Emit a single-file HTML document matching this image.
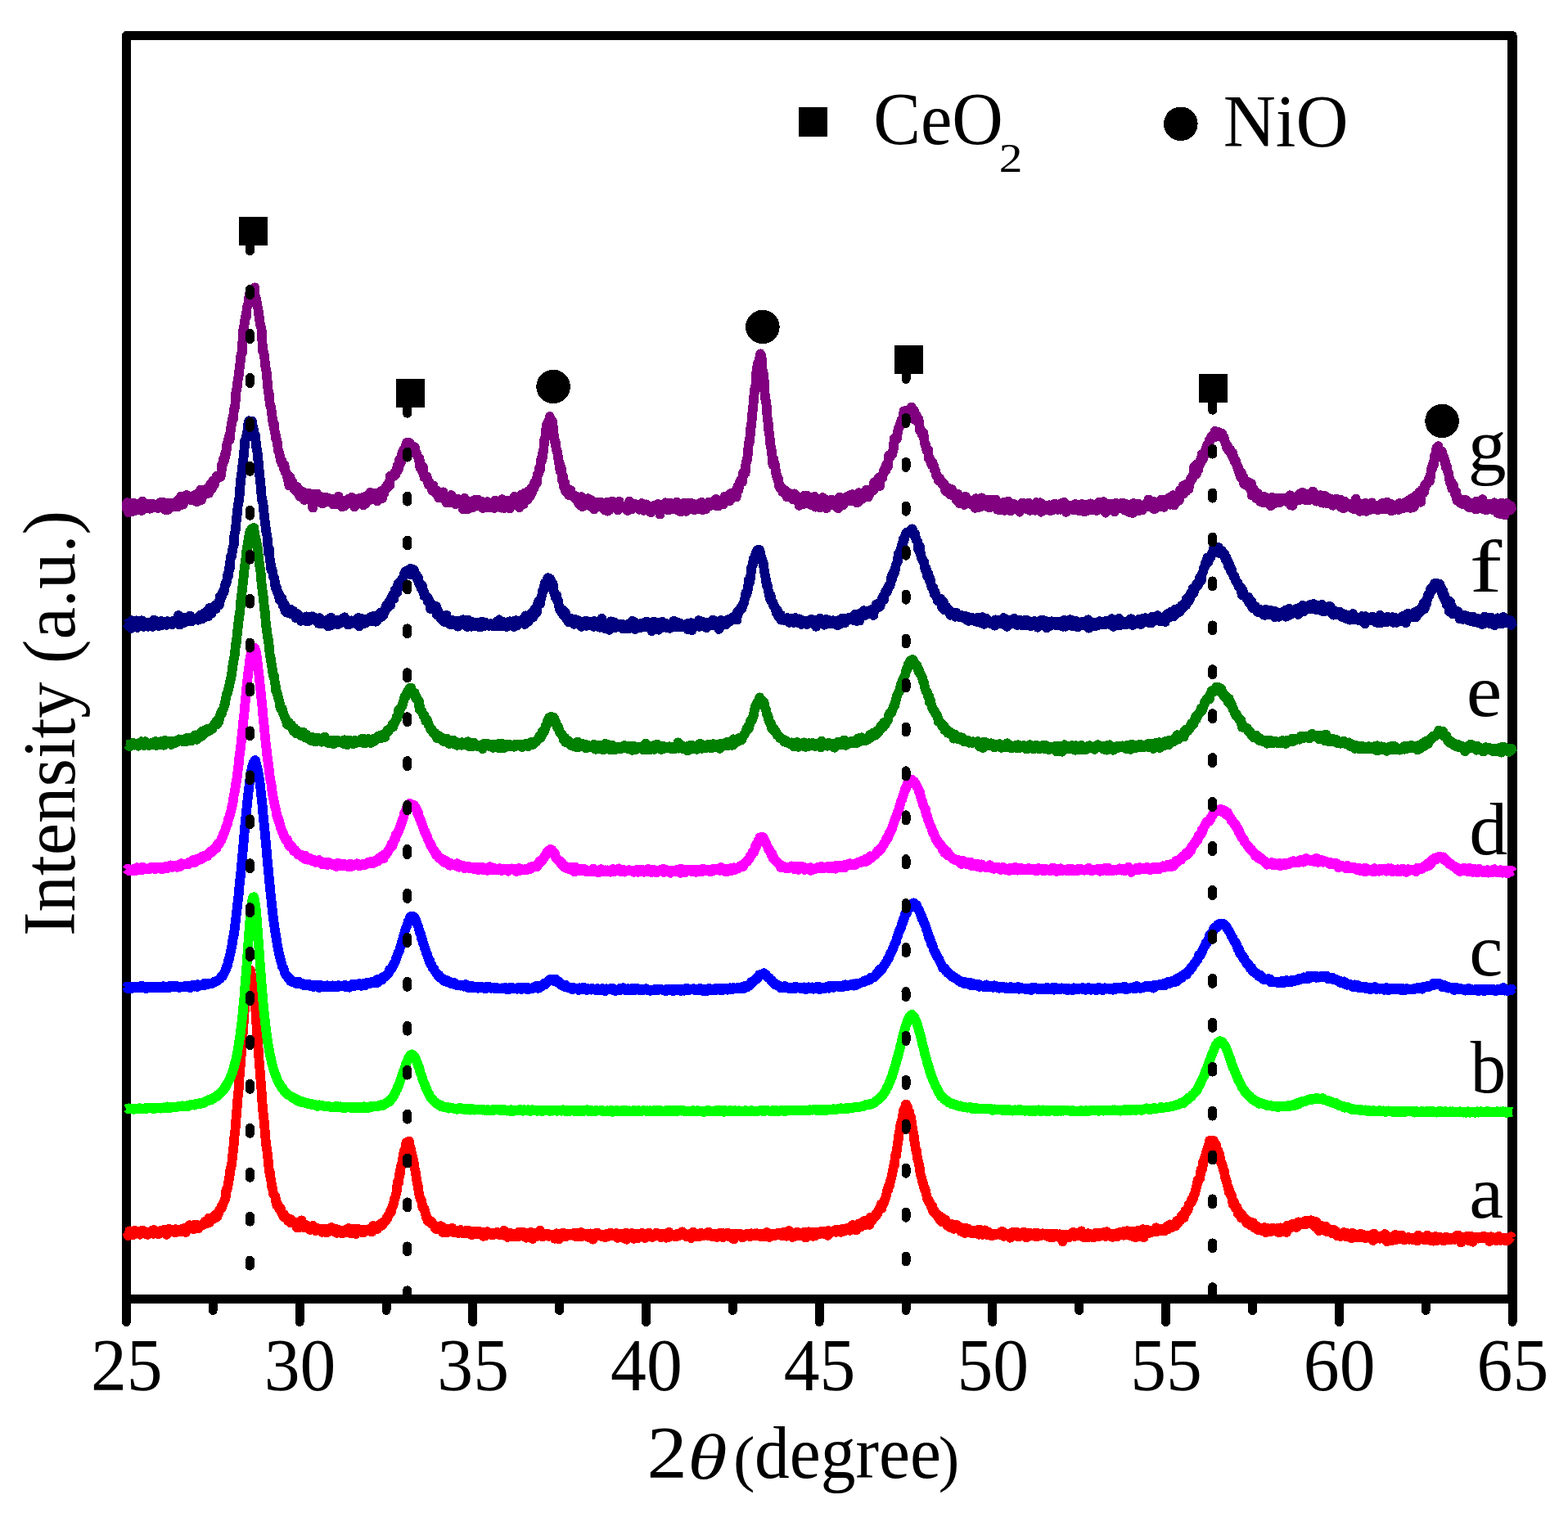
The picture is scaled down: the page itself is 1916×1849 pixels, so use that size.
<!DOCTYPE html><html><head><meta charset="utf-8"><title>XRD</title><style>html,body{margin:0;padding:0;background:#fff;overflow:hidden}svg{display:block}</style></head><body>
<svg width="1916" height="1849" viewBox="0 0 1916 1849" shape-rendering="crispEdges">
<rect width="1916" height="1849" fill="#fff"/>
<rect x="154.4" y="43.45" width="1693.6" height="1543.95" fill="none" stroke="#000" stroke-width="11" stroke-linejoin="round"/>
<line x1="1848.0" y1="43.45" x2="1848.0" y2="1587.4" stroke="#000" stroke-width="12"/>
<line x1="154.4" y1="1587.4" x2="154.4" y2="1615.5" stroke="#000" stroke-width="11" stroke-linecap="round"/>
<line x1="260.2" y1="1587.4" x2="260.2" y2="1601.4" stroke="#000" stroke-width="11" stroke-linecap="round"/>
<line x1="366.1" y1="1587.4" x2="366.1" y2="1615.5" stroke="#000" stroke-width="11" stroke-linecap="round"/>
<line x1="472.0" y1="1587.4" x2="472.0" y2="1601.4" stroke="#000" stroke-width="11" stroke-linecap="round"/>
<line x1="577.8" y1="1587.4" x2="577.8" y2="1615.5" stroke="#000" stroke-width="11" stroke-linecap="round"/>
<line x1="683.6" y1="1587.4" x2="683.6" y2="1601.4" stroke="#000" stroke-width="11" stroke-linecap="round"/>
<line x1="789.5" y1="1587.4" x2="789.5" y2="1615.5" stroke="#000" stroke-width="11" stroke-linecap="round"/>
<line x1="895.4" y1="1587.4" x2="895.4" y2="1601.4" stroke="#000" stroke-width="11" stroke-linecap="round"/>
<line x1="1001.2" y1="1587.4" x2="1001.2" y2="1615.5" stroke="#000" stroke-width="11" stroke-linecap="round"/>
<line x1="1107.0" y1="1587.4" x2="1107.0" y2="1601.4" stroke="#000" stroke-width="11" stroke-linecap="round"/>
<line x1="1212.9" y1="1587.4" x2="1212.9" y2="1615.5" stroke="#000" stroke-width="11" stroke-linecap="round"/>
<line x1="1318.8" y1="1587.4" x2="1318.8" y2="1601.4" stroke="#000" stroke-width="11" stroke-linecap="round"/>
<line x1="1424.6" y1="1587.4" x2="1424.6" y2="1615.5" stroke="#000" stroke-width="11" stroke-linecap="round"/>
<line x1="1530.5" y1="1587.4" x2="1530.5" y2="1601.4" stroke="#000" stroke-width="11" stroke-linecap="round"/>
<line x1="1636.3" y1="1587.4" x2="1636.3" y2="1615.5" stroke="#000" stroke-width="11" stroke-linecap="round"/>
<line x1="1742.2" y1="1587.4" x2="1742.2" y2="1601.4" stroke="#000" stroke-width="11" stroke-linecap="round"/>
<line x1="1848.0" y1="1587.4" x2="1848.0" y2="1615.5" stroke="#000" stroke-width="11" stroke-linecap="round"/>
<polyline fill="none" stroke="#FF0000" stroke-width="11.8" stroke-linejoin="round" stroke-linecap="butt" points="154.4,1506.2 155.2,1505.9 156.1,1509.7 156.9,1510.2 157.8,1507 158.6,1504.4 159.5,1507 160.3,1506.7 161.2,1505 162,1509.3 162.9,1508.3 163.7,1504 164.6,1508.1 165.4,1503.9 166.3,1505.7 167.1,1504.8 167.9,1505.1 168.8,1506.4 169.6,1505.5 170.5,1505.7 171.3,1508.7 172.2,1505.7 173,1507 173.9,1503.4 174.7,1506.5 175.6,1507.4 176.4,1506.3 177.3,1505 178.1,1507.9 179,1508.6 179.8,1506.2 180.7,1508.8 181.5,1508.3 182.3,1506.4 183.2,1506.5 184,1507.6 184.9,1506.9 185.7,1503.8 186.6,1505.3 187.4,1507.8 188.3,1503.1 189.1,1505.5 190,1504.2 190.8,1506.1 191.7,1506.8 192.5,1507.6 193.4,1508.3 194.2,1507.6 195,1504.3 195.9,1505.3 196.7,1506.2 197.6,1504.3 198.4,1504.2 199.3,1503.4 200.1,1506.2 201,1502.7 201.8,1506.3 202.7,1503.7 203.5,1508.8 204.4,1503.6 205.2,1504.9 206.1,1506.2 206.9,1501.8 207.7,1502.7 208.6,1504.4 209.4,1503.5 210.3,1503.2 211.1,1503 212,1503.9 212.8,1502.7 213.7,1506.3 214.5,1502.1 215.4,1505.8 216.2,1505.2 217.1,1503.8 217.9,1502.4 218.8,1503.1 219.6,1505 220.5,1504.6 221.3,1502.6 222.1,1504.1 223,1501.8 223.8,1505 224.7,1505.2 225.5,1500.8 226.4,1503.7 227.2,1506 228.1,1501.2 228.9,1500.7 229.8,1499.8 230.6,1501.3 231.5,1497.2 232.3,1499.9 233.2,1497.9 234,1499.6 234.8,1500.2 235.7,1499.4 236.5,1502.4 237.4,1497.1 238.2,1498 239.1,1496.6 239.9,1498.9 240.8,1497.1 241.6,1497.7 242.5,1501.3 243.3,1497.5 244.2,1497.8 245,1497.7 245.9,1497.5 246.7,1497.8 247.5,1497.5 248.4,1495.1 249.2,1495.8 250.1,1494.6 250.9,1492.3 251.8,1495.1 252.6,1495 253.5,1493.6 254.3,1494.6 255.2,1488.5 256,1494 256.9,1490.8 257.7,1488.8 258.6,1489.3 259.4,1488.2 260.2,1488.7 261.1,1489.4 261.9,1489 262.8,1484.9 263.6,1484.9 264.5,1488 265.3,1486.8 266.2,1484.1 267,1483.4 267.9,1478.7 268.7,1479 269.6,1477.6 270.4,1474.4 271.3,1475.6 272.1,1472.2 273,1469.7 273.8,1469 274.6,1465.9 275.5,1464.8 276.3,1454.8 277.2,1454.8 278,1452 278.9,1446.9 279.7,1441.9 280.6,1436.5 281.4,1429.9 282.3,1425.8 283.1,1423.4 284,1412.9 284.8,1407.4 285.7,1398.3 286.5,1387.7 287.3,1382.9 288.2,1371.1 289,1360.7 289.9,1350.5 290.7,1339.3 291.6,1332.2 292.4,1318.7 293.3,1308.2 294.1,1296.9 295,1285.6 295.8,1269.6 296.7,1263 297.5,1252.4 298.4,1238.7 299.2,1230.5 300,1216.6 300.9,1209.6 301.7,1200.1 302.6,1197.3 303.4,1191.4 304.3,1188.7 305.1,1187.6 306,1185.7 306.8,1190.4 307.7,1194.5 308.5,1196.6 309.4,1205.9 310.2,1212.1 311.1,1222 311.9,1228 312.8,1241 313.6,1254.7 314.4,1266.2 315.3,1275.4 316.1,1288.9 317,1301 317.8,1310.5 318.7,1322.3 319.5,1332.2 320.4,1346.8 321.2,1356.9 322.1,1364.8 322.9,1372.3 323.8,1383.8 324.6,1392.8 325.5,1401.1 326.3,1405.6 327.1,1413.4 328,1420.2 328.8,1431.1 329.7,1431.5 330.5,1439.1 331.4,1443.3 332.2,1450.3 333.1,1452.9 333.9,1458.2 334.8,1460 335.6,1461.3 336.5,1462.4 337.3,1468.9 338.2,1473 339,1470.6 339.8,1473.8 340.7,1476.2 341.5,1478.2 342.4,1475.8 343.2,1477.5 344.1,1482.1 344.9,1482.5 345.8,1485.5 346.6,1487 347.5,1484.3 348.3,1488.3 349.2,1487.8 350,1488.2 350.9,1488.3 351.7,1491.1 352.6,1492.5 353.4,1492.5 354.2,1493.9 355.1,1494.6 355.9,1490.3 356.8,1494.4 357.6,1494.6 358.5,1493.3 359.3,1494.5 360.2,1493.5 361,1495.2 361.9,1495 362.7,1500.1 363.6,1499.1 364.4,1499.7 365.3,1500.6 366.1,1496.7 366.9,1497.9 367.8,1498.4 368.6,1491.4 369.5,1497.9 370.3,1498.9 371.2,1500.2 372,1498.4 372.9,1497.9 373.7,1499.5 374.6,1497.2 375.4,1500.7 376.3,1500.4 377.1,1500.2 378,1500.7 378.8,1503 379.6,1499.3 380.5,1501 381.3,1502.6 382.2,1497.8 383,1502.6 383.9,1501.3 384.7,1502.2 385.6,1504.1 386.4,1503.4 387.3,1503.5 388.1,1500.8 389,1502.2 389.8,1501.5 390.7,1502.4 391.5,1503.1 392.4,1502.5 393.2,1505.8 394,1502.8 394.9,1501.6 395.7,1503.1 396.6,1503.9 397.4,1503.3 398.3,1501.6 399.1,1506.6 400,1503.6 400.8,1503.5 401.7,1505 402.5,1502.1 403.4,1504.6 404.2,1500.9 405.1,1499.9 405.9,1503.7 406.7,1502.5 407.6,1504.5 408.4,1503.1 409.3,1505.1 410.1,1506.3 411,1501.9 411.8,1506.9 412.7,1502.8 413.5,1505.7 414.4,1503 415.2,1506.1 416.1,1504.8 416.9,1506.8 417.8,1503.4 418.6,1507.2 419.4,1504.6 420.3,1504.7 421.1,1503.7 422,1503.5 422.8,1502.9 423.7,1505.7 424.5,1502 425.4,1505.5 426.2,1501.1 427.1,1504 427.9,1505.5 428.8,1507.2 429.6,1504.1 430.5,1504.9 431.3,1503.7 432.2,1504.7 433,1501.6 433.8,1502.6 434.7,1508 435.5,1503.2 436.4,1502.9 437.2,1505.2 438.1,1501.9 438.9,1504.8 439.8,1502.8 440.6,1503.9 441.5,1503.1 442.3,1505.7 443.2,1506.5 444,1506.5 444.9,1502.5 445.7,1503.9 446.5,1504.4 447.4,1503.2 448.2,1502.6 449.1,1504.4 449.9,1504.4 450.8,1502.8 451.6,1501.6 452.5,1502.2 453.3,1502.8 454.2,1505.5 455,1501.9 455.9,1498 456.7,1499.5 457.6,1500.1 458.4,1501.1 459.2,1499.9 460.1,1498.6 460.9,1501.9 461.8,1497.7 462.6,1498.7 463.5,1496.6 464.3,1497.1 465.2,1498.7 466,1495 466.9,1496.1 467.7,1496.7 468.6,1493.6 469.4,1493.7 470.3,1492.3 471.1,1492 471.9,1491.1 472.8,1487.8 473.6,1488.7 474.5,1485 475.3,1484.1 476.2,1483.3 477,1479.6 477.9,1481.6 478.7,1476.8 479.6,1474 480.4,1473.3 481.3,1469 482.1,1464.5 483,1462.9 483.8,1459.8 484.7,1456.5 485.5,1447.5 486.3,1443.1 487.2,1445.4 488,1435.2 488.9,1433.9 489.7,1425.6 490.6,1425.1 491.4,1420.3 492.3,1414.9 493.1,1410.6 494,1406 494.8,1405.7 495.7,1400.5 496.5,1396.2 497.4,1396 498.2,1396.9 499,1396 499.9,1394.7 500.7,1399.7 501.6,1402.7 502.4,1407.4 503.3,1409.9 504.1,1414.4 505,1416.6 505.8,1422 506.7,1428 507.5,1430.2 508.4,1436.5 509.2,1442.2 510.1,1446.6 510.9,1450.1 511.7,1457.6 512.6,1461.4 513.4,1464.6 514.3,1465.1 515.1,1467.7 516,1473.2 516.8,1476.5 517.7,1476.9 518.5,1477.6 519.4,1481.2 520.2,1484.8 521.1,1488.5 521.9,1487.8 522.8,1492.4 523.6,1490.8 524.5,1492.5 525.3,1493.9 526.1,1493.8 527,1494.8 527.8,1493 528.7,1496.6 529.5,1496.9 530.4,1497.2 531.2,1499.3 532.1,1501.8 532.9,1500.5 533.8,1500.2 534.6,1502 535.5,1500.6 536.3,1501.7 537.2,1501.4 538,1501 538.8,1498.2 539.7,1501.1 540.5,1499.3 541.4,1506.3 542.2,1504.3 543.1,1502.7 543.9,1503.2 544.8,1504.6 545.6,1503 546.5,1506.2 547.3,1502 548.2,1503.8 549,1503.7 549.9,1505.4 550.7,1503 551.5,1504.5 552.4,1500.7 553.2,1503.2 554.1,1505.7 554.9,1506.6 555.8,1504.6 556.6,1503.9 557.5,1506.4 558.3,1504.8 559.2,1506 560,1507.2 560.9,1504.7 561.7,1506.4 562.6,1503 563.4,1505.2 564.3,1506 565.1,1504.7 565.9,1507.5 566.8,1505 567.6,1506.1 568.5,1504.8 569.3,1505.1 570.2,1503.4 571,1504.3 571.9,1507.4 572.7,1506.6 573.6,1504.3 574.4,1506.5 575.3,1508.9 576.1,1508.6 577,1508 577.8,1508.8 578.6,1505.6 579.5,1504.9 580.3,1508.5 581.2,1506.5 582,1505.8 582.9,1504.5 583.7,1507.9 584.6,1504.7 585.4,1505 586.3,1507.5 587.1,1507.8 588,1507.7 588.8,1509.5 589.7,1507.1 590.5,1510.8 591.3,1506 592.2,1507 593,1507.4 593.9,1510 594.7,1505.7 595.6,1505.2 596.4,1507.3 597.3,1507.5 598.1,1506.8 599,1507.3 599.8,1508.9 600.7,1509.4 601.5,1507.3 602.4,1508.6 603.2,1509 604.1,1508.4 604.9,1507.7 605.7,1507 606.6,1506.2 607.4,1506.1 608.3,1508.2 609.1,1507.4 610,1509.1 610.8,1509.5 611.7,1506.9 612.5,1506.5 613.4,1509.2 614.2,1507.8 615.1,1504.2 615.9,1508.3 616.8,1504.2 617.6,1508 618.4,1507.9 619.3,1508.6 620.1,1511.9 621,1506.7 621.8,1510.9 622.7,1506.4 623.5,1510.2 624.4,1511.6 625.2,1508.6 626.1,1507.4 626.9,1507.4 627.8,1509.8 628.6,1508.9 629.5,1510.3 630.3,1511.6 631.1,1510.4 632,1511.3 632.8,1511.3 633.7,1505.9 634.5,1510.1 635.4,1507.4 636.2,1510.5 637.1,1507.6 637.9,1510.5 638.8,1505.4 639.6,1506.4 640.5,1508 641.3,1509.8 642.2,1510.2 643,1512.8 643.9,1506.9 644.7,1507.9 645.5,1511.5 646.4,1510.2 647.2,1508.2 648.1,1505.8 648.9,1511.9 649.8,1507.2 650.6,1514 651.5,1509 652.3,1508.8 653.2,1510 654,1507.9 654.9,1506.8 655.7,1511.1 656.6,1507.9 657.4,1509.4 658.2,1506 659.1,1509.2 659.9,1503.5 660.8,1509.1 661.6,1508.6 662.5,1510.8 663.3,1511.4 664.2,1511 665,1507.7 665.9,1510.5 666.7,1508.6 667.6,1508 668.4,1509.4 669.3,1509.6 670.1,1507.9 670.9,1510.8 671.8,1509.5 672.6,1510.6 673.5,1508.6 674.3,1509.8 675.2,1509.9 676,1508.7 676.9,1508.6 677.7,1513.7 678.6,1508.8 679.4,1509.1 680.3,1507.3 681.1,1510 682,1507.5 682.8,1514.3 683.6,1509.1 684.5,1511.6 685.3,1511.3 686.2,1510.3 687,1507.8 687.9,1506.7 688.7,1507.2 689.6,1510.8 690.4,1508.8 691.3,1511.4 692.1,1509.5 693,1510.3 693.8,1508.7 694.7,1507.6 695.5,1507.7 696.4,1508.9 697.2,1509.7 698,1509.6 698.9,1509 699.7,1509.7 700.6,1507.8 701.4,1506.9 702.3,1508.8 703.1,1510.9 704,1506.9 704.8,1510.2 705.7,1510.8 706.5,1509.5 707.4,1510.9 708.2,1508.2 709.1,1511.6 709.9,1506 710.7,1511.2 711.6,1509.1 712.4,1507.3 713.3,1507.9 714.1,1509.1 715,1507.7 715.8,1510.7 716.7,1507.9 717.5,1508.6 718.4,1508.4 719.2,1512 720.1,1510.6 720.9,1508.5 721.8,1507.4 722.6,1508.7 723.4,1509.3 724.3,1514.7 725.1,1508.9 726,1509.6 726.8,1509.3 727.7,1510.9 728.5,1506.9 729.4,1509 730.2,1506.5 731.1,1508.2 731.9,1509.2 732.8,1510.3 733.6,1510.1 734.5,1510.7 735.3,1510.2 736.2,1508.5 737,1509.1 737.8,1511.7 738.7,1511.1 739.5,1512.3 740.4,1510.9 741.2,1507.9 742.1,1511.3 742.9,1511 743.8,1510.4 744.6,1507.1 745.5,1508.6 746.3,1506.7 747.2,1508.3 748,1507.9 748.9,1508.5 749.7,1510.4 750.5,1509.7 751.4,1508.4 752.2,1510.2 753.1,1506.9 753.9,1510.7 754.8,1512.8 755.6,1512.3 756.5,1509.9 757.3,1509.3 758.2,1507.5 759,1512.2 759.9,1511.6 760.7,1512.7 761.6,1511.1 762.4,1509.8 763.2,1509.8 764.1,1510.8 764.9,1506.6 765.8,1514.8 766.6,1508.7 767.5,1511.3 768.3,1511 769.2,1511 770,1507.8 770.9,1507.5 771.7,1507.1 772.6,1507.5 773.4,1511 774.3,1513.9 775.1,1509.2 776,1509.7 776.8,1509.8 777.6,1512.2 778.5,1507.5 779.3,1513.1 780.2,1509.1 781,1509.7 781.9,1509.2 782.7,1507.6 783.6,1510.5 784.4,1506.7 785.3,1510 786.1,1508 787,1508.1 787.8,1513 788.7,1509 789.5,1509.9 790.3,1510.5 791.2,1511.5 792,1508.7 792.9,1506.7 793.7,1507.6 794.6,1510.3 795.4,1508.6 796.3,1511.3 797.1,1512 798,1509.3 798.8,1508.5 799.7,1508.7 800.5,1508.2 801.4,1509.2 802.2,1506.5 803,1506.9 803.9,1507.6 804.7,1510.1 805.6,1509.4 806.4,1508.9 807.3,1512.1 808.1,1508.3 809,1511.5 809.8,1508.7 810.7,1509.4 811.5,1507.8 812.4,1511 813.2,1508.7 814.1,1512.7 814.9,1509.8 815.8,1512.5 816.6,1509.1 817.4,1505.8 818.3,1511.5 819.1,1508.8 820,1509.9 820.8,1508.8 821.7,1508.8 822.5,1509.3 823.4,1510.9 824.2,1509.6 825.1,1509.6 825.9,1509.2 826.8,1511.2 827.6,1507.6 828.5,1509.2 829.3,1510.3 830.1,1507.5 831,1509.5 831.8,1508.8 832.7,1509.5 833.5,1505.4 834.4,1508.2 835.2,1508.6 836.1,1508.6 836.9,1510 837.8,1508 838.6,1511.1 839.5,1509.1 840.3,1510.7 841.2,1510.7 842,1509.9 842.8,1508.2 843.7,1510.6 844.5,1513.1 845.4,1510 846.2,1508 847.1,1505.6 847.9,1511.1 848.8,1509.2 849.6,1509.1 850.5,1511 851.3,1508.8 852.2,1509.2 853,1509.8 853.9,1508.6 854.7,1511.2 855.6,1510.3 856.4,1506.7 857.2,1508.4 858.1,1510.3 858.9,1510.5 859.8,1509.7 860.6,1509.3 861.5,1507.7 862.3,1508.1 863.2,1508.2 864,1509.3 864.9,1509.8 865.7,1505.5 866.6,1508.8 867.4,1510.2 868.3,1510.5 869.1,1510.7 869.9,1507.5 870.8,1510.3 871.6,1508.6 872.5,1511.4 873.3,1509.2 874.2,1511.4 875,1511.8 875.9,1507.5 876.7,1511.7 877.6,1511.5 878.4,1509.6 879.3,1507.2 880.1,1506.4 881,1509.8 881.8,1511.4 882.6,1511 883.5,1512.2 884.3,1507.3 885.2,1511 886,1510.9 886.9,1509.3 887.7,1508 888.6,1506.6 889.4,1508.7 890.3,1510.4 891.1,1509.1 892,1511.8 892.8,1511.8 893.7,1512.4 894.5,1513.1 895.3,1511.4 896.2,1507.6 897,1514.3 897.9,1511.1 898.7,1509.3 899.6,1510.9 900.4,1510.5 901.3,1507.7 902.1,1508.5 903,1509.2 903.8,1510.1 904.7,1509.6 905.5,1508.2 906.4,1508.7 907.2,1512.4 908.1,1509.4 908.9,1509.3 909.7,1509 910.6,1510.8 911.4,1509.2 912.3,1507.8 913.1,1508.3 914,1508.6 914.8,1509.7 915.7,1510.9 916.5,1511.2 917.4,1507.3 918.2,1507.3 919.1,1508.5 919.9,1508.9 920.8,1507.5 921.6,1507.6 922.4,1507.4 923.3,1510.5 924.1,1508 925,1507.3 925.8,1507.5 926.7,1509 927.5,1507.5 928.4,1509.5 929.2,1510.9 930.1,1509.4 930.9,1509.4 931.8,1509.5 932.6,1508 933.5,1511.1 934.3,1510.2 935.1,1511.2 936,1509.2 936.8,1506.1 937.7,1507.9 938.5,1507.7 939.4,1509.2 940.2,1512 941.1,1510.3 941.9,1508.3 942.8,1509.5 943.6,1508.7 944.5,1507.6 945.3,1509.7 946.2,1509.1 947,1509.9 947.9,1508.2 948.7,1509.6 949.5,1509.4 950.4,1507 951.2,1508.3 952.1,1509 952.9,1507.1 953.8,1509.7 954.6,1508 955.5,1507.9 956.3,1510.5 957.2,1506.1 958,1509.6 958.9,1510.5 959.7,1506.6 960.6,1510.7 961.4,1509.5 962.2,1510.5 963.1,1508.6 963.9,1504 964.8,1507.9 965.6,1509.2 966.5,1509.4 967.3,1509 968.2,1512 969,1506.8 969.9,1509.7 970.7,1511 971.6,1509.8 972.4,1508.6 973.3,1510.2 974.1,1505.7 974.9,1509.9 975.8,1506.7 976.6,1507.4 977.5,1506.6 978.3,1509.7 979.2,1506.8 980,1509.2 980.9,1507.1 981.7,1509.3 982.6,1505.6 983.4,1507.6 984.3,1512.6 985.1,1508 986,1507 986.8,1506.6 987.7,1505.3 988.5,1510.4 989.3,1506.8 990.2,1508.8 991,1507.4 991.9,1509.6 992.7,1506.1 993.6,1510.9 994.4,1506.1 995.3,1509.5 996.1,1510.3 997,1507.1 997.8,1507.9 998.7,1505.5 999.5,1508.1 1000.4,1507.8 1001.2,1506.7 1002,1508 1002.9,1505.3 1003.7,1506.9 1004.6,1504.7 1005.4,1504.9 1006.3,1505.4 1007.1,1508.2 1008,1506 1008.8,1508.6 1009.7,1507.1 1010.5,1507.5 1011.4,1509.9 1012.2,1504 1013.1,1506.4 1013.9,1506.9 1014.7,1506 1015.6,1504.7 1016.4,1505.6 1017.3,1504.4 1018.1,1504.6 1019,1504.7 1019.8,1503.6 1020.7,1503 1021.5,1505.7 1022.4,1505.6 1023.2,1503 1024.1,1503.7 1024.9,1502.8 1025.8,1503 1026.6,1505.3 1027.5,1505.8 1028.3,1504.9 1029.1,1501.8 1030,1503 1030.8,1504.6 1031.7,1504.6 1032.5,1504.2 1033.4,1501.9 1034.2,1502.2 1035.1,1502.2 1035.9,1500.7 1036.8,1503.3 1037.6,1501.3 1038.5,1503.9 1039.3,1501.8 1040.2,1500 1041,1500.9 1041.8,1496.9 1042.7,1499 1043.5,1500.8 1044.4,1500.9 1045.2,1499.2 1046.1,1503.5 1046.9,1498.1 1047.8,1499.2 1048.6,1499.7 1049.5,1495.4 1050.3,1496.5 1051.2,1499.7 1052,1498.3 1052.9,1495.3 1053.7,1496.9 1054.5,1493.5 1055.4,1492.1 1056.2,1496.6 1057.1,1496.1 1057.9,1497 1058.8,1493.2 1059.6,1491.6 1060.5,1491.1 1061.3,1491.7 1062.2,1496.8 1063,1490 1063.9,1487.4 1064.7,1489 1065.6,1491.5 1066.4,1489.9 1067.3,1487 1068.1,1488.4 1068.9,1487.4 1069.8,1484 1070.6,1485.6 1071.5,1482.4 1072.3,1483.1 1073.2,1480 1074,1478.2 1074.9,1478.6 1075.7,1476.6 1076.6,1471.5 1077.4,1476.9 1078.3,1471.4 1079.1,1471.9 1080,1469.6 1080.8,1467.2 1081.6,1464.7 1082.5,1462.8 1083.3,1459 1084.2,1453.9 1085,1454.5 1085.9,1449.4 1086.7,1449.7 1087.6,1444.4 1088.4,1442.6 1089.3,1438.7 1090.1,1435.4 1091,1430.6 1091.8,1425.7 1092.7,1424.8 1093.5,1417.1 1094.3,1410.5 1095.2,1412.4 1096,1404 1096.9,1397.5 1097.7,1393.2 1098.6,1384 1099.4,1383.3 1100.3,1375.3 1101.1,1372.3 1102,1370.6 1102.8,1364.5 1103.7,1359.5 1104.5,1355.7 1105.4,1356 1106.2,1355.2 1107,1349.4 1107.9,1354.4 1108.7,1352.3 1109.6,1358.2 1110.4,1359.3 1111.3,1358.8 1112.1,1364.4 1113,1365.5 1113.8,1371 1114.7,1376.7 1115.5,1382.5 1116.4,1384.7 1117.2,1393.8 1118.1,1398.5 1118.9,1404.9 1119.8,1405.2 1120.6,1411.9 1121.4,1417.2 1122.3,1420.2 1123.1,1423.8 1124,1429.1 1124.8,1435.5 1125.7,1437.9 1126.5,1440.5 1127.4,1445.9 1128.2,1446.8 1129.1,1450.7 1129.9,1454 1130.8,1454 1131.6,1458.6 1132.5,1461.9 1133.3,1465.6 1134.1,1465.6 1135,1469.5 1135.8,1468.1 1136.7,1470.7 1137.5,1473 1138.4,1476.1 1139.2,1473.9 1140.1,1480.2 1140.9,1481.3 1141.8,1480 1142.6,1483.1 1143.5,1484 1144.3,1482.9 1145.2,1485.9 1146,1486.7 1146.8,1485.1 1147.7,1489.6 1148.5,1488.2 1149.4,1489.9 1150.2,1492.9 1151.1,1490.4 1151.9,1488.3 1152.8,1491.5 1153.6,1492.6 1154.5,1493 1155.3,1490.6 1156.2,1493.6 1157,1497.6 1157.9,1494.6 1158.7,1496 1159.6,1498.5 1160.4,1499.7 1161.2,1496.2 1162.1,1498.2 1162.9,1495.7 1163.8,1497.4 1164.6,1497.1 1165.5,1501.8 1166.3,1500.6 1167.2,1497.1 1168,1501.6 1168.9,1497 1169.7,1500.4 1170.6,1500.3 1171.4,1501.7 1172.3,1502.9 1173.1,1499.5 1173.9,1504.7 1174.8,1501.6 1175.6,1503.5 1176.5,1501.3 1177.3,1502.1 1178.2,1501.9 1179,1507.1 1179.9,1504.9 1180.7,1500.9 1181.6,1506 1182.4,1501.3 1183.3,1503.4 1184.1,1503.7 1185,1505.9 1185.8,1503.6 1186.6,1503.7 1187.5,1507.4 1188.3,1506.7 1189.2,1504.6 1190,1503.7 1190.9,1507.3 1191.7,1504.2 1192.6,1507.3 1193.4,1504.1 1194.3,1504.3 1195.1,1502.8 1196,1508.7 1196.8,1508 1197.7,1508.4 1198.5,1503.2 1199.4,1508.5 1200.2,1508.8 1201,1506.5 1201.9,1508.5 1202.7,1505.3 1203.6,1503.4 1204.4,1504.2 1205.3,1508.2 1206.1,1509.2 1207,1507.6 1207.8,1505.4 1208.7,1507.4 1209.5,1507.6 1210.4,1507.8 1211.2,1507.6 1212.1,1510.4 1212.9,1509.3 1213.7,1508.7 1214.6,1509.4 1215.4,1508 1216.3,1507.9 1217.1,1508.3 1218,1508.8 1218.8,1507.5 1219.7,1507.3 1220.5,1507.5 1221.4,1507.4 1222.2,1509.2 1223.1,1505.4 1223.9,1505.9 1224.8,1504.7 1225.6,1507.6 1226.4,1510.9 1227.3,1506.9 1228.1,1508.4 1229,1507.6 1229.8,1508.9 1230.7,1508.3 1231.5,1509.7 1232.4,1511.1 1233.2,1507.4 1234.1,1512.7 1234.9,1508 1235.8,1507.8 1236.6,1508 1237.5,1505.5 1238.3,1509.1 1239.2,1508 1240,1508.5 1240.8,1510 1241.7,1510.8 1242.5,1506 1243.4,1506.8 1244.2,1507.4 1245.1,1511.3 1245.9,1506.6 1246.8,1507.1 1247.6,1510.5 1248.5,1509.9 1249.3,1509.3 1250.2,1510.6 1251,1505.4 1251.9,1508.2 1252.7,1511 1253.5,1508.6 1254.4,1512.6 1255.2,1510.1 1256.1,1506.8 1256.9,1507.3 1257.8,1508.3 1258.6,1506.8 1259.5,1508 1260.3,1509.5 1261.2,1510 1262,1510.4 1262.9,1508.3 1263.7,1508.1 1264.6,1506.9 1265.4,1511.4 1266.2,1508.8 1267.1,1506.6 1267.9,1507.8 1268.8,1510.8 1269.6,1508 1270.5,1509.8 1271.3,1510.2 1272.2,1508.9 1273,1507.9 1273.9,1507.2 1274.7,1508.8 1275.6,1508.9 1276.4,1509.3 1277.3,1507.7 1278.1,1507.8 1279,1510.5 1279.8,1507.6 1280.6,1511.3 1281.5,1509.5 1282.3,1507.7 1283.2,1511.9 1284,1512.2 1284.9,1510.4 1285.7,1507.9 1286.6,1511.9 1287.4,1509 1288.3,1511.7 1289.1,1511.5 1290,1509.5 1290.8,1507.8 1291.7,1509.8 1292.5,1510.6 1293.3,1509.6 1294.2,1511.1 1295,1508.3 1295.9,1511.7 1296.7,1509.2 1297.6,1508.6 1298.4,1517.2 1299.3,1511.4 1300.1,1511.4 1301,1508.6 1301.8,1509.1 1302.7,1511.1 1303.5,1508.5 1304.4,1511.2 1305.2,1508.9 1306,1512.6 1306.9,1509.7 1307.7,1509.3 1308.6,1508.4 1309.4,1509.8 1310.3,1509.7 1311.1,1505.8 1312,1506.7 1312.8,1511.1 1313.7,1509.2 1314.5,1509.5 1315.4,1509.8 1316.2,1507.2 1317.1,1509.1 1317.9,1510.4 1318.7,1509.2 1319.6,1509 1320.4,1509.6 1321.3,1504.4 1322.1,1509.8 1323,1511.6 1323.8,1511.6 1324.7,1511.4 1325.5,1512.6 1326.4,1511.1 1327.2,1511.2 1328.1,1511.5 1328.9,1512.6 1329.8,1507.1 1330.6,1509.2 1331.5,1510.2 1332.3,1508.1 1333.1,1510.5 1334,1509.2 1334.8,1508.8 1335.7,1509.3 1336.5,1512.5 1337.4,1510.4 1338.2,1511.3 1339.1,1506.7 1339.9,1511.2 1340.8,1509.7 1341.6,1506.6 1342.5,1511.2 1343.3,1508.6 1344.2,1510.1 1345,1509.1 1345.8,1509.7 1346.7,1508.7 1347.5,1508.7 1348.4,1507.8 1349.2,1505.8 1350.1,1509.5 1350.9,1511.1 1351.8,1507.3 1352.6,1505.1 1353.5,1508.7 1354.3,1510.2 1355.2,1510.5 1356,1508.2 1356.9,1507.6 1357.7,1511.1 1358.5,1511.2 1359.4,1511.9 1360.2,1507.9 1361.1,1508 1361.9,1507.4 1362.8,1508.9 1363.6,1507.8 1364.5,1511.6 1365.3,1506.9 1366.2,1509.3 1367,1509.4 1367.9,1506.1 1368.7,1508.3 1369.6,1509.4 1370.4,1509.3 1371.3,1507 1372.1,1509.2 1372.9,1509.7 1373.8,1504.5 1374.6,1507.6 1375.5,1509.4 1376.3,1506.5 1377.2,1508.8 1378,1504.2 1378.9,1508.6 1379.7,1509.7 1380.6,1507.3 1381.4,1504.7 1382.3,1507.8 1383.1,1510.7 1384,1508 1384.8,1504.8 1385.6,1505.8 1386.5,1510 1387.3,1512.2 1388.2,1508.5 1389,1507.4 1389.9,1506.5 1390.7,1503.8 1391.6,1510.9 1392.4,1507.4 1393.3,1507.2 1394.1,1510.7 1395,1507.3 1395.8,1503 1396.7,1502.2 1397.5,1512.3 1398.3,1504.9 1399.2,1506.1 1400,1504.6 1400.9,1505.1 1401.7,1502.7 1402.6,1507.5 1403.4,1506.1 1404.3,1504.6 1405.1,1505.4 1406,1506.4 1406.8,1505.6 1407.7,1505.4 1408.5,1504.7 1409.4,1505.6 1410.2,1505.5 1411.1,1502.1 1411.9,1505.4 1412.7,1500.3 1413.6,1503.6 1414.4,1504 1415.3,1504.8 1416.1,1503.2 1417,1502 1417.8,1503 1418.7,1501.5 1419.5,1504.3 1420.4,1501.7 1421.2,1503.1 1422.1,1501.8 1422.9,1502.7 1423.8,1503.9 1424.6,1501.2 1425.4,1501.2 1426.3,1498.2 1427.1,1502.2 1428,1497.9 1428.8,1498.8 1429.7,1496.4 1430.5,1499.4 1431.4,1496.9 1432.2,1497.1 1433.1,1499.7 1433.9,1496.6 1434.8,1495.7 1435.6,1495.5 1436.5,1498.3 1437.3,1493.7 1438.1,1492 1439,1492 1439.8,1494.6 1440.7,1491.5 1441.5,1490.6 1442.4,1491.5 1443.2,1487 1444.1,1485.3 1444.9,1486.1 1445.8,1487.4 1446.6,1488.4 1447.5,1483.3 1448.3,1479.7 1449.2,1481.9 1450,1481.5 1450.9,1477.7 1451.7,1478.4 1452.5,1472.4 1453.4,1472.2 1454.2,1471.2 1455.1,1470.4 1455.9,1466 1456.8,1466.7 1457.6,1466.3 1458.5,1462.4 1459.3,1459.5 1460.2,1458.9 1461,1453.8 1461.9,1450.7 1462.7,1448.1 1463.6,1442.3 1464.4,1442.9 1465.2,1441.3 1466.1,1440.2 1466.9,1434.2 1467.8,1428.7 1468.6,1429.7 1469.5,1426.7 1470.3,1419.3 1471.2,1418.4 1472,1415.4 1472.9,1412.9 1473.7,1411 1474.6,1405.7 1475.4,1405.9 1476.3,1400.7 1477.1,1401.2 1477.9,1394.2 1478.8,1397.7 1479.6,1395.3 1480.5,1399 1481.3,1396.6 1482.2,1393.7 1483,1394 1483.9,1395.9 1484.7,1399.8 1485.6,1397.8 1486.4,1401.9 1487.3,1405.5 1488.1,1405.6 1489,1407.9 1489.8,1409.9 1490.7,1413.7 1491.5,1419.2 1492.3,1421.8 1493.2,1422.4 1494,1424.9 1494.9,1429.9 1495.7,1430.2 1496.6,1436.1 1497.4,1440.8 1498.3,1442.2 1499.1,1444.6 1500,1449.2 1500.8,1450.3 1501.7,1457 1502.5,1455 1503.4,1459.8 1504.2,1461.4 1505,1460.5 1505.9,1466.8 1506.7,1471.9 1507.6,1469.6 1508.4,1469.4 1509.3,1474.3 1510.1,1476.8 1511,1474.4 1511.8,1476.4 1512.7,1483.2 1513.5,1480.6 1514.4,1481.1 1515.2,1482 1516.1,1487.9 1516.9,1488.5 1517.7,1484.3 1518.6,1487.1 1519.4,1489 1520.3,1488.8 1521.1,1489.3 1522,1490.3 1522.8,1493.7 1523.7,1495.1 1524.5,1491.6 1525.4,1492.4 1526.2,1494.3 1527.1,1493.3 1527.9,1497.6 1528.8,1497.2 1529.6,1495.9 1530.4,1496 1531.3,1494.3 1532.1,1498.1 1533,1500.8 1533.8,1499.4 1534.7,1500.9 1535.5,1500.4 1536.4,1498.7 1537.2,1503.3 1538.1,1502.1 1538.9,1502 1539.8,1503.2 1540.6,1503.6 1541.5,1501.1 1542.3,1503.8 1543.2,1502 1544,1503.5 1544.8,1500 1545.7,1502.6 1546.5,1506.1 1547.4,1504 1548.2,1501.6 1549.1,1501 1549.9,1503.7 1550.8,1505.2 1551.6,1504.1 1552.5,1501.7 1553.3,1505.1 1554.2,1503.1 1555,1500.6 1555.9,1504.2 1556.7,1504.4 1557.5,1502.3 1558.4,1502.3 1559.2,1504.4 1560.1,1502.2 1560.9,1500.8 1561.8,1506 1562.6,1504.4 1563.5,1506.4 1564.3,1500.4 1565.2,1501.3 1566,1502.1 1566.9,1501 1567.7,1502.5 1568.6,1503.6 1569.4,1501.4 1570.2,1500.8 1571.1,1503.5 1571.9,1506.1 1572.8,1497.6 1573.6,1499.7 1574.5,1498.6 1575.3,1499.8 1576.2,1501 1577,1497.2 1577.9,1499.8 1578.7,1496.7 1579.6,1495.6 1580.4,1497.4 1581.3,1497.9 1582.1,1497.1 1583,1497.6 1583.8,1500.1 1584.6,1496.3 1585.5,1498.4 1586.3,1493.4 1587.2,1496.2 1588,1493.9 1588.9,1495.4 1589.7,1494.1 1590.6,1494.5 1591.4,1496.4 1592.3,1494.2 1593.1,1494 1594,1493.2 1594.8,1492.1 1595.7,1496.5 1596.5,1494.2 1597.3,1495.4 1598.2,1495.1 1599,1491.9 1599.9,1493 1600.7,1493.6 1601.6,1492.9 1602.4,1491.3 1603.3,1494 1604.1,1493.8 1605,1497.1 1605.8,1495.4 1606.7,1499.1 1607.5,1497.3 1608.4,1492.9 1609.2,1495.2 1610,1498.8 1610.9,1498.4 1611.7,1504.2 1612.6,1497.5 1613.4,1501.5 1614.3,1501.5 1615.1,1498.1 1616,1500.5 1616.8,1501 1617.7,1499.7 1618.5,1498.9 1619.4,1500.2 1620.2,1498.6 1621.1,1505.1 1621.9,1503 1622.8,1502.4 1623.6,1502.9 1624.4,1504.3 1625.3,1503 1626.1,1503.5 1627,1504.5 1627.8,1507.5 1628.7,1506.8 1629.5,1502.8 1630.4,1507.2 1631.2,1507.5 1632.1,1504.4 1632.9,1509.3 1633.8,1510.1 1634.6,1506.8 1635.5,1508.9 1636.3,1508.8 1637.1,1510.5 1638,1510.9 1638.8,1510.2 1639.7,1508.5 1640.5,1506.9 1641.4,1507.7 1642.2,1506 1643.1,1507.4 1643.9,1506.4 1644.8,1511.2 1645.6,1510.7 1646.5,1508.5 1647.3,1507.3 1648.2,1510.1 1649,1512.1 1649.8,1511.2 1650.7,1511.4 1651.5,1513.4 1652.4,1506.8 1653.2,1512.1 1654.1,1509 1654.9,1512.6 1655.8,1510.7 1656.6,1512.1 1657.5,1508.9 1658.3,1511.5 1659.2,1509.4 1660,1509.2 1660.9,1509.5 1661.7,1512.4 1662.6,1507.8 1663.4,1511.6 1664.2,1510.4 1665.1,1508.4 1665.9,1511.8 1666.8,1512.8 1667.6,1512.9 1668.5,1512.3 1669.3,1513 1670.2,1512.5 1671,1512.5 1671.9,1510 1672.7,1512.1 1673.6,1511.6 1674.4,1511.5 1675.3,1513.3 1676.1,1510.3 1676.9,1514.3 1677.8,1516 1678.6,1507.6 1679.5,1511.9 1680.3,1513.6 1681.2,1509.7 1682,1512.3 1682.9,1510.5 1683.7,1512.7 1684.6,1511.5 1685.4,1511.9 1686.3,1513.7 1687.1,1510.6 1688,1511.5 1688.8,1511.2 1689.6,1513.5 1690.5,1511.7 1691.3,1511.5 1692.2,1508.1 1693,1513 1693.9,1511.9 1694.7,1517.1 1695.6,1514.1 1696.4,1511.8 1697.3,1514 1698.1,1512.7 1699,1512.3 1699.8,1512.8 1700.7,1515.9 1701.5,1515.8 1702.4,1515.3 1703.2,1513 1704,1513.7 1704.9,1509.1 1705.7,1514.2 1706.6,1514.9 1707.4,1514.4 1708.3,1511.5 1709.1,1510.2 1710,1511.4 1710.8,1512.7 1711.7,1513.9 1712.5,1510.8 1713.4,1509.8 1714.2,1514.2 1715.1,1512.4 1715.9,1515.3 1716.7,1514.8 1717.6,1514.4 1718.4,1513.2 1719.3,1514.2 1720.1,1514.3 1721,1512.1 1721.8,1514.7 1722.7,1513.6 1723.5,1513.7 1724.4,1513.6 1725.2,1513.5 1726.1,1512.5 1726.9,1515.2 1727.8,1514.7 1728.6,1514.8 1729.4,1514.5 1730.3,1515.2 1731.1,1512.2 1732,1516.4 1732.8,1509.7 1733.7,1513.8 1734.5,1512.4 1735.4,1511.1 1736.2,1513.1 1737.1,1511.7 1737.9,1512.6 1738.8,1514.4 1739.6,1513.5 1740.5,1515.3 1741.3,1515.3 1742.1,1512.8 1743,1515.5 1743.8,1509.6 1744.7,1510.3 1745.5,1515 1746.4,1514.5 1747.2,1514.3 1748.1,1515.9 1748.9,1515.1 1749.8,1511.6 1750.6,1512.4 1751.5,1516.7 1752.3,1514.5 1753.2,1512.9 1754,1511.1 1754.9,1512.5 1755.7,1513.6 1756.5,1516 1757.4,1512.6 1758.2,1512.9 1759.1,1511.6 1759.9,1511.9 1760.8,1514.4 1761.6,1514 1762.5,1513 1763.3,1513.9 1764.2,1516.4 1765,1513.7 1765.9,1512.4 1766.7,1511.6 1767.6,1512.2 1768.4,1512.4 1769.2,1515.2 1770.1,1513.7 1770.9,1512.7 1771.8,1515.5 1772.6,1513.3 1773.5,1514.7 1774.3,1514.4 1775.2,1512.7 1776,1513.2 1776.9,1512.8 1777.7,1514.8 1778.6,1513.5 1779.4,1510.1 1780.3,1514.6 1781.1,1514.1 1781.9,1509.8 1782.8,1512.5 1783.6,1512.1 1784.5,1511.2 1785.3,1518.4 1786.2,1514.4 1787,1512 1787.9,1514.4 1788.7,1514.5 1789.6,1511.6 1790.4,1512 1791.3,1514.4 1792.1,1512 1793,1510.4 1793.8,1514.9 1794.7,1516.4 1795.5,1515.2 1796.3,1511.8 1797.2,1510.5 1798,1513.3 1798.9,1513 1799.7,1517.7 1800.6,1512.9 1801.4,1512.7 1802.3,1513.4 1803.1,1511.9 1804,1513.6 1804.8,1513.5 1805.7,1512.2 1806.5,1513.7 1807.4,1512.4 1808.2,1513.5 1809,1513.1 1809.9,1511.8 1810.7,1513.3 1811.6,1511.3 1812.4,1513.2 1813.3,1511 1814.1,1511 1815,1512 1815.8,1511.6 1816.7,1513 1817.5,1511.5 1818.4,1514.8 1819.2,1511.8 1820.1,1517.2 1820.9,1515.8 1821.7,1511.3 1822.6,1512.9 1823.4,1512.6 1824.3,1512.1 1825.1,1514.6 1826,1514.6 1826.8,1514.7 1827.7,1513.7 1828.5,1516 1829.4,1513.2 1830.2,1514 1831.1,1510.8 1831.9,1515 1832.8,1512.7 1833.6,1515.8 1834.5,1514.3 1835.3,1514.7 1836.1,1513.6 1837,1514.1 1837.8,1512.9 1838.7,1512.5 1839.5,1516 1840.4,1515.6 1841.2,1514.7 1842.1,1515.9 1842.9,1514.1 1843.8,1513.7 1844.6,1513.7 1845.5,1512.3 1846.3,1511.2 1847.2,1513.1 1848,1513.3"/>
<polyline fill="none" stroke="#00FF00" stroke-width="11.8" stroke-linejoin="round" stroke-linecap="butt" points="154.4,1355.5 155.2,1355.1 156.1,1354.6 156.9,1355.6 157.8,1354.4 158.6,1354.9 159.5,1355.1 160.3,1354.7 161.2,1354.9 162,1355.3 162.9,1355 163.7,1355.9 164.6,1354.9 165.4,1354.9 166.3,1355.4 167.1,1355.3 167.9,1355.5 168.8,1354.7 169.6,1355.1 170.5,1354.3 171.3,1354.6 172.2,1354.5 173,1354.9 173.9,1355.2 174.7,1354.6 175.6,1354.6 176.4,1355.1 177.3,1354.3 178.1,1355.2 179,1353.7 179.8,1354.4 180.7,1354.5 181.5,1354.4 182.3,1354.3 183.2,1354 184,1353.5 184.9,1354 185.7,1354.5 186.6,1354.5 187.4,1355.1 188.3,1354.6 189.1,1354.9 190,1353.8 190.8,1353.7 191.7,1354 192.5,1354.3 193.4,1353.9 194.2,1353.9 195,1354.4 195.9,1353.7 196.7,1354.6 197.6,1354.2 198.4,1354 199.3,1353.4 200.1,1353.9 201,1353.8 201.8,1354.1 202.7,1353.4 203.5,1354 204.4,1352.4 205.2,1353.3 206.1,1354.1 206.9,1353.3 207.7,1353.1 208.6,1353.9 209.4,1353 210.3,1352.8 211.1,1353.2 212,1353.1 212.8,1353 213.7,1352.5 214.5,1352.5 215.4,1352.5 216.2,1353 217.1,1352.2 217.9,1352.4 218.8,1352.4 219.6,1352.3 220.5,1352.3 221.3,1352.2 222.1,1352.3 223,1351.4 223.8,1351.7 224.7,1352.2 225.5,1351.8 226.4,1351.8 227.2,1351.4 228.1,1351.3 228.9,1351.3 229.8,1351.8 230.6,1350.7 231.5,1351.4 232.3,1350.2 233.2,1350.4 234,1350.6 234.8,1350.4 235.7,1349.8 236.5,1350.1 237.4,1350.5 238.2,1349.3 239.1,1349.1 239.9,1349.1 240.8,1349.3 241.6,1349.3 242.5,1349.1 243.3,1349 244.2,1348.9 245,1347.9 245.9,1348.2 246.7,1348.6 247.5,1347.8 248.4,1348.4 249.2,1347.4 250.1,1346.5 250.9,1346.1 251.8,1346.2 252.6,1345.3 253.5,1344.8 254.3,1344.6 255.2,1345 256,1343.8 256.9,1344.1 257.7,1344.3 258.6,1342.8 259.4,1343.1 260.2,1343 261.1,1342.1 261.9,1340.8 262.8,1340.6 263.6,1340.5 264.5,1339.1 265.3,1338.2 266.2,1339.4 267,1337.5 267.9,1337.3 268.7,1335.7 269.6,1335.4 270.4,1335.1 271.3,1334 272.1,1332.7 273,1331.3 273.8,1331.5 274.6,1329.5 275.5,1327.4 276.3,1327.4 277.2,1324.9 278,1324 278.9,1322.5 279.7,1320.4 280.6,1319.1 281.4,1316.8 282.3,1315.2 283.1,1313.1 284,1310.5 284.8,1307.7 285.7,1304.6 286.5,1302.2 287.3,1298.2 288.2,1295.6 289,1291 289.9,1287.7 290.7,1282.1 291.6,1277.1 292.4,1272 293.3,1266.3 294.1,1260.3 295,1252.8 295.8,1245.5 296.7,1237.4 297.5,1228 298.4,1219.2 299.2,1208.3 300,1198 300.9,1187.1 301.7,1176.2 302.6,1163.7 303.4,1152.3 304.3,1140.1 305.1,1129.4 306,1118.4 306.8,1110.5 307.7,1103.3 308.5,1099.1 309.4,1096.4 310.2,1096.3 311.1,1099.3 311.9,1105.4 312.8,1112.2 313.6,1121.6 314.4,1131.1 315.3,1143.3 316.1,1154.9 317,1166.3 317.8,1179.1 318.7,1190.3 319.5,1200.6 320.4,1211.3 321.2,1221.5 322.1,1231.7 322.9,1239.3 323.8,1246.9 324.6,1254.8 325.5,1261.4 326.3,1267.8 327.1,1273 328,1278.8 328.8,1282.3 329.7,1288.1 330.5,1291.5 331.4,1295.2 332.2,1299 333.1,1302.4 333.9,1305.4 334.8,1308.5 335.6,1310.5 336.5,1313.4 337.3,1315.3 338.2,1317.7 339,1319.9 339.8,1321.8 340.7,1323.5 341.5,1323.9 342.4,1325.9 343.2,1327.7 344.1,1328.9 344.9,1329.2 345.8,1330.2 346.6,1332.3 347.5,1333.6 348.3,1333.5 349.2,1334.9 350,1335.7 350.9,1337.2 351.7,1337.2 352.6,1338.4 353.4,1338.9 354.2,1339.2 355.1,1339.4 355.9,1340.2 356.8,1341.5 357.6,1341.4 358.5,1342.2 359.3,1342 360.2,1342.1 361,1342.9 361.9,1344.4 362.7,1344.4 363.6,1344.2 364.4,1344.2 365.3,1346 366.1,1345.5 366.9,1345.9 367.8,1345.7 368.6,1347 369.5,1346.7 370.3,1346.8 371.2,1346.6 372,1347.7 372.9,1347.8 373.7,1347.6 374.6,1348.1 375.4,1347.8 376.3,1348.2 377.1,1349.4 378,1348.4 378.8,1349.2 379.6,1349.6 380.5,1349.9 381.3,1349.2 382.2,1349.9 383,1350.1 383.9,1349.7 384.7,1350.2 385.6,1350.9 386.4,1350.8 387.3,1350.9 388.1,1352.1 389,1350.8 389.8,1350.3 390.7,1351.5 391.5,1351.2 392.4,1351 393.2,1351.2 394,1351.1 394.9,1351.7 395.7,1351.4 396.6,1351.5 397.4,1352.5 398.3,1352.3 399.1,1352.6 400,1351.8 400.8,1351.8 401.7,1351.7 402.5,1352.6 403.4,1352.7 404.2,1352.6 405.1,1352.8 405.9,1353.2 406.7,1352.5 407.6,1352.9 408.4,1352.4 409.3,1352.2 410.1,1352.9 411,1351.7 411.8,1353.2 412.7,1353.3 413.5,1353.4 414.4,1353.1 415.2,1352.4 416.1,1352.3 416.9,1352.9 417.8,1353.7 418.6,1353.3 419.4,1353.3 420.3,1352.4 421.1,1354.1 422,1353.9 422.8,1353.2 423.7,1353.1 424.5,1353.6 425.4,1353.5 426.2,1353 427.1,1353 427.9,1353.1 428.8,1354 429.6,1353 430.5,1353.7 431.3,1354 432.2,1353.5 433,1353.1 433.8,1353.2 434.7,1353.8 435.5,1352.7 436.4,1354 437.2,1354.4 438.1,1352.7 438.9,1352.5 439.8,1353.4 440.6,1353.4 441.5,1354.2 442.3,1353 443.2,1353.4 444,1353.4 444.9,1352.3 445.7,1354.4 446.5,1353.4 447.4,1352.6 448.2,1352.5 449.1,1353.3 449.9,1353.7 450.8,1353.1 451.6,1353.5 452.5,1352.2 453.3,1352.6 454.2,1353 455,1352.7 455.9,1352.3 456.7,1351.7 457.6,1352 458.4,1352.2 459.2,1352.2 460.1,1351.7 460.9,1352.4 461.8,1351.5 462.6,1351.7 463.5,1350.9 464.3,1351 465.2,1351.1 466,1351.3 466.9,1349.9 467.7,1350.2 468.6,1350.7 469.4,1349.2 470.3,1349.1 471.1,1349.1 471.9,1348.1 472.8,1347.3 473.6,1347 474.5,1346.5 475.3,1346.4 476.2,1346.3 477,1344 477.9,1343.4 478.7,1342.1 479.6,1341.2 480.4,1340.2 481.3,1338.9 482.1,1336.6 483,1335.6 483.8,1333.7 484.7,1331.8 485.5,1330.7 486.3,1327.6 487.2,1326 488,1323.9 488.9,1321.3 489.7,1318.8 490.6,1316.2 491.4,1314.3 492.3,1311.1 493.1,1309.4 494,1306.8 494.8,1304.5 495.7,1301.4 496.5,1299.4 497.4,1297.3 498.2,1295.2 499,1293.2 499.9,1292.2 500.7,1290.6 501.6,1289.5 502.4,1288.9 503.3,1288.4 504.1,1289.2 505,1290 505.8,1290.6 506.7,1291.7 507.5,1293.8 508.4,1294.5 509.2,1297.7 510.1,1299.8 510.9,1302.3 511.7,1303.5 512.6,1307.1 513.4,1310.6 514.3,1312.8 515.1,1314.1 516,1317.3 516.8,1320.3 517.7,1322.3 518.5,1324.5 519.4,1326.2 520.2,1329.5 521.1,1330.3 521.9,1332.5 522.8,1334.9 523.6,1335.8 524.5,1337.5 525.3,1339.7 526.1,1340.8 527,1342.2 527.8,1342.6 528.7,1343.4 529.5,1345 530.4,1346 531.2,1346.7 532.1,1347.3 532.9,1347.6 533.8,1349 534.6,1348.8 535.5,1349.8 536.3,1350.9 537.2,1350.6 538,1350.2 538.8,1352.2 539.7,1351.1 540.5,1351.6 541.4,1352.3 542.2,1353 543.1,1352.8 543.9,1352.6 544.8,1352.6 545.6,1352.5 546.5,1353.4 547.3,1353.7 548.2,1354.5 549,1353.9 549.9,1354.5 550.7,1353.4 551.5,1354.4 552.4,1354.5 553.2,1354.2 554.1,1354.4 554.9,1354.8 555.8,1355.2 556.6,1354.7 557.5,1355 558.3,1355.9 559.2,1355.2 560,1354.5 560.9,1354 561.7,1354.8 562.6,1355.4 563.4,1354 564.3,1355.6 565.1,1355.5 565.9,1355.4 566.8,1355.2 567.6,1355.9 568.5,1355.7 569.3,1354.8 570.2,1355.2 571,1356.1 571.9,1355.7 572.7,1354.9 573.6,1354.9 574.4,1356.6 575.3,1355.3 576.1,1355.3 577,1355.1 577.8,1355.9 578.6,1356.6 579.5,1356.6 580.3,1356.6 581.2,1356 582,1356 582.9,1356.2 583.7,1355.8 584.6,1355.8 585.4,1356.1 586.3,1356.5 587.1,1355.6 588,1355.7 588.8,1355.6 589.7,1356.7 590.5,1355.9 591.3,1356.1 592.2,1356.7 593,1356.5 593.9,1356.7 594.7,1356.3 595.6,1356.1 596.4,1356.8 597.3,1356.6 598.1,1356.5 599,1357 599.8,1356.5 600.7,1357.2 601.5,1356.7 602.4,1355.9 603.2,1356.2 604.1,1356.7 604.9,1356 605.7,1355.5 606.6,1356 607.4,1356.1 608.3,1356.3 609.1,1355.6 610,1356.9 610.8,1356.9 611.7,1356.4 612.5,1357.1 613.4,1356.2 614.2,1355.8 615.1,1356.8 615.9,1356.1 616.8,1356.1 617.6,1356.9 618.4,1356.7 619.3,1357.7 620.1,1356.6 621,1357.1 621.8,1356.8 622.7,1357.5 623.5,1356.7 624.4,1356.2 625.2,1357.9 626.1,1356.5 626.9,1356.8 627.8,1357.8 628.6,1356.9 629.5,1356.8 630.3,1356.8 631.1,1357.6 632,1357.4 632.8,1356.9 633.7,1356.5 634.5,1356.8 635.4,1356.1 636.2,1357.1 637.1,1356.4 637.9,1356.8 638.8,1357.8 639.6,1356.9 640.5,1356.2 641.3,1357.4 642.2,1357.2 643,1357 643.9,1357.3 644.7,1357.1 645.5,1356.3 646.4,1357 647.2,1357.8 648.1,1358 648.9,1357.2 649.8,1357.6 650.6,1356.2 651.5,1357.4 652.3,1357.2 653.2,1356.6 654,1357.6 654.9,1356.7 655.7,1357.6 656.6,1357.8 657.4,1357.5 658.2,1357.2 659.1,1357.5 659.9,1357 660.8,1356.6 661.6,1357.5 662.5,1358 663.3,1357.4 664.2,1356.8 665,1357.4 665.9,1357.3 666.7,1357 667.6,1357.5 668.4,1357.1 669.3,1357.2 670.1,1357 670.9,1357.7 671.8,1357.7 672.6,1357.8 673.5,1357 674.3,1356.9 675.2,1357.5 676,1356.7 676.9,1357.3 677.7,1356.5 678.6,1357.6 679.4,1357 680.3,1357.7 681.1,1357.8 682,1356.8 682.8,1357.5 683.6,1356.7 684.5,1357 685.3,1356.9 686.2,1357.6 687,1357 687.9,1356.4 688.7,1357.3 689.6,1357 690.4,1357.3 691.3,1357.9 692.1,1357.3 693,1357 693.8,1357.2 694.7,1357.7 695.5,1358.2 696.4,1357.5 697.2,1357 698,1357.3 698.9,1357.4 699.7,1357.6 700.6,1357.3 701.4,1356.8 702.3,1358 703.1,1357.5 704,1357.8 704.8,1357.9 705.7,1356.9 706.5,1358 707.4,1357.4 708.2,1358.2 709.1,1357.5 709.9,1357 710.7,1357.4 711.6,1357.9 712.4,1358 713.3,1357.1 714.1,1356.7 715,1357.1 715.8,1357.2 716.7,1357.1 717.5,1356.3 718.4,1356.9 719.2,1358.2 720.1,1358.1 720.9,1357.7 721.8,1356.7 722.6,1357.1 723.4,1357.5 724.3,1357.3 725.1,1358.3 726,1357.5 726.8,1357.3 727.7,1357.9 728.5,1357.3 729.4,1357.3 730.2,1357.4 731.1,1357.5 731.9,1357.5 732.8,1357.5 733.6,1357.4 734.5,1357 735.3,1357.2 736.2,1358 737,1357.3 737.8,1357.9 738.7,1357.5 739.5,1358.4 740.4,1357.7 741.2,1357.9 742.1,1357.2 742.9,1358.1 743.8,1358.3 744.6,1357.3 745.5,1357.2 746.3,1357.4 747.2,1357 748,1358 748.9,1358.9 749.7,1357.5 750.5,1358.5 751.4,1358.2 752.2,1357.2 753.1,1357.6 753.9,1356.8 754.8,1357.3 755.6,1358 756.5,1357.8 757.3,1357.7 758.2,1358.1 759,1357.2 759.9,1357.5 760.7,1357.6 761.6,1356.9 762.4,1358.2 763.2,1357.2 764.1,1358.2 764.9,1357.5 765.8,1358.3 766.6,1357.4 767.5,1357.5 768.3,1358.4 769.2,1357.4 770,1357.8 770.9,1358.2 771.7,1357.8 772.6,1357.4 773.4,1358.1 774.3,1357.6 775.1,1357.1 776,1358.1 776.8,1358.3 777.6,1357.6 778.5,1358 779.3,1358.1 780.2,1357 781,1358.2 781.9,1358 782.7,1357.6 783.6,1357.6 784.4,1357.9 785.3,1357.1 786.1,1356.9 787,1357.6 787.8,1357.3 788.7,1357.7 789.5,1357.9 790.3,1357.3 791.2,1357.4 792,1357.9 792.9,1357.4 793.7,1357.4 794.6,1357.2 795.4,1357.4 796.3,1358 797.1,1358.2 798,1357.5 798.8,1357.7 799.7,1357 800.5,1357.6 801.4,1357.8 802.2,1358 803,1356.7 803.9,1357.7 804.7,1357.1 805.6,1358.2 806.4,1358.1 807.3,1357.1 808.1,1357.9 809,1357.4 809.8,1357.5 810.7,1358 811.5,1357.5 812.4,1357.4 813.2,1358.2 814.1,1358 814.9,1357 815.8,1358 816.6,1357.9 817.4,1358 818.3,1356.8 819.1,1357.2 820,1356.8 820.8,1357.8 821.7,1357.3 822.5,1358 823.4,1357 824.2,1356.7 825.1,1357.8 825.9,1357.3 826.8,1357.6 827.6,1358.3 828.5,1357.2 829.3,1357.6 830.1,1357.6 831,1357.2 831.8,1357.6 832.7,1357.7 833.5,1356.9 834.4,1356.6 835.2,1357.8 836.1,1357.8 836.9,1358.1 837.8,1358.2 838.6,1357.8 839.5,1357.5 840.3,1357.7 841.2,1358.6 842,1357.5 842.8,1358.1 843.7,1358.2 844.5,1358.2 845.4,1358.1 846.2,1357.8 847.1,1357.1 847.9,1357.3 848.8,1357.6 849.6,1357.9 850.5,1357.8 851.3,1358.3 852.2,1357.2 853,1357.2 853.9,1358.2 854.7,1357.7 855.6,1357.7 856.4,1357.7 857.2,1358.1 858.1,1358.1 858.9,1358 859.8,1358.8 860.6,1358.1 861.5,1357.5 862.3,1357.8 863.2,1358.6 864,1357.2 864.9,1358.1 865.7,1357.4 866.6,1357.1 867.4,1357.4 868.3,1357.6 869.1,1358.3 869.9,1357.4 870.8,1358.4 871.6,1357.7 872.5,1358.2 873.3,1357.7 874.2,1357.3 875,1358.4 875.9,1357.4 876.7,1357.7 877.6,1358.4 878.4,1356.8 879.3,1357.1 880.1,1358.1 881,1357.4 881.8,1357.6 882.6,1358 883.5,1356.6 884.3,1358.9 885.2,1357.8 886,1356.9 886.9,1358.3 887.7,1357.4 888.6,1358.5 889.4,1358.5 890.3,1357.5 891.1,1357.3 892,1357 892.8,1358.1 893.7,1357.2 894.5,1357.7 895.3,1357.6 896.2,1357.8 897,1357.3 897.9,1357.7 898.7,1357.3 899.6,1357.7 900.4,1357.6 901.3,1357.7 902.1,1358.1 903,1357.4 903.8,1357.8 904.7,1358.2 905.5,1357.6 906.4,1358 907.2,1358.5 908.1,1357.7 908.9,1357.9 909.7,1357.7 910.6,1358.4 911.4,1357 912.3,1357.5 913.1,1357.5 914,1357.5 914.8,1357.6 915.7,1357.8 916.5,1357.4 917.4,1357.2 918.2,1357.1 919.1,1358.2 919.9,1357.6 920.8,1357.8 921.6,1358 922.4,1357.8 923.3,1357.5 924.1,1357.7 925,1358.2 925.8,1357.8 926.7,1357.7 927.5,1357.3 928.4,1357.5 929.2,1357.1 930.1,1357.3 930.9,1356.9 931.8,1358.1 932.6,1357.5 933.5,1358.2 934.3,1357.2 935.1,1357.2 936,1357.6 936.8,1357.4 937.7,1357.1 938.5,1357.4 939.4,1357.4 940.2,1357.7 941.1,1357.7 941.9,1357.5 942.8,1357.3 943.6,1358.1 944.5,1357.2 945.3,1356.7 946.2,1357.8 947,1357.6 947.9,1357.5 948.7,1356.9 949.5,1357.7 950.4,1358 951.2,1357.9 952.1,1358.1 952.9,1357.3 953.8,1357.2 954.6,1357.1 955.5,1357.4 956.3,1356.8 957.2,1356.8 958,1358.1 958.9,1357 959.7,1358.3 960.6,1357.5 961.4,1357.5 962.2,1357 963.1,1357.1 963.9,1356.9 964.8,1357.2 965.6,1356.8 966.5,1357.2 967.3,1356.5 968.2,1356.6 969,1356.9 969.9,1357 970.7,1356.5 971.6,1356.9 972.4,1356.5 973.3,1357 974.1,1357 974.9,1356.7 975.8,1356.7 976.6,1356.5 977.5,1357.1 978.3,1356.7 979.2,1356.8 980,1357.3 980.9,1357.2 981.7,1357.2 982.6,1357.5 983.4,1356.6 984.3,1356.7 985.1,1356.8 986,1356.8 986.8,1356.6 987.7,1356.5 988.5,1357 989.3,1356.2 990.2,1356.7 991,1356.5 991.9,1356.6 992.7,1356.6 993.6,1356.3 994.4,1356.4 995.3,1356.1 996.1,1356.6 997,1356.3 997.8,1356.7 998.7,1357.2 999.5,1355.7 1000.4,1356.9 1001.2,1356.9 1002,1355.8 1002.9,1356.9 1003.7,1356.5 1004.6,1356.3 1005.4,1356.1 1006.3,1356.7 1007.1,1357.5 1008,1356.5 1008.8,1356.1 1009.7,1356 1010.5,1356.6 1011.4,1355.7 1012.2,1356.3 1013.1,1356.3 1013.9,1355.8 1014.7,1356.1 1015.6,1356.1 1016.4,1355.8 1017.3,1355.4 1018.1,1355.9 1019,1355.4 1019.8,1355.9 1020.7,1356.1 1021.5,1356 1022.4,1355.8 1023.2,1355.4 1024.1,1355.2 1024.9,1354.6 1025.8,1355.3 1026.6,1355.5 1027.5,1354.1 1028.3,1355.2 1029.1,1355.4 1030,1354.8 1030.8,1354.6 1031.7,1354.7 1032.5,1354.4 1033.4,1354.4 1034.2,1354.7 1035.1,1353.5 1035.9,1355 1036.8,1354.5 1037.6,1354.4 1038.5,1354.3 1039.3,1354.4 1040.2,1354.3 1041,1353.7 1041.8,1353.6 1042.7,1353.7 1043.5,1353.5 1044.4,1352.9 1045.2,1353.1 1046.1,1352.6 1046.9,1353.1 1047.8,1352.5 1048.6,1353.2 1049.5,1352.6 1050.3,1353 1051.2,1352.7 1052,1352.3 1052.9,1352.2 1053.7,1352.4 1054.5,1352.1 1055.4,1351.8 1056.2,1351.3 1057.1,1351.1 1057.9,1350.1 1058.8,1350 1059.6,1350.3 1060.5,1350 1061.3,1350.2 1062.2,1350.5 1063,1350.2 1063.9,1348.8 1064.7,1348.6 1065.6,1349.2 1066.4,1349 1067.3,1348.6 1068.1,1347.5 1068.9,1347.6 1069.8,1346.2 1070.6,1345.5 1071.5,1344.8 1072.3,1344.5 1073.2,1343.9 1074,1343 1074.9,1341.5 1075.7,1341.5 1076.6,1340.7 1077.4,1339.9 1078.3,1338.7 1079.1,1337.7 1080,1336.3 1080.8,1335.3 1081.6,1333.9 1082.5,1332.6 1083.3,1329.7 1084.2,1329.1 1085,1327.8 1085.9,1325.3 1086.7,1323.3 1087.6,1321.9 1088.4,1319.2 1089.3,1316.8 1090.1,1315.3 1091,1311.6 1091.8,1309 1092.7,1306.5 1093.5,1303.9 1094.3,1300.7 1095.2,1297.8 1096,1294.5 1096.9,1292.2 1097.7,1289 1098.6,1285.2 1099.4,1282.8 1100.3,1277.9 1101.1,1275.6 1102,1271.4 1102.8,1267.8 1103.7,1264.6 1104.5,1261.7 1105.4,1259.1 1106.2,1255.4 1107,1253 1107.9,1250.9 1108.7,1248.2 1109.6,1246.3 1110.4,1243.8 1111.3,1242.8 1112.1,1242 1113,1241 1113.8,1240.1 1114.7,1239.9 1115.5,1241.2 1116.4,1242.2 1117.2,1242.8 1118.1,1246 1118.9,1246.4 1119.8,1248.6 1120.6,1251.3 1121.4,1253.9 1122.3,1256.6 1123.1,1260.1 1124,1262.8 1124.8,1265.9 1125.7,1269.5 1126.5,1273.1 1127.4,1276.8 1128.2,1279.7 1129.1,1282.6 1129.9,1286.8 1130.8,1290.3 1131.6,1292.6 1132.5,1295.8 1133.3,1299.4 1134.1,1301.7 1135,1304.6 1135.8,1307.9 1136.7,1310.5 1137.5,1313.5 1138.4,1315.4 1139.2,1317.5 1140.1,1319.6 1140.9,1321.9 1141.8,1323.5 1142.6,1326 1143.5,1328.1 1144.3,1328.7 1145.2,1330.7 1146,1332.3 1146.8,1334.3 1147.7,1336.1 1148.5,1336.5 1149.4,1339.2 1150.2,1340 1151.1,1339.4 1151.9,1340.9 1152.8,1341.2 1153.6,1343.5 1154.5,1343.9 1155.3,1344.5 1156.2,1344.4 1157,1345.2 1157.9,1345.6 1158.7,1347.3 1159.6,1347.2 1160.4,1347.4 1161.2,1347.9 1162.1,1348.2 1162.9,1349.4 1163.8,1348.9 1164.6,1348.9 1165.5,1350 1166.3,1350.1 1167.2,1350.5 1168,1350.2 1168.9,1350.4 1169.7,1351 1170.6,1351.6 1171.4,1351.4 1172.3,1351.7 1173.1,1351.4 1173.9,1352.1 1174.8,1351.9 1175.6,1352.1 1176.5,1352.5 1177.3,1353.2 1178.2,1353.2 1179,1352.9 1179.9,1353.3 1180.7,1353.3 1181.6,1353.7 1182.4,1353.5 1183.3,1353.4 1184.1,1353.5 1185,1352.8 1185.8,1353.7 1186.6,1354.1 1187.5,1354.6 1188.3,1354.9 1189.2,1354 1190,1353.4 1190.9,1355.2 1191.7,1354.7 1192.6,1355.1 1193.4,1354.3 1194.3,1354.4 1195.1,1354.7 1196,1354.9 1196.8,1354.9 1197.7,1355.5 1198.5,1355.3 1199.4,1354.8 1200.2,1355.2 1201,1355.4 1201.9,1355.1 1202.7,1355.5 1203.6,1355.6 1204.4,1355.4 1205.3,1355.4 1206.1,1355 1207,1355.1 1207.8,1355.4 1208.7,1355.6 1209.5,1355 1210.4,1355.7 1211.2,1355.2 1212.1,1355.3 1212.9,1357 1213.7,1356 1214.6,1356.2 1215.4,1355.3 1216.3,1356.2 1217.1,1355.6 1218,1355.7 1218.8,1355.7 1219.7,1355.8 1220.5,1355.8 1221.4,1356.3 1222.2,1356.6 1223.1,1356.5 1223.9,1356.3 1224.8,1356.5 1225.6,1357.2 1226.4,1356.8 1227.3,1355.8 1228.1,1355.6 1229,1356.8 1229.8,1356.7 1230.7,1357 1231.5,1355.9 1232.4,1356.5 1233.2,1356.9 1234.1,1356.4 1234.9,1357.1 1235.8,1356.7 1236.6,1357.3 1237.5,1357.6 1238.3,1357.1 1239.2,1357 1240,1356.2 1240.8,1357.5 1241.7,1356.6 1242.5,1356.8 1243.4,1357.1 1244.2,1356.4 1245.1,1356.9 1245.9,1357.6 1246.8,1356.1 1247.6,1356.4 1248.5,1357.3 1249.3,1356.9 1250.2,1357.6 1251,1356.6 1251.9,1357.1 1252.7,1357.7 1253.5,1357 1254.4,1357.1 1255.2,1356.9 1256.1,1357.2 1256.9,1357.1 1257.8,1357 1258.6,1358 1259.5,1357.6 1260.3,1357 1261.2,1358 1262,1356.7 1262.9,1357.3 1263.7,1356.9 1264.6,1358.1 1265.4,1357.1 1266.2,1357.5 1267.1,1357.5 1267.9,1357.2 1268.8,1356.3 1269.6,1357.7 1270.5,1357 1271.3,1358.2 1272.2,1357.7 1273,1357.3 1273.9,1357.8 1274.7,1356.4 1275.6,1357.5 1276.4,1357.4 1277.3,1357.9 1278.1,1357.6 1279,1357.9 1279.8,1358 1280.6,1356.8 1281.5,1357.4 1282.3,1356.7 1283.2,1357.8 1284,1356.9 1284.9,1357.2 1285.7,1357.2 1286.6,1357.4 1287.4,1357.2 1288.3,1357.8 1289.1,1358.2 1290,1356.9 1290.8,1358 1291.7,1357 1292.5,1357.8 1293.3,1357.7 1294.2,1357.4 1295,1357.2 1295.9,1357.3 1296.7,1357.8 1297.6,1357.4 1298.4,1356.8 1299.3,1357.7 1300.1,1357.5 1301,1357.2 1301.8,1356.8 1302.7,1357.5 1303.5,1357.1 1304.4,1357.3 1305.2,1356.9 1306,1357.4 1306.9,1357.4 1307.7,1357.9 1308.6,1357.5 1309.4,1357.2 1310.3,1358.1 1311.1,1357.2 1312,1357.5 1312.8,1357.7 1313.7,1357.7 1314.5,1357.5 1315.4,1358 1316.2,1357.5 1317.1,1357.4 1317.9,1357.6 1318.7,1358.5 1319.6,1357.8 1320.4,1357.1 1321.3,1357 1322.1,1357.3 1323,1357.6 1323.8,1357.9 1324.7,1358.3 1325.5,1357.4 1326.4,1357.4 1327.2,1357.1 1328.1,1357.3 1328.9,1358.1 1329.8,1357.5 1330.6,1357.7 1331.5,1357.6 1332.3,1357.1 1333.1,1356.9 1334,1357 1334.8,1357.2 1335.7,1357.2 1336.5,1357.4 1337.4,1357.1 1338.2,1357.1 1339.1,1357.3 1339.9,1357.2 1340.8,1357.3 1341.6,1357.7 1342.5,1357.4 1343.3,1357.7 1344.2,1357.3 1345,1357 1345.8,1357.5 1346.7,1357.3 1347.5,1357.4 1348.4,1357.6 1349.2,1357 1350.1,1356.7 1350.9,1356.7 1351.8,1357.5 1352.6,1357.4 1353.5,1357.5 1354.3,1357 1355.2,1357.2 1356,1356.9 1356.9,1356.6 1357.7,1357 1358.5,1356.8 1359.4,1356.4 1360.2,1356.5 1361.1,1357.3 1361.9,1356.3 1362.8,1357.2 1363.6,1356.6 1364.5,1357 1365.3,1356.8 1366.2,1356.7 1367,1356.6 1367.9,1356.8 1368.7,1357.8 1369.6,1356.6 1370.4,1356.7 1371.3,1357.1 1372.1,1356.5 1372.9,1356.4 1373.8,1356.7 1374.6,1356 1375.5,1356.8 1376.3,1356.3 1377.2,1357.1 1378,1356.5 1378.9,1356.2 1379.7,1357 1380.6,1356.1 1381.4,1355.8 1382.3,1356.9 1383.1,1356.5 1384,1356.2 1384.8,1356.3 1385.6,1355.9 1386.5,1357 1387.3,1357.1 1388.2,1356.6 1389,1356.3 1389.9,1356.2 1390.7,1356.1 1391.6,1356.2 1392.4,1355.7 1393.3,1356.1 1394.1,1355.4 1395,1356.9 1395.8,1356.1 1396.7,1355.8 1397.5,1355.8 1398.3,1355.2 1399.2,1354.9 1400,1355 1400.9,1354.2 1401.7,1355.3 1402.6,1355.2 1403.4,1355.4 1404.3,1355.2 1405.1,1356.4 1406,1354.6 1406.8,1355.6 1407.7,1355.6 1408.5,1354.4 1409.4,1355.5 1410.2,1354.9 1411.1,1354.2 1411.9,1354.7 1412.7,1354.6 1413.6,1354.8 1414.4,1354.5 1415.3,1354.6 1416.1,1354.2 1417,1354.2 1417.8,1353.9 1418.7,1352.8 1419.5,1353.4 1420.4,1354.5 1421.2,1353.6 1422.1,1353.6 1422.9,1353.4 1423.8,1353.5 1424.6,1353 1425.4,1353 1426.3,1353.2 1427.1,1352.9 1428,1352.8 1428.8,1352.7 1429.7,1352.4 1430.5,1352.4 1431.4,1351.9 1432.2,1352.6 1433.1,1351.7 1433.9,1351.5 1434.8,1351.2 1435.6,1351.1 1436.5,1350.5 1437.3,1350.2 1438.1,1350.3 1439,1349.5 1439.8,1349.5 1440.7,1349.8 1441.5,1349.2 1442.4,1348.8 1443.2,1347.7 1444.1,1347.7 1444.9,1347.9 1445.8,1346.7 1446.6,1348 1447.5,1345.8 1448.3,1345 1449.2,1344.8 1450,1343.8 1450.9,1343.3 1451.7,1343.7 1452.5,1341.7 1453.4,1341.8 1454.2,1341.6 1455.1,1340.2 1455.9,1340 1456.8,1338.5 1457.6,1337.6 1458.5,1336.9 1459.3,1336.1 1460.2,1334.4 1461,1333.8 1461.9,1332.7 1462.7,1332.6 1463.6,1329.6 1464.4,1328.3 1465.2,1327.4 1466.1,1324.8 1466.9,1324.1 1467.8,1321.4 1468.6,1320.2 1469.5,1317.8 1470.3,1316.7 1471.2,1315 1472,1312.7 1472.9,1309.9 1473.7,1307.8 1474.6,1306 1475.4,1303.5 1476.3,1302.5 1477.1,1299 1477.9,1296.6 1478.8,1294.8 1479.6,1291.9 1480.5,1289.8 1481.3,1287.9 1482.2,1285.4 1483,1283.7 1483.9,1281.5 1484.7,1279.9 1485.6,1277.4 1486.4,1276 1487.3,1275.1 1488.1,1274.2 1489,1273.3 1489.8,1273.3 1490.7,1272.2 1491.5,1272.4 1492.3,1273.4 1493.2,1273 1494,1274.4 1494.9,1275.9 1495.7,1276.2 1496.6,1277.7 1497.4,1278.8 1498.3,1280.9 1499.1,1283.6 1500,1284.7 1500.8,1287.6 1501.7,1289.9 1502.5,1292.7 1503.4,1294.1 1504.2,1297.1 1505,1299.8 1505.9,1302 1506.7,1304.9 1507.6,1305.9 1508.4,1308.4 1509.3,1310.5 1510.1,1312.5 1511,1314.9 1511.8,1316.1 1512.7,1318.2 1513.5,1320.9 1514.4,1321.5 1515.2,1323.5 1516.1,1325.5 1516.9,1326.8 1517.7,1328.9 1518.6,1329.9 1519.4,1331 1520.3,1332 1521.1,1334.1 1522,1334.8 1522.8,1335.6 1523.7,1336.6 1524.5,1337.7 1525.4,1338.7 1526.2,1339.5 1527.1,1340.4 1527.9,1340.1 1528.8,1341.9 1529.6,1342.9 1530.4,1343.7 1531.3,1343.6 1532.1,1343.7 1533,1345.5 1533.8,1345.7 1534.7,1346.3 1535.5,1346.2 1536.4,1346 1537.2,1347.3 1538.1,1347.4 1538.9,1348.8 1539.8,1347.7 1540.6,1347.9 1541.5,1348.8 1542.3,1348.8 1543.2,1349.1 1544,1349.3 1544.8,1349.6 1545.7,1349.4 1546.5,1349.9 1547.4,1350.8 1548.2,1350.5 1549.1,1351.1 1549.9,1350.8 1550.8,1351.5 1551.6,1350.6 1552.5,1350.9 1553.3,1351.4 1554.2,1351.8 1555,1351.6 1555.9,1351.9 1556.7,1351.8 1557.5,1352.3 1558.4,1351.4 1559.2,1352.4 1560.1,1352.2 1560.9,1352.1 1561.8,1353.1 1562.6,1352.2 1563.5,1352.1 1564.3,1352.4 1565.2,1352 1566,1352.4 1566.9,1351.9 1567.7,1352.3 1568.6,1352.3 1569.4,1351.6 1570.2,1352.1 1571.1,1351.8 1571.9,1351.7 1572.8,1351.3 1573.6,1352.2 1574.5,1351.7 1575.3,1350.8 1576.2,1350.7 1577,1351.8 1577.9,1350.8 1578.7,1350.5 1579.6,1350.6 1580.4,1350 1581.3,1349.8 1582.1,1350.9 1583,1349.6 1583.8,1348.6 1584.6,1348.1 1585.5,1349 1586.3,1349.8 1587.2,1348 1588,1347.3 1588.9,1348 1589.7,1346.9 1590.6,1346.9 1591.4,1346 1592.3,1346.2 1593.1,1346.5 1594,1346.6 1594.8,1345.7 1595.7,1345.3 1596.5,1345 1597.3,1344.4 1598.2,1344.3 1599,1343.8 1599.9,1344.3 1600.7,1343.1 1601.6,1343.5 1602.4,1343.6 1603.3,1343.9 1604.1,1343.3 1605,1342.7 1605.8,1342.9 1606.7,1343.2 1607.5,1342.7 1608.4,1342.6 1609.2,1341.6 1610,1342.9 1610.9,1342.7 1611.7,1342.5 1612.6,1342.8 1613.4,1342.6 1614.3,1342.6 1615.1,1342.7 1616,1342.2 1616.8,1343.8 1617.7,1343.5 1618.5,1344.3 1619.4,1344.2 1620.2,1344.4 1621.1,1344.5 1621.9,1344.6 1622.8,1345 1623.6,1346.5 1624.4,1345.7 1625.3,1346.8 1626.1,1345.9 1627,1346.9 1627.8,1346.7 1628.7,1347.5 1629.5,1348.1 1630.4,1348.5 1631.2,1348.5 1632.1,1348 1632.9,1349 1633.8,1349.8 1634.6,1350.3 1635.5,1349.7 1636.3,1350.6 1637.1,1351.4 1638,1351.4 1638.8,1351.3 1639.7,1351.7 1640.5,1352.2 1641.4,1351.5 1642.2,1353.5 1643.1,1353.8 1643.9,1352.6 1644.8,1353.3 1645.6,1353.4 1646.5,1353 1647.3,1353.4 1648.2,1353.6 1649,1354.6 1649.8,1354.6 1650.7,1354.8 1651.5,1355.7 1652.4,1356.3 1653.2,1355.4 1654.1,1355.2 1654.9,1356 1655.8,1355.5 1656.6,1355.8 1657.5,1355.8 1658.3,1356.3 1659.2,1356.5 1660,1355.6 1660.9,1355.8 1661.7,1356.9 1662.6,1356.1 1663.4,1356.7 1664.2,1357.5 1665.1,1357 1665.9,1357 1666.8,1357 1667.6,1357 1668.5,1356.4 1669.3,1356.6 1670.2,1357.6 1671,1357.9 1671.9,1357.7 1672.7,1356.9 1673.6,1357.7 1674.4,1357.9 1675.3,1357.6 1676.1,1358.1 1676.9,1357.7 1677.8,1357 1678.6,1357.3 1679.5,1358.3 1680.3,1358.1 1681.2,1357.7 1682,1357.9 1682.9,1357.4 1683.7,1357.7 1684.6,1358.4 1685.4,1357.1 1686.3,1357 1687.1,1358.3 1688,1358 1688.8,1358.2 1689.6,1357.7 1690.5,1357.4 1691.3,1358.1 1692.2,1358.9 1693,1359 1693.9,1358.5 1694.7,1357.8 1695.6,1358.3 1696.4,1357.4 1697.3,1358.4 1698.1,1357.6 1699,1358.4 1699.8,1357.8 1700.7,1358 1701.5,1358.7 1702.4,1359 1703.2,1358.2 1704,1358.4 1704.9,1358.2 1705.7,1359.2 1706.6,1357.7 1707.4,1358 1708.3,1358.7 1709.1,1358.8 1710,1357.9 1710.8,1359.2 1711.7,1358.3 1712.5,1358.6 1713.4,1358.4 1714.2,1358.1 1715.1,1359 1715.9,1358 1716.7,1358.4 1717.6,1359 1718.4,1358 1719.3,1357.9 1720.1,1358.4 1721,1358.2 1721.8,1357.9 1722.7,1358.4 1723.5,1357.6 1724.4,1357.6 1725.2,1358.6 1726.1,1358.6 1726.9,1358.9 1727.8,1357.7 1728.6,1359.6 1729.4,1359.2 1730.3,1358.5 1731.1,1358.3 1732,1358.3 1732.8,1359.2 1733.7,1358.9 1734.5,1358.6 1735.4,1358.9 1736.2,1359 1737.1,1358.8 1737.9,1357.8 1738.8,1358.5 1739.6,1358.7 1740.5,1359.4 1741.3,1359.1 1742.1,1358.4 1743,1358.2 1743.8,1359.2 1744.7,1358.6 1745.5,1358.1 1746.4,1359.4 1747.2,1358.3 1748.1,1357.6 1748.9,1358.9 1749.8,1358.9 1750.6,1358.1 1751.5,1358.7 1752.3,1358.8 1753.2,1358.8 1754,1358.8 1754.9,1358.6 1755.7,1359.7 1756.5,1359 1757.4,1358.2 1758.2,1358.7 1759.1,1359 1759.9,1358.3 1760.8,1358.6 1761.6,1358.3 1762.5,1358.8 1763.3,1358.8 1764.2,1358.5 1765,1359.3 1765.9,1358.1 1766.7,1358.6 1767.6,1358.7 1768.4,1359.2 1769.2,1359.2 1770.1,1359.3 1770.9,1358.5 1771.8,1358.3 1772.6,1359 1773.5,1358.8 1774.3,1359.6 1775.2,1358.3 1776,1358.9 1776.9,1358.7 1777.7,1359.2 1778.6,1358.8 1779.4,1359.6 1780.3,1358.8 1781.1,1359 1781.9,1359 1782.8,1359.1 1783.6,1358.6 1784.5,1358.3 1785.3,1359.1 1786.2,1358.7 1787,1358.5 1787.9,1358.9 1788.7,1359.5 1789.6,1358.7 1790.4,1359.4 1791.3,1359.9 1792.1,1358.6 1793,1359.3 1793.8,1358.3 1794.7,1359 1795.5,1359.7 1796.3,1359.4 1797.2,1358.7 1798,1358.9 1798.9,1359 1799.7,1358.6 1800.6,1359.2 1801.4,1358.8 1802.3,1359.8 1803.1,1359.2 1804,1359.2 1804.8,1358.4 1805.7,1359.1 1806.5,1359.6 1807.4,1359 1808.2,1358.7 1809,1359.2 1809.9,1358.3 1810.7,1358.8 1811.6,1359.3 1812.4,1359.3 1813.3,1359.4 1814.1,1359 1815,1358.8 1815.8,1358.8 1816.7,1359 1817.5,1358 1818.4,1358.4 1819.2,1359.2 1820.1,1359.3 1820.9,1359 1821.7,1358.7 1822.6,1358.6 1823.4,1359 1824.3,1359 1825.1,1359.1 1826,1359 1826.8,1358.6 1827.7,1359.1 1828.5,1358.8 1829.4,1358.3 1830.2,1358.8 1831.1,1359 1831.9,1358.9 1832.8,1359.3 1833.6,1358.4 1834.5,1358.5 1835.3,1359.1 1836.1,1358.1 1837,1359.3 1837.8,1359.1 1838.7,1359.1 1839.5,1358.4 1840.4,1359.5 1841.2,1359.9 1842.1,1358.9 1842.9,1359.2 1843.8,1359.4 1844.6,1359.1 1845.5,1358.9 1846.3,1358.9 1847.2,1358.6 1848,1358.7"/>
<polyline fill="none" stroke="#0000FF" stroke-width="11.8" stroke-linejoin="round" stroke-linecap="butt" points="154.4,1207 155.2,1205.6 156.1,1208 156.9,1207 157.8,1206 158.6,1207.8 159.5,1207.7 160.3,1205.7 161.2,1207.8 162,1206.4 162.9,1206.1 163.7,1207.5 164.6,1206.3 165.4,1205.7 166.3,1206.4 167.1,1206.5 167.9,1206.8 168.8,1206.2 169.6,1207 170.5,1207.1 171.3,1206.8 172.2,1206.8 173,1204.7 173.9,1206.9 174.7,1206 175.6,1205.5 176.4,1206.6 177.3,1205.4 178.1,1206.8 179,1208.1 179.8,1207.7 180.7,1206.4 181.5,1205.6 182.3,1206.8 183.2,1206.4 184,1207.3 184.9,1206 185.7,1206.1 186.6,1206.1 187.4,1207.5 188.3,1207.5 189.1,1206.4 190,1207.2 190.8,1206.1 191.7,1206.8 192.5,1205.7 193.4,1206.7 194.2,1206.3 195,1206.7 195.9,1206.4 196.7,1206.2 197.6,1207.4 198.4,1205.9 199.3,1205.2 200.1,1206.7 201,1205.7 201.8,1206.1 202.7,1206.7 203.5,1205.9 204.4,1205.8 205.2,1206.3 206.1,1207.3 206.9,1205 207.7,1206.7 208.6,1206.6 209.4,1206.4 210.3,1206.3 211.1,1204.9 212,1205.9 212.8,1205.5 213.7,1206.2 214.5,1205.9 215.4,1205 216.2,1205 217.1,1205.1 217.9,1206.8 218.8,1206.9 219.6,1206.8 220.5,1206.1 221.3,1206.1 222.1,1206.3 223,1206.4 223.8,1205.8 224.7,1206.4 225.5,1206.3 226.4,1204.9 227.2,1204.6 228.1,1205.2 228.9,1205.1 229.8,1205.5 230.6,1206.5 231.5,1205 232.3,1207.1 233.2,1204.4 234,1205.2 234.8,1203.9 235.7,1204.4 236.5,1205.1 237.4,1205.7 238.2,1205.5 239.1,1203.9 239.9,1204.7 240.8,1206.1 241.6,1203.2 242.5,1203.3 243.3,1204.3 244.2,1203.8 245,1203.8 245.9,1203.5 246.7,1204.4 247.5,1204 248.4,1203.4 249.2,1204.6 250.1,1201.5 250.9,1203.8 251.8,1202.8 252.6,1202.8 253.5,1202.4 254.3,1202.8 255.2,1201.8 256,1202.2 256.9,1202.5 257.7,1202 258.6,1202.2 259.4,1201.4 260.2,1201.2 261.1,1200.5 261.9,1199.7 262.8,1199.8 263.6,1199.9 264.5,1199.4 265.3,1198.9 266.2,1198.1 267,1197.4 267.9,1196.5 268.7,1196.3 269.6,1194.7 270.4,1194 271.3,1192.6 272.1,1192.8 273,1190.7 273.8,1189.2 274.6,1188 275.5,1185.2 276.3,1184.3 277.2,1180.8 278,1179.5 278.9,1174.7 279.7,1173.1 280.6,1168.6 281.4,1166 282.3,1161.1 283.1,1157.5 284,1151.7 284.8,1146.4 285.7,1142.7 286.5,1137.3 287.3,1129.9 288.2,1122.8 289,1115.3 289.9,1108.3 290.7,1101.1 291.6,1093.5 292.4,1083.9 293.3,1075.4 294.1,1068.6 295,1058.6 295.8,1049.8 296.7,1039.6 297.5,1031.1 298.4,1020.7 299.2,1011.1 300,1002.5 300.9,993.9 301.7,985.3 302.6,976.8 303.4,969.3 304.3,961.9 305.1,954.8 306,948.4 306.8,942.5 307.7,939.8 308.5,935 309.4,933 310.2,931.2 311.1,929.9 311.9,929.1 312.8,933 313.6,935.2 314.4,939.5 315.3,941.5 316.1,947.7 317,953.3 317.8,958.5 318.7,966.7 319.5,974.5 320.4,982.1 321.2,992.2 322.1,1001.3 322.9,1008.9 323.8,1018.9 324.6,1027.6 325.5,1036.2 326.3,1046.5 327.1,1056.1 328,1063.6 328.8,1073.2 329.7,1082.1 330.5,1091.1 331.4,1098.9 332.2,1106.8 333.1,1114.3 333.9,1122 334.8,1128.9 335.6,1134 336.5,1140.3 337.3,1144.9 338.2,1149.9 339,1156 339.8,1159.4 340.7,1163.6 341.5,1167.4 342.4,1171.3 343.2,1174.6 344.1,1177 344.9,1181.3 345.8,1182.6 346.6,1183.7 347.5,1186.9 348.3,1189.8 349.2,1190.9 350,1192.4 350.9,1193.1 351.7,1193.3 352.6,1196.1 353.4,1195.1 354.2,1197.4 355.1,1199.2 355.9,1199.6 356.8,1198.6 357.6,1199.3 358.5,1200.8 359.3,1200.8 360.2,1201.1 361,1199.4 361.9,1200.5 362.7,1202.2 363.6,1201.7 364.4,1201.1 365.3,1199.9 366.1,1201.2 366.9,1201.9 367.8,1202.6 368.6,1202.6 369.5,1201.7 370.3,1203.2 371.2,1202.9 372,1204.6 372.9,1204.2 373.7,1203.7 374.6,1203.4 375.4,1202.8 376.3,1204.3 377.1,1204.5 378,1203 378.8,1203.9 379.6,1205.2 380.5,1204 381.3,1203.6 382.2,1203.9 383,1205.9 383.9,1204 384.7,1203.5 385.6,1204.9 386.4,1204.5 387.3,1204.7 388.1,1204.5 389,1204.1 389.8,1207.1 390.7,1203.6 391.5,1204.2 392.4,1205.2 393.2,1206.4 394,1204.5 394.9,1205.9 395.7,1204.4 396.6,1204.8 397.4,1204.9 398.3,1204.9 399.1,1206.2 400,1204.3 400.8,1205.3 401.7,1205.7 402.5,1204.5 403.4,1204.6 404.2,1204.9 405.1,1205.8 405.9,1206.3 406.7,1204.4 407.6,1205 408.4,1205 409.3,1205.4 410.1,1205.9 411,1204.7 411.8,1204.5 412.7,1206.1 413.5,1204.3 414.4,1204.9 415.2,1205.1 416.1,1205.5 416.9,1204.5 417.8,1204.7 418.6,1204.8 419.4,1204.8 420.3,1205.6 421.1,1203.8 422,1205.9 422.8,1205.2 423.7,1205 424.5,1205.2 425.4,1206.1 426.2,1204.9 427.1,1206.7 427.9,1205.6 428.8,1204.8 429.6,1203.8 430.5,1203 431.3,1204.8 432.2,1205.3 433,1202.7 433.8,1203.3 434.7,1204.1 435.5,1204 436.4,1203.9 437.2,1202.7 438.1,1202.6 438.9,1202 439.8,1203.2 440.6,1204.2 441.5,1204.9 442.3,1202.8 443.2,1202.3 444,1203.6 444.9,1204 445.7,1204.3 446.5,1203.1 447.4,1202.6 448.2,1200.8 449.1,1201.5 449.9,1201.4 450.8,1200.9 451.6,1202.1 452.5,1201.2 453.3,1200.6 454.2,1200 455,1201.6 455.9,1201.2 456.7,1201.5 457.6,1200 458.4,1200.3 459.2,1200.4 460.1,1200 460.9,1197 461.8,1200.8 462.6,1198.3 463.5,1197.1 464.3,1197 465.2,1196.9 466,1197 466.9,1197.5 467.7,1194 468.6,1194.8 469.4,1194.6 470.3,1192.7 471.1,1193.3 471.9,1191.6 472.8,1191.5 473.6,1190.4 474.5,1189.9 475.3,1187.6 476.2,1184.8 477,1184.3 477.9,1184.7 478.7,1183.3 479.6,1181.1 480.4,1180 481.3,1177.6 482.1,1176.5 483,1175.2 483.8,1171.6 484.7,1170.2 485.5,1168 486.3,1164.9 487.2,1163.8 488,1162.3 488.9,1158 489.7,1157.1 490.6,1153.1 491.4,1150 492.3,1147.7 493.1,1144.1 494,1141.2 494.8,1137.6 495.7,1135.1 496.5,1133 497.4,1131.2 498.2,1128.7 499,1125.5 499.9,1124 500.7,1121.8 501.6,1120.1 502.4,1120.6 503.3,1120.1 504.1,1120.4 505,1120.1 505.8,1121.7 506.7,1121.4 507.5,1122.9 508.4,1125.2 509.2,1127.9 510.1,1129.9 510.9,1131.6 511.7,1134.7 512.6,1138.1 513.4,1140.6 514.3,1141.4 515.1,1147 516,1148.4 516.8,1151.9 517.7,1153.9 518.5,1156.5 519.4,1159.8 520.2,1161.7 521.1,1165.2 521.9,1165.9 522.8,1169.5 523.6,1171.9 524.5,1174.7 525.3,1173.6 526.1,1178.2 527,1179.5 527.8,1180 528.7,1183.1 529.5,1183.5 530.4,1184.2 531.2,1186.2 532.1,1187.6 532.9,1188.6 533.8,1190.4 534.6,1190.5 535.5,1192.7 536.3,1191.5 537.2,1194 538,1194.2 538.8,1195.5 539.7,1196.3 540.5,1195.7 541.4,1196.7 542.2,1198.7 543.1,1198.9 543.9,1198.6 544.8,1197.6 545.6,1199.3 546.5,1200.4 547.3,1200.1 548.2,1198.9 549,1199.8 549.9,1201.4 550.7,1201.6 551.5,1202 552.4,1201.9 553.2,1200.4 554.1,1202.1 554.9,1201.1 555.8,1203.3 556.6,1203 557.5,1203 558.3,1203 559.2,1204.5 560,1203.5 560.9,1203.9 561.7,1203.6 562.6,1204.5 563.4,1203.9 564.3,1204.1 565.1,1204.3 565.9,1204.7 566.8,1205.7 567.6,1203.5 568.5,1204.2 569.3,1203 570.2,1205.7 571,1206.8 571.9,1204.4 572.7,1205.5 573.6,1207 574.4,1204.6 575.3,1205.9 576.1,1206 577,1205 577.8,1205.7 578.6,1207.4 579.5,1205.8 580.3,1205.5 581.2,1205.9 582,1206.6 582.9,1206.3 583.7,1207.7 584.6,1206.7 585.4,1206.2 586.3,1206.1 587.1,1206.4 588,1205.6 588.8,1207.5 589.7,1207.3 590.5,1207.2 591.3,1207.9 592.2,1206.6 593,1208.5 593.9,1206.1 594.7,1205.9 595.6,1206.9 596.4,1206.1 597.3,1206 598.1,1207.4 599,1206.9 599.8,1207.8 600.7,1207.6 601.5,1206.8 602.4,1206.8 603.2,1207.7 604.1,1208.2 604.9,1207.6 605.7,1207 606.6,1206.9 607.4,1207.5 608.3,1208 609.1,1208.2 610,1208.5 610.8,1208.4 611.7,1208.2 612.5,1207.8 613.4,1207.4 614.2,1207.8 615.1,1207.5 615.9,1208 616.8,1208.6 617.6,1206.8 618.4,1207.5 619.3,1209.3 620.1,1208 621,1208.7 621.8,1208.9 622.7,1207 623.5,1207.8 624.4,1207.3 625.2,1206.5 626.1,1207.8 626.9,1207.4 627.8,1208.2 628.6,1208.2 629.5,1207.8 630.3,1208.2 631.1,1208.2 632,1208.6 632.8,1207.4 633.7,1206.8 634.5,1207.4 635.4,1207.6 636.2,1207.3 637.1,1209.1 637.9,1207.7 638.8,1206.7 639.6,1208.2 640.5,1207.9 641.3,1208 642.2,1208 643,1206.5 643.9,1209.1 644.7,1209.5 645.5,1207.1 646.4,1208.4 647.2,1208.1 648.1,1208 648.9,1208.1 649.8,1207.2 650.6,1207.9 651.5,1207.1 652.3,1206.5 653.2,1207.4 654,1207.1 654.9,1207 655.7,1204.5 656.6,1206.9 657.4,1208 658.2,1206.2 659.1,1207.3 659.9,1205.2 660.8,1204.6 661.6,1204.6 662.5,1205 663.3,1203.6 664.2,1203.7 665,1201.7 665.9,1201.7 666.7,1203 667.6,1201.5 668.4,1200.3 669.3,1199.6 670.1,1199.2 670.9,1198.5 671.8,1197.2 672.6,1197.9 673.5,1197.6 674.3,1196.6 675.2,1196.5 676,1197.4 676.9,1198.9 677.7,1196.7 678.6,1196.7 679.4,1197 680.3,1198 681.1,1200.5 682,1200.3 682.8,1199.6 683.6,1201.8 684.5,1201.7 685.3,1201.7 686.2,1204 687,1204 687.9,1205.2 688.7,1203.6 689.6,1204.6 690.4,1206 691.3,1203.6 692.1,1205.3 693,1206.3 693.8,1206.3 694.7,1207.1 695.5,1206.7 696.4,1207 697.2,1206.9 698,1207.2 698.9,1208.9 699.7,1209 700.6,1208.2 701.4,1207.3 702.3,1207.6 703.1,1207.5 704,1207.4 704.8,1208.7 705.7,1207.7 706.5,1208.1 707.4,1210 708.2,1207.3 709.1,1209.3 709.9,1208.2 710.7,1209.1 711.6,1207.3 712.4,1208.2 713.3,1207.3 714.1,1206.8 715,1208.8 715.8,1208.4 716.7,1210.1 717.5,1207.9 718.4,1208.6 719.2,1208.9 720.1,1208.6 720.9,1208.7 721.8,1209.3 722.6,1209.6 723.4,1207.6 724.3,1208.7 725.1,1208.6 726,1208.7 726.8,1209.6 727.7,1209.3 728.5,1209.8 729.4,1209.9 730.2,1208.1 731.1,1208.3 731.9,1210 732.8,1208.6 733.6,1210.4 734.5,1208.4 735.3,1209.6 736.2,1208.7 737,1208.2 737.8,1210.2 738.7,1209.4 739.5,1211.2 740.4,1208.8 741.2,1208.3 742.1,1209.1 742.9,1209.1 743.8,1208.5 744.6,1208.4 745.5,1208.7 746.3,1209 747.2,1207.8 748,1209.5 748.9,1210 749.7,1208.3 750.5,1209.6 751.4,1209.5 752.2,1211 753.1,1209.4 753.9,1209.4 754.8,1209.5 755.6,1209.3 756.5,1209 757.3,1208 758.2,1210 759,1209 759.9,1209.1 760.7,1209 761.6,1207.2 762.4,1208.9 763.2,1209.9 764.1,1209.3 764.9,1209.6 765.8,1209 766.6,1210.3 767.5,1208.3 768.3,1209.6 769.2,1210.3 770,1209.6 770.9,1209.2 771.7,1209.4 772.6,1207.7 773.4,1208.1 774.3,1209.3 775.1,1210.3 776,1208.7 776.8,1207.8 777.6,1208.8 778.5,1209.4 779.3,1208.1 780.2,1208.5 781,1210.2 781.9,1209.8 782.7,1210.4 783.6,1210 784.4,1209.4 785.3,1208.9 786.1,1209.8 787,1209.3 787.8,1208.8 788.7,1209.3 789.5,1208.1 790.3,1209.8 791.2,1209.2 792,1209.6 792.9,1209.7 793.7,1210.1 794.6,1210.8 795.4,1209.5 796.3,1209.4 797.1,1210.1 798,1209.6 798.8,1209.4 799.7,1209.4 800.5,1208.8 801.4,1210.2 802.2,1209.2 803,1209.8 803.9,1209.4 804.7,1209.8 805.6,1209.5 806.4,1208.6 807.3,1209 808.1,1208.9 809,1209.5 809.8,1209.6 810.7,1210.1 811.5,1209.7 812.4,1211 813.2,1211.1 814.1,1209.2 814.9,1208.9 815.8,1209.5 816.6,1210.3 817.4,1210.5 818.3,1209.3 819.1,1209.1 820,1209.2 820.8,1209.4 821.7,1211 822.5,1208.9 823.4,1209.5 824.2,1210.7 825.1,1209.8 825.9,1210.5 826.8,1209.1 827.6,1209.6 828.5,1209.8 829.3,1208.6 830.1,1208.8 831,1208.5 831.8,1210.9 832.7,1209.1 833.5,1209.2 834.4,1210.6 835.2,1209.2 836.1,1210.7 836.9,1208.4 837.8,1208.5 838.6,1209.4 839.5,1207.9 840.3,1209.2 841.2,1210.6 842,1209.9 842.8,1209.1 843.7,1209.3 844.5,1209 845.4,1209 846.2,1208.4 847.1,1209.6 847.9,1208.3 848.8,1208.9 849.6,1210.4 850.5,1208.6 851.3,1209.8 852.2,1209 853,1208.4 853.9,1208.5 854.7,1210.1 855.6,1208.1 856.4,1208.3 857.2,1208.8 858.1,1209.1 858.9,1208.6 859.8,1211.3 860.6,1211.4 861.5,1208.9 862.3,1209.4 863.2,1210.5 864,1210.3 864.9,1210.7 865.7,1208.4 866.6,1208 867.4,1210.3 868.3,1209.2 869.1,1210.5 869.9,1209 870.8,1209.7 871.6,1209.4 872.5,1210.2 873.3,1208.6 874.2,1207.8 875,1209.9 875.9,1207.9 876.7,1209.1 877.6,1208.2 878.4,1209.1 879.3,1207.8 880.1,1209.9 881,1207.8 881.8,1210.1 882.6,1209.3 883.5,1209.9 884.3,1208.9 885.2,1207.9 886,1208 886.9,1208.8 887.7,1207.5 888.6,1209.7 889.4,1208 890.3,1209.2 891.1,1209.6 892,1207.3 892.8,1207.7 893.7,1208 894.5,1209.2 895.3,1208.8 896.2,1207 897,1207.7 897.9,1207.8 898.7,1207.5 899.6,1207.7 900.4,1208.1 901.3,1208 902.1,1206.5 903,1208.5 903.8,1208.3 904.7,1208 905.5,1207.5 906.4,1206.4 907.2,1206.8 908.1,1206.1 908.9,1208 909.7,1205.1 910.6,1206.7 911.4,1206.2 912.3,1206.7 913.1,1205 914,1204.6 914.8,1204.3 915.7,1204.2 916.5,1204.3 917.4,1202.8 918.2,1199.8 919.1,1201.2 919.9,1200.5 920.8,1199.4 921.6,1198.1 922.4,1198 923.3,1197.1 924.1,1196.1 925,1196.5 925.8,1193.8 926.7,1193.3 927.5,1191.6 928.4,1191.7 929.2,1190.8 930.1,1190.8 930.9,1190.7 931.8,1191.2 932.6,1191.4 933.5,1189.2 934.3,1191.3 935.1,1190.5 936,1191.1 936.8,1193 937.7,1194.1 938.5,1194.8 939.4,1195.2 940.2,1195.4 941.1,1196.7 941.9,1198 942.8,1197.8 943.6,1198.8 944.5,1200.4 945.3,1201.4 946.2,1201.3 947,1202.5 947.9,1203.7 948.7,1203.9 949.5,1204.2 950.4,1203.6 951.2,1204.9 952.1,1204.5 952.9,1205.5 953.8,1207.2 954.6,1205.5 955.5,1206.9 956.3,1205.8 957.2,1206.5 958,1206.2 958.9,1204.9 959.7,1206.3 960.6,1207.5 961.4,1207.6 962.2,1207.1 963.1,1206.7 963.9,1208.1 964.8,1207.1 965.6,1208.1 966.5,1208.5 967.3,1208.1 968.2,1206.8 969,1207.4 969.9,1206.8 970.7,1208.2 971.6,1206 972.4,1207.8 973.3,1206.9 974.1,1206.4 974.9,1206.7 975.8,1207.1 976.6,1207.5 977.5,1207 978.3,1208.2 979.2,1208.3 980,1208.1 980.9,1208.3 981.7,1206.6 982.6,1206.4 983.4,1207.8 984.3,1209.4 985.1,1206.8 986,1208.6 986.8,1208.1 987.7,1207.4 988.5,1206.3 989.3,1207.6 990.2,1207.3 991,1207 991.9,1208.6 992.7,1206.4 993.6,1208.7 994.4,1207 995.3,1208.3 996.1,1206.9 997,1206.9 997.8,1207.2 998.7,1207.1 999.5,1205.7 1000.4,1205.9 1001.2,1209.3 1002,1207.4 1002.9,1207.1 1003.7,1207.5 1004.6,1208.5 1005.4,1206.5 1006.3,1206.6 1007.1,1206.4 1008,1206.6 1008.8,1207.8 1009.7,1206.6 1010.5,1207 1011.4,1205.4 1012.2,1207.2 1013.1,1207.7 1013.9,1207 1014.7,1204.8 1015.6,1206 1016.4,1204.5 1017.3,1205 1018.1,1206.6 1019,1206.8 1019.8,1204.5 1020.7,1205.5 1021.5,1205.7 1022.4,1205 1023.2,1204.8 1024.1,1205.7 1024.9,1204.4 1025.8,1206.5 1026.6,1204.7 1027.5,1204.9 1028.3,1205.5 1029.1,1206 1030,1206 1030.8,1204 1031.7,1203.8 1032.5,1205.1 1033.4,1203.4 1034.2,1203.6 1035.1,1205 1035.9,1204.2 1036.8,1204.8 1037.6,1204.7 1038.5,1203.4 1039.3,1204.6 1040.2,1202.9 1041,1202.7 1041.8,1204.4 1042.7,1202.4 1043.5,1204.6 1044.4,1202.9 1045.2,1202.1 1046.1,1204 1046.9,1201.9 1047.8,1202.4 1048.6,1202.3 1049.5,1202 1050.3,1201.6 1051.2,1201.3 1052,1201.1 1052.9,1200.3 1053.7,1200.5 1054.5,1200.6 1055.4,1199.4 1056.2,1199.8 1057.1,1198.2 1057.9,1199 1058.8,1198 1059.6,1197.6 1060.5,1198.5 1061.3,1196.9 1062.2,1196.6 1063,1197.6 1063.9,1194.8 1064.7,1194.7 1065.6,1194.5 1066.4,1194.9 1067.3,1194.8 1068.1,1193.2 1068.9,1192.7 1069.8,1192.9 1070.6,1191.8 1071.5,1189.5 1072.3,1188.2 1073.2,1189.1 1074,1187.9 1074.9,1184.5 1075.7,1186.5 1076.6,1185.9 1077.4,1183.4 1078.3,1183.7 1079.1,1181.5 1080,1180.1 1080.8,1179.2 1081.6,1178.1 1082.5,1176.4 1083.3,1175.4 1084.2,1173.2 1085,1171.5 1085.9,1171 1086.7,1168.8 1087.6,1167 1088.4,1164.2 1089.3,1163.8 1090.1,1161.8 1091,1159.6 1091.8,1157.8 1092.7,1154.5 1093.5,1152.8 1094.3,1151.8 1095.2,1150.3 1096,1145.8 1096.9,1144.2 1097.7,1141.2 1098.6,1137.8 1099.4,1137 1100.3,1134.5 1101.1,1134 1102,1129.2 1102.8,1128.3 1103.7,1123.5 1104.5,1123.6 1105.4,1120.6 1106.2,1116.6 1107,1117.4 1107.9,1116 1108.7,1113.2 1109.6,1110.6 1110.4,1110.9 1111.3,1108.2 1112.1,1107.4 1113,1106.6 1113.8,1104.4 1114.7,1104.1 1115.5,1104.6 1116.4,1103.4 1117.2,1104.6 1118.1,1105.3 1118.9,1107.4 1119.8,1105.9 1120.6,1108.3 1121.4,1110.3 1122.3,1111.3 1123.1,1111.8 1124,1115.2 1124.8,1117.6 1125.7,1118.3 1126.5,1122.4 1127.4,1124 1128.2,1124.3 1129.1,1127.8 1129.9,1129.2 1130.8,1131.2 1131.6,1134.2 1132.5,1137.2 1133.3,1139 1134.1,1141.8 1135,1145.8 1135.8,1145.3 1136.7,1148.6 1137.5,1151.2 1138.4,1155.1 1139.2,1154.3 1140.1,1157.4 1140.9,1161.1 1141.8,1162.1 1142.6,1164 1143.5,1165.5 1144.3,1166.8 1145.2,1168.8 1146,1170.6 1146.8,1171.1 1147.7,1172.7 1148.5,1175.3 1149.4,1176.9 1150.2,1178.4 1151.1,1180.4 1151.9,1182.9 1152.8,1182.2 1153.6,1183.7 1154.5,1183.1 1155.3,1185.9 1156.2,1186 1157,1187.6 1157.9,1188.7 1158.7,1189.5 1159.6,1189.5 1160.4,1190 1161.2,1190.7 1162.1,1192.2 1162.9,1192.7 1163.8,1192.7 1164.6,1194.4 1165.5,1193.6 1166.3,1194.9 1167.2,1195.8 1168,1196 1168.9,1196.6 1169.7,1196.7 1170.6,1197.1 1171.4,1198.7 1172.3,1198.6 1173.1,1198.7 1173.9,1200.6 1174.8,1199.6 1175.6,1200.1 1176.5,1201.3 1177.3,1201.8 1178.2,1200.7 1179,1200.2 1179.9,1201 1180.7,1201.9 1181.6,1201.6 1182.4,1201.5 1183.3,1200.7 1184.1,1202.6 1185,1203.7 1185.8,1201 1186.6,1203 1187.5,1202.3 1188.3,1203.9 1189.2,1202 1190,1203.3 1190.9,1204.4 1191.7,1203.4 1192.6,1203.3 1193.4,1203.5 1194.3,1204.3 1195.1,1203.9 1196,1203 1196.8,1205.8 1197.7,1204.4 1198.5,1204.2 1199.4,1204.9 1200.2,1204.9 1201,1204.8 1201.9,1205.8 1202.7,1206.2 1203.6,1205 1204.4,1206.4 1205.3,1203.4 1206.1,1204.7 1207,1206 1207.8,1205.2 1208.7,1204.7 1209.5,1206 1210.4,1204.9 1211.2,1206.1 1212.1,1205 1212.9,1206.3 1213.7,1206.9 1214.6,1205.6 1215.4,1204.3 1216.3,1205.8 1217.1,1206.4 1218,1206.1 1218.8,1206.9 1219.7,1207.5 1220.5,1206.1 1221.4,1207.7 1222.2,1207.2 1223.1,1206.8 1223.9,1206 1224.8,1206.6 1225.6,1205.9 1226.4,1206.6 1227.3,1207.3 1228.1,1206.5 1229,1208.2 1229.8,1206.4 1230.7,1207.6 1231.5,1207.9 1232.4,1208.3 1233.2,1208.2 1234.1,1208 1234.9,1205.9 1235.8,1207.2 1236.6,1206.9 1237.5,1207.1 1238.3,1208.4 1239.2,1207.8 1240,1207.1 1240.8,1206.8 1241.7,1207.5 1242.5,1207.9 1243.4,1207.6 1244.2,1206.1 1245.1,1208.7 1245.9,1206.9 1246.8,1207.8 1247.6,1207.6 1248.5,1207.3 1249.3,1207.7 1250.2,1207.5 1251,1207.7 1251.9,1207.7 1252.7,1208.1 1253.5,1209.2 1254.4,1208 1255.2,1208.3 1256.1,1208.1 1256.9,1207.5 1257.8,1209.3 1258.6,1208.6 1259.5,1207.6 1260.3,1210.1 1261.2,1207.1 1262,1208.3 1262.9,1207.6 1263.7,1207.7 1264.6,1207 1265.4,1207.4 1266.2,1208 1267.1,1207.4 1267.9,1208.8 1268.8,1208.5 1269.6,1209.3 1270.5,1209 1271.3,1207.8 1272.2,1208.7 1273,1208.8 1273.9,1208.3 1274.7,1207.5 1275.6,1209 1276.4,1208 1277.3,1208.2 1278.1,1208.4 1279,1209.1 1279.8,1206.7 1280.6,1208.6 1281.5,1209.4 1282.3,1209.1 1283.2,1208.8 1284,1208.3 1284.9,1208.4 1285.7,1207 1286.6,1209.2 1287.4,1209.2 1288.3,1209.7 1289.1,1209.3 1290,1206.9 1290.8,1208.9 1291.7,1208.7 1292.5,1208.5 1293.3,1209.6 1294.2,1208.3 1295,1209.1 1295.9,1207.6 1296.7,1208.8 1297.6,1207.4 1298.4,1208.3 1299.3,1207.4 1300.1,1208.5 1301,1208 1301.8,1208.2 1302.7,1208.3 1303.5,1209.9 1304.4,1208.7 1305.2,1208.4 1306,1209.7 1306.9,1208.2 1307.7,1208.4 1308.6,1209.5 1309.4,1209.2 1310.3,1210 1311.1,1209.3 1312,1207.2 1312.8,1208.4 1313.7,1209.2 1314.5,1209.4 1315.4,1208.6 1316.2,1208.3 1317.1,1208.7 1317.9,1207.9 1318.7,1208.8 1319.6,1208.4 1320.4,1208.3 1321.3,1208 1322.1,1208.6 1323,1206.9 1323.8,1209.2 1324.7,1208.2 1325.5,1209.5 1326.4,1209.9 1327.2,1208.7 1328.1,1208.9 1328.9,1208.3 1329.8,1207.1 1330.6,1208.6 1331.5,1208.8 1332.3,1208.4 1333.1,1209.7 1334,1208.7 1334.8,1207.8 1335.7,1208.1 1336.5,1207.9 1337.4,1208.5 1338.2,1207.7 1339.1,1207.5 1339.9,1210.2 1340.8,1208.8 1341.6,1207.3 1342.5,1208.4 1343.3,1207.2 1344.2,1207.8 1345,1208.8 1345.8,1207.8 1346.7,1207.7 1347.5,1210.1 1348.4,1208.9 1349.2,1207.4 1350.1,1207.3 1350.9,1208 1351.8,1208 1352.6,1208.7 1353.5,1207.8 1354.3,1207.9 1355.2,1208.3 1356,1209 1356.9,1208.4 1357.7,1207.9 1358.5,1208.7 1359.4,1207.5 1360.2,1209.7 1361.1,1207.2 1361.9,1207.7 1362.8,1208.9 1363.6,1207.6 1364.5,1207.1 1365.3,1208.6 1366.2,1207.9 1367,1207.2 1367.9,1208.4 1368.7,1208.6 1369.6,1208 1370.4,1207.1 1371.3,1207.5 1372.1,1207.8 1372.9,1206.1 1373.8,1207 1374.6,1205.8 1375.5,1209.2 1376.3,1209.3 1377.2,1207.1 1378,1208.5 1378.9,1207.8 1379.7,1208 1380.6,1207.5 1381.4,1207.4 1382.3,1207 1383.1,1206.7 1384,1206.6 1384.8,1206.3 1385.6,1208.1 1386.5,1207.2 1387.3,1208.3 1388.2,1207.3 1389,1204.9 1389.9,1205.4 1390.7,1207.2 1391.6,1206.5 1392.4,1206.6 1393.3,1207.8 1394.1,1206.7 1395,1206.9 1395.8,1206.6 1396.7,1206.4 1397.5,1206.4 1398.3,1206.7 1399.2,1205.5 1400,1204.8 1400.9,1205.8 1401.7,1206.4 1402.6,1205 1403.4,1205.1 1404.3,1206.3 1405.1,1205.4 1406,1205.2 1406.8,1205.9 1407.7,1204.8 1408.5,1204.5 1409.4,1207.6 1410.2,1205.8 1411.1,1203.9 1411.9,1204.1 1412.7,1204 1413.6,1204.5 1414.4,1204.7 1415.3,1203.9 1416.1,1204.1 1417,1202.9 1417.8,1203.5 1418.7,1203.4 1419.5,1204.2 1420.4,1204 1421.2,1203.5 1422.1,1203.8 1422.9,1201.7 1423.8,1203.9 1424.6,1203.1 1425.4,1202.4 1426.3,1200.2 1427.1,1202.6 1428,1200.5 1428.8,1202 1429.7,1201.5 1430.5,1201.1 1431.4,1199.8 1432.2,1199 1433.1,1199.6 1433.9,1200.2 1434.8,1199.3 1435.6,1200.4 1436.5,1199.3 1437.3,1199.7 1438.1,1195.9 1439,1197.9 1439.8,1196.4 1440.7,1196 1441.5,1194.4 1442.4,1194.5 1443.2,1194.8 1444.1,1194.9 1444.9,1192 1445.8,1192.2 1446.6,1191.9 1447.5,1191.4 1448.3,1189.7 1449.2,1190.3 1450,1190.9 1450.9,1187.7 1451.7,1186.9 1452.5,1186.6 1453.4,1186.4 1454.2,1185.6 1455.1,1182.8 1455.9,1182.8 1456.8,1182.6 1457.6,1180.9 1458.5,1179.2 1459.3,1177.7 1460.2,1177.3 1461,1175.8 1461.9,1174.1 1462.7,1172.9 1463.6,1172.9 1464.4,1169.5 1465.2,1166.9 1466.1,1167.6 1466.9,1167.1 1467.8,1165.1 1468.6,1162.9 1469.5,1162.2 1470.3,1159.1 1471.2,1157.7 1472,1156 1472.9,1154.9 1473.7,1152 1474.6,1152 1475.4,1151.5 1476.3,1149.2 1477.1,1147 1477.9,1143.7 1478.8,1141.8 1479.6,1141.4 1480.5,1141.4 1481.3,1139 1482.2,1138.8 1483,1135.2 1483.9,1135.3 1484.7,1133.4 1485.6,1133.4 1486.4,1133 1487.3,1133.3 1488.1,1130 1489,1130.5 1489.8,1129.5 1490.7,1128.8 1491.5,1130.2 1492.3,1129.5 1493.2,1129.9 1494,1129.9 1494.9,1128.9 1495.7,1130.4 1496.6,1130.7 1497.4,1131.5 1498.3,1132 1499.1,1133.7 1500,1135.3 1500.8,1136.4 1501.7,1137.9 1502.5,1138.6 1503.4,1140.7 1504.2,1142.4 1505,1144.3 1505.9,1145.3 1506.7,1147.1 1507.6,1149.5 1508.4,1149.8 1509.3,1151.2 1510.1,1152.9 1511,1154.3 1511.8,1156.5 1512.7,1160.1 1513.5,1159.9 1514.4,1160.5 1515.2,1165.4 1516.1,1165.7 1516.9,1166.2 1517.7,1168.5 1518.6,1168.4 1519.4,1171.4 1520.3,1170.6 1521.1,1173.1 1522,1174.6 1522.8,1176.1 1523.7,1177.8 1524.5,1177.5 1525.4,1179.5 1526.2,1179.3 1527.1,1181.5 1527.9,1183.8 1528.8,1182 1529.6,1184.9 1530.4,1186.7 1531.3,1186.1 1532.1,1187.5 1533,1188.8 1533.8,1188 1534.7,1189.9 1535.5,1189.4 1536.4,1190.7 1537.2,1191.2 1538.1,1193 1538.9,1192.6 1539.8,1192.2 1540.6,1191.9 1541.5,1194.8 1542.3,1194.7 1543.2,1195.8 1544,1196.9 1544.8,1195.7 1545.7,1197.3 1546.5,1196.6 1547.4,1197.2 1548.2,1197.3 1549.1,1197.7 1549.9,1196.1 1550.8,1198.1 1551.6,1196.6 1552.5,1198.9 1553.3,1200.5 1554.2,1198.6 1555,1200.3 1555.9,1199.7 1556.7,1199.5 1557.5,1200.3 1558.4,1199.6 1559.2,1199.6 1560.1,1200.7 1560.9,1200.4 1561.8,1200.8 1562.6,1200.9 1563.5,1199.6 1564.3,1201.3 1565.2,1199.7 1566,1199.5 1566.9,1198.8 1567.7,1200.8 1568.6,1200.6 1569.4,1200.3 1570.2,1200.7 1571.1,1199.5 1571.9,1198.1 1572.8,1200.2 1573.6,1199.3 1574.5,1199.8 1575.3,1199.5 1576.2,1199.7 1577,1200.5 1577.9,1198 1578.7,1199.7 1579.6,1197.9 1580.4,1198.9 1581.3,1199.2 1582.1,1198.3 1583,1197.7 1583.8,1198.1 1584.6,1198.5 1585.5,1197.7 1586.3,1197.7 1587.2,1195.9 1588,1196.6 1588.9,1197.2 1589.7,1195.9 1590.6,1196 1591.4,1195.7 1592.3,1195.9 1593.1,1194.3 1594,1194.4 1594.8,1195.4 1595.7,1195.4 1596.5,1196.3 1597.3,1196.5 1598.2,1194.5 1599,1192.5 1599.9,1194.3 1600.7,1192.8 1601.6,1192.9 1602.4,1194.7 1603.3,1194.3 1604.1,1193 1605,1193 1605.8,1194.4 1606.7,1192.9 1607.5,1193.6 1608.4,1194.8 1609.2,1194.6 1610,1193.3 1610.9,1193.9 1611.7,1194.5 1612.6,1193.6 1613.4,1193.3 1614.3,1193.2 1615.1,1192.9 1616,1194 1616.8,1194.1 1617.7,1192.6 1618.5,1194.2 1619.4,1194.5 1620.2,1194.2 1621.1,1192.7 1621.9,1195 1622.8,1196.3 1623.6,1195.6 1624.4,1194.5 1625.3,1196.1 1626.1,1196.2 1627,1196.1 1627.8,1194.6 1628.7,1196.8 1629.5,1196.1 1630.4,1196.2 1631.2,1197.6 1632.1,1196.4 1632.9,1197.7 1633.8,1197.5 1634.6,1198.7 1635.5,1199 1636.3,1199 1637.1,1199.9 1638,1199.1 1638.8,1201.5 1639.7,1200.1 1640.5,1201.3 1641.4,1201.3 1642.2,1199.4 1643.1,1202.2 1643.9,1202.2 1644.8,1203.4 1645.6,1201.7 1646.5,1203.7 1647.3,1202.3 1648.2,1203 1649,1203 1649.8,1203.6 1650.7,1203.3 1651.5,1204.1 1652.4,1205.1 1653.2,1206.2 1654.1,1205.3 1654.9,1205.5 1655.8,1203.4 1656.6,1204.2 1657.5,1206.1 1658.3,1204.7 1659.2,1204.1 1660,1206.1 1660.9,1207.1 1661.7,1206.6 1662.6,1205.5 1663.4,1206 1664.2,1206.3 1665.1,1207 1665.9,1207.3 1666.8,1206 1667.6,1207.6 1668.5,1206.1 1669.3,1206.1 1670.2,1206.6 1671,1208.4 1671.9,1206.7 1672.7,1207.3 1673.6,1207.2 1674.4,1209.1 1675.3,1207 1676.1,1207 1676.9,1207.3 1677.8,1207.5 1678.6,1208.1 1679.5,1207.9 1680.3,1206 1681.2,1207.1 1682,1208.9 1682.9,1207.9 1683.7,1208.1 1684.6,1207.9 1685.4,1208 1686.3,1208.8 1687.1,1207.6 1688,1208.2 1688.8,1208.2 1689.6,1208.1 1690.5,1208.5 1691.3,1209.9 1692.2,1209.3 1693,1207.5 1693.9,1206.9 1694.7,1207.7 1695.6,1209.9 1696.4,1208.2 1697.3,1210 1698.1,1208.3 1699,1209.3 1699.8,1208.8 1700.7,1208.1 1701.5,1207.6 1702.4,1208.7 1703.2,1208.1 1704,1208.7 1704.9,1207.6 1705.7,1208.4 1706.6,1209.6 1707.4,1209.5 1708.3,1208 1709.1,1208.2 1710,1208.6 1710.8,1207.5 1711.7,1210 1712.5,1210.1 1713.4,1208.1 1714.2,1207.9 1715.1,1208.4 1715.9,1209.6 1716.7,1210.1 1717.6,1208.6 1718.4,1208.1 1719.3,1208 1720.1,1209.3 1721,1208.5 1721.8,1208.9 1722.7,1209 1723.5,1209.2 1724.4,1209 1725.2,1209.3 1726.1,1208.5 1726.9,1209.5 1727.8,1208.5 1728.6,1207.7 1729.4,1207.8 1730.3,1207.7 1731.1,1208.6 1732,1207.1 1732.8,1208.1 1733.7,1208.3 1734.5,1207.2 1735.4,1207.1 1736.2,1206.8 1737.1,1207.6 1737.9,1208.7 1738.8,1207.1 1739.6,1205.5 1740.5,1206.8 1741.3,1206.6 1742.1,1206 1743,1206.6 1743.8,1205.4 1744.7,1204.5 1745.5,1206.3 1746.4,1204.6 1747.2,1205.4 1748.1,1204.2 1748.9,1204.5 1749.8,1203.8 1750.6,1204.4 1751.5,1201.7 1752.3,1202.7 1753.2,1202.7 1754,1203.2 1754.9,1202.7 1755.7,1202.9 1756.5,1201.8 1757.4,1202.8 1758.2,1202.8 1759.1,1203.2 1759.9,1202.4 1760.8,1202.8 1761.6,1204.3 1762.5,1206.2 1763.3,1204.1 1764.2,1204.7 1765,1204.1 1765.9,1205.4 1766.7,1205.3 1767.6,1206.3 1768.4,1207.1 1769.2,1207.6 1770.1,1206.9 1770.9,1206.3 1771.8,1206.8 1772.6,1207.2 1773.5,1207.8 1774.3,1208 1775.2,1208.2 1776,1207 1776.9,1209.9 1777.7,1207.6 1778.6,1208.2 1779.4,1206.9 1780.3,1207.9 1781.1,1208.7 1781.9,1207.5 1782.8,1208.8 1783.6,1208.1 1784.5,1209.6 1785.3,1208.2 1786.2,1208.5 1787,1209.6 1787.9,1209.6 1788.7,1208.8 1789.6,1208.7 1790.4,1210.6 1791.3,1208.7 1792.1,1210 1793,1209.3 1793.8,1209.8 1794.7,1207.6 1795.5,1209.5 1796.3,1209.8 1797.2,1208.8 1798,1210.3 1798.9,1209.2 1799.7,1209.9 1800.6,1209.6 1801.4,1210.1 1802.3,1210.2 1803.1,1210.3 1804,1208.5 1804.8,1210.1 1805.7,1210.2 1806.5,1211.2 1807.4,1209.8 1808.2,1209 1809,1210.2 1809.9,1209.3 1810.7,1209.4 1811.6,1208.8 1812.4,1210.8 1813.3,1208.5 1814.1,1211.1 1815,1209 1815.8,1209.5 1816.7,1209.5 1817.5,1209.6 1818.4,1208.9 1819.2,1210.1 1820.1,1209.9 1820.9,1209.1 1821.7,1209.5 1822.6,1209.7 1823.4,1209.8 1824.3,1209.2 1825.1,1209.6 1826,1209.3 1826.8,1211 1827.7,1210.6 1828.5,1209.5 1829.4,1210.7 1830.2,1208.9 1831.1,1209.3 1831.9,1209 1832.8,1209.5 1833.6,1210.3 1834.5,1209.4 1835.3,1209.4 1836.1,1208.3 1837,1207 1837.8,1209.9 1838.7,1210.7 1839.5,1209.9 1840.4,1209.6 1841.2,1210.6 1842.1,1211.1 1842.9,1210.4 1843.8,1210 1844.6,1209.4 1845.5,1209.1 1846.3,1210.1 1847.2,1208.5 1848,1210.7"/>
<polyline fill="none" stroke="#FF00FF" stroke-width="11.8" stroke-linejoin="round" stroke-linecap="butt" points="154.4,1062 155.2,1062.9 156.1,1061.5 156.9,1062.6 157.8,1062.9 158.6,1064.6 159.5,1064.5 160.3,1063.5 161.2,1063.4 162,1063.1 162.9,1063.2 163.7,1062.4 164.6,1061.4 165.4,1064.5 166.3,1062.9 167.1,1060.2 167.9,1061.9 168.8,1062.9 169.6,1061.6 170.5,1061.1 171.3,1060.4 172.2,1063 173,1060 173.9,1063 174.7,1059.8 175.6,1060.6 176.4,1062.1 177.3,1062 178.1,1061.6 179,1062.3 179.8,1062.2 180.7,1061.7 181.5,1062.4 182.3,1062.5 183.2,1061.2 184,1060.1 184.9,1060.8 185.7,1059.5 186.6,1061.5 187.4,1061 188.3,1061.8 189.1,1059.9 190,1062.1 190.8,1060 191.7,1059.9 192.5,1059.9 193.4,1059.9 194.2,1060.6 195,1061.4 195.9,1061 196.7,1060.3 197.6,1062.5 198.4,1060.7 199.3,1061.5 200.1,1059.6 201,1059.3 201.8,1059.3 202.7,1061 203.5,1061.6 204.4,1059.3 205.2,1059.1 206.1,1059.5 206.9,1059.5 207.7,1058.7 208.6,1057.4 209.4,1057.5 210.3,1059.9 211.1,1059.1 212,1058.3 212.8,1058.8 213.7,1057.8 214.5,1057.9 215.4,1059.4 216.2,1059.8 217.1,1057.2 217.9,1058 218.8,1056.9 219.6,1059.2 220.5,1055.8 221.3,1055.2 222.1,1057.6 223,1056.6 223.8,1056.1 224.7,1056.5 225.5,1056.3 226.4,1055.5 227.2,1055.5 228.1,1055.2 228.9,1055 229.8,1056.4 230.6,1053.7 231.5,1055.2 232.3,1054.2 233.2,1054.3 234,1053.7 234.8,1052.6 235.7,1051.4 236.5,1051 237.4,1053.7 238.2,1053.8 239.1,1051.7 239.9,1050.9 240.8,1049.8 241.6,1051.9 242.5,1049.8 243.3,1048.8 244.2,1049.8 245,1050.1 245.9,1048.8 246.7,1049.4 247.5,1046.6 248.4,1046.6 249.2,1047.9 250.1,1045.6 250.9,1045.6 251.8,1045.7 252.6,1045.6 253.5,1046.4 254.3,1043.5 255.2,1043.5 256,1041.4 256.9,1040.6 257.7,1042 258.6,1040.8 259.4,1041 260.2,1039.5 261.1,1038.8 261.9,1036.5 262.8,1037.9 263.6,1036.1 264.5,1036.7 265.3,1032.6 266.2,1033.3 267,1030.3 267.9,1031.5 268.7,1029.2 269.6,1028 270.4,1027 271.3,1023.7 272.1,1023.1 273,1018.7 273.8,1018.5 274.6,1016.2 275.5,1014 276.3,1010.1 277.2,1008.8 278,1007.3 278.9,1001.5 279.7,1000 280.6,996.9 281.4,994 282.3,991.1 283.1,986.9 284,984.3 284.8,979.2 285.7,972.2 286.5,969.3 287.3,964.7 288.2,958 289,954 289.9,948.8 290.7,940.6 291.6,934.6 292.4,925.1 293.3,919.1 294.1,913.5 295,903.4 295.8,896.8 296.7,888.9 297.5,879.6 298.4,872.3 299.2,862.1 300,855.6 300.9,843.3 301.7,836.6 302.6,828.4 303.4,821.2 304.3,815.3 305.1,806.7 306,803.2 306.8,797.4 307.7,793.8 308.5,790.7 309.4,791 310.2,792.5 311.1,791.6 311.9,794 312.8,796.5 313.6,801.1 314.4,807.6 315.3,816.2 316.1,821.6 317,829.2 317.8,837.9 318.7,846.5 319.5,854.2 320.4,862.5 321.2,873 322.1,882.2 322.9,889.2 323.8,898.8 324.6,906.9 325.5,914.6 326.3,922.4 327.1,928 328,934.7 328.8,940.9 329.7,949 330.5,954.5 331.4,957.2 332.2,965.4 333.1,970.8 333.9,974.7 334.8,979.1 335.6,983.8 336.5,987.4 337.3,990.2 338.2,996.7 339,998.5 339.8,1001.4 340.7,1001.5 341.5,1007.3 342.4,1007.8 343.2,1012.8 344.1,1014 344.9,1017.2 345.8,1017.9 346.6,1020 347.5,1023.2 348.3,1024.1 349.2,1024.8 350,1027.6 350.9,1025.9 351.7,1029.6 352.6,1030.2 353.4,1034 354.2,1033.1 355.1,1032.9 355.9,1035.7 356.8,1034.4 357.6,1036.2 358.5,1038.8 359.3,1040.3 360.2,1038.3 361,1040.6 361.9,1040.6 362.7,1041.4 363.6,1043.1 364.4,1044.3 365.3,1043.9 366.1,1044 366.9,1044.2 367.8,1044.5 368.6,1046.9 369.5,1047.8 370.3,1046.7 371.2,1047.6 372,1049.7 372.9,1046.8 373.7,1046 374.6,1048.1 375.4,1050.6 376.3,1048.4 377.1,1048.4 378,1050 378.8,1051.1 379.6,1049.3 380.5,1051.4 381.3,1051.8 382.2,1052.3 383,1052.1 383.9,1052.6 384.7,1051.3 385.6,1053.8 386.4,1053.6 387.3,1053.3 388.1,1051.4 389,1052.6 389.8,1051 390.7,1054.1 391.5,1054.4 392.4,1052.9 393.2,1055.8 394,1056.3 394.9,1054.9 395.7,1054.2 396.6,1056.5 397.4,1054.4 398.3,1056.2 399.1,1053.9 400,1057.2 400.8,1055.4 401.7,1054.1 402.5,1055.2 403.4,1056.3 404.2,1055.1 405.1,1055.9 405.9,1057 406.7,1056.8 407.6,1057.4 408.4,1056.3 409.3,1055.4 410.1,1057 411,1058.9 411.8,1056.1 412.7,1054.5 413.5,1058.5 414.4,1057.9 415.2,1055.5 416.1,1055.4 416.9,1055.7 417.8,1056.4 418.6,1058.1 419.4,1055.9 420.3,1056.6 421.1,1056.1 422,1057.3 422.8,1056.8 423.7,1057.4 424.5,1058.3 425.4,1059.3 426.2,1056.7 427.1,1057.4 427.9,1055.4 428.8,1059.4 429.6,1056.8 430.5,1056.7 431.3,1056.6 432.2,1057 433,1057.8 433.8,1056.5 434.7,1056.9 435.5,1056.7 436.4,1055.3 437.2,1055.7 438.1,1056.6 438.9,1058.3 439.8,1056.9 440.6,1057.3 441.5,1056.4 442.3,1056.5 443.2,1056 444,1056.3 444.9,1057.1 445.7,1056.2 446.5,1056.8 447.4,1056.2 448.2,1055 449.1,1054.1 449.9,1054.8 450.8,1054.8 451.6,1055 452.5,1054.8 453.3,1053.2 454.2,1052.5 455,1054.6 455.9,1054.9 456.7,1054.6 457.6,1054.3 458.4,1052 459.2,1051.7 460.1,1051.3 460.9,1051.6 461.8,1052.7 462.6,1051.9 463.5,1048.3 464.3,1050.5 465.2,1047.1 466,1049.7 466.9,1048.6 467.7,1048.5 468.6,1049.4 469.4,1044.5 470.3,1044.2 471.1,1044.3 471.9,1044.4 472.8,1042 473.6,1040.4 474.5,1040.3 475.3,1038.2 476.2,1037.2 477,1034.7 477.9,1035.2 478.7,1031 479.6,1033.7 480.4,1030.9 481.3,1027.4 482.1,1024.9 483,1025.8 483.8,1020.3 484.7,1020.2 485.5,1019.4 486.3,1017.1 487.2,1015.1 488,1012.8 488.9,1010.7 489.7,1008.8 490.6,1005 491.4,1003.6 492.3,1000.7 493.1,998.7 494,994.1 494.8,993.7 495.7,991.8 496.5,988.8 497.4,988.7 498.2,987.4 499,986.7 499.9,986.1 500.7,981.8 501.6,982.6 502.4,982.7 503.3,983 504.1,985 505,984.8 505.8,983.8 506.7,985.4 507.5,986.4 508.4,988.4 509.2,989.7 510.1,993.9 510.9,992.5 511.7,996.7 512.6,999.8 513.4,1001.3 514.3,1002.4 515.1,1006.4 516,1007.6 516.8,1010.5 517.7,1012.6 518.5,1015.9 519.4,1016.1 520.2,1019 521.1,1021.2 521.9,1022 522.8,1025.6 523.6,1026.8 524.5,1029.1 525.3,1030.1 526.1,1033.5 527,1032.8 527.8,1035.4 528.7,1037.2 529.5,1038.7 530.4,1039.5 531.2,1039.9 532.1,1043.6 532.9,1044.9 533.8,1044 534.6,1045.5 535.5,1047.1 536.3,1048.5 537.2,1048.4 538,1048.3 538.8,1049 539.7,1051 540.5,1052.1 541.4,1051.4 542.2,1052.8 543.1,1054 543.9,1051.3 544.8,1051.6 545.6,1054.2 546.5,1054.5 547.3,1055.5 548.2,1055.4 549,1057.2 549.9,1057.7 550.7,1055 551.5,1057.4 552.4,1056.6 553.2,1056.5 554.1,1056.7 554.9,1057.1 555.8,1057.8 556.6,1057.7 557.5,1057.8 558.3,1055.2 559.2,1058.4 560,1058.6 560.9,1059.8 561.7,1058.3 562.6,1057.2 563.4,1058.1 564.3,1058.7 565.1,1058.2 565.9,1058.6 566.8,1058.3 567.6,1061.1 568.5,1060.5 569.3,1060.3 570.2,1059 571,1060.6 571.9,1059.8 572.7,1061 573.6,1059.3 574.4,1061 575.3,1060.3 576.1,1060.8 577,1061.1 577.8,1060.5 578.6,1062 579.5,1059.9 580.3,1059.7 581.2,1061 582,1062.3 582.9,1061.6 583.7,1060.3 584.6,1063.4 585.4,1061.2 586.3,1061 587.1,1060 588,1061.6 588.8,1060.6 589.7,1062.9 590.5,1060.3 591.3,1060.9 592.2,1061.6 593,1063.2 593.9,1062.2 594.7,1060.5 595.6,1063.9 596.4,1061.9 597.3,1061.1 598.1,1059.2 599,1061.5 599.8,1060.8 600.7,1063.2 601.5,1062.8 602.4,1060.4 603.2,1062.1 604.1,1063.4 604.9,1063.1 605.7,1062.8 606.6,1063.5 607.4,1063.1 608.3,1062.8 609.1,1062.7 610,1062.7 610.8,1061.2 611.7,1063.6 612.5,1063.8 613.4,1061.6 614.2,1063.3 615.1,1062.2 615.9,1062.5 616.8,1062.5 617.6,1062.2 618.4,1063.4 619.3,1062.7 620.1,1062 621,1064.8 621.8,1062.7 622.7,1062.4 623.5,1062.4 624.4,1062.5 625.2,1061.4 626.1,1061.6 626.9,1061.5 627.8,1061.5 628.6,1062.6 629.5,1061.6 630.3,1064.7 631.1,1064.9 632,1063.1 632.8,1064.4 633.7,1061.5 634.5,1061 635.4,1063.9 636.2,1063.3 637.1,1062 637.9,1062.2 638.8,1062.7 639.6,1063.3 640.5,1063.4 641.3,1062.4 642.2,1061.8 643,1063.1 643.9,1063 644.7,1062.4 645.5,1061.3 646.4,1061.9 647.2,1060.1 648.1,1061.1 648.9,1061.7 649.8,1060.3 650.6,1059.7 651.5,1058.5 652.3,1059 653.2,1058.2 654,1059.6 654.9,1058.4 655.7,1059.6 656.6,1056.5 657.4,1057.3 658.2,1055.2 659.1,1052.6 659.9,1054.2 660.8,1053.6 661.6,1050.9 662.5,1051.7 663.3,1049.9 664.2,1049 665,1047.2 665.9,1045.6 666.7,1045 667.6,1044.3 668.4,1040.9 669.3,1041.4 670.1,1039.6 670.9,1039.5 671.8,1038.8 672.6,1037.8 673.5,1040 674.3,1038.5 675.2,1041.4 676,1043.2 676.9,1044.6 677.7,1042.2 678.6,1047.3 679.4,1048.5 680.3,1048.8 681.1,1050.1 682,1050.8 682.8,1051.1 683.6,1051.7 684.5,1052.2 685.3,1055.9 686.2,1054.6 687,1055.2 687.9,1058.5 688.7,1057.4 689.6,1059.9 690.4,1058.4 691.3,1060.9 692.1,1059.6 693,1059.3 693.8,1061 694.7,1059.9 695.5,1060.7 696.4,1062.5 697.2,1059.8 698,1061.2 698.9,1061.4 699.7,1063.8 700.6,1060.3 701.4,1063.2 702.3,1065.5 703.1,1059.8 704,1063.5 704.8,1063.8 705.7,1062.5 706.5,1062.9 707.4,1063.9 708.2,1061.9 709.1,1064.2 709.9,1064.2 710.7,1061.6 711.6,1062.2 712.4,1062 713.3,1063.6 714.1,1062.1 715,1064.6 715.8,1064.5 716.7,1065.2 717.5,1064.1 718.4,1064.7 719.2,1063.6 720.1,1064 720.9,1065 721.8,1063.6 722.6,1064.3 723.4,1064.4 724.3,1065.1 725.1,1061.5 726,1064.7 726.8,1065.2 727.7,1065.1 728.5,1063.4 729.4,1064.5 730.2,1064.7 731.1,1066.6 731.9,1065 732.8,1063.2 733.6,1064.8 734.5,1062.2 735.3,1062.8 736.2,1063.7 737,1063.9 737.8,1065.3 738.7,1064.3 739.5,1063.4 740.4,1065.1 741.2,1064 742.1,1063.7 742.9,1063.4 743.8,1064 744.6,1065 745.5,1063.6 746.3,1065.7 747.2,1064.4 748,1064.8 748.9,1061.9 749.7,1064.2 750.5,1062.8 751.4,1064.8 752.2,1064.5 753.1,1063.5 753.9,1063.1 754.8,1064.2 755.6,1064.5 756.5,1061.4 757.3,1064.4 758.2,1065.1 759,1063.2 759.9,1065.6 760.7,1064.2 761.6,1062.8 762.4,1065 763.2,1065.7 764.1,1064.2 764.9,1064.5 765.8,1064 766.6,1063.6 767.5,1064.4 768.3,1063.3 769.2,1063.8 770,1064.1 770.9,1064.2 771.7,1064.6 772.6,1064.8 773.4,1064.3 774.3,1065.8 775.1,1065.3 776,1065.4 776.8,1064.4 777.6,1063.2 778.5,1065.4 779.3,1065.9 780.2,1064.6 781,1062.5 781.9,1063.9 782.7,1065.4 783.6,1064.3 784.4,1064.8 785.3,1063.2 786.1,1063.4 787,1065.8 787.8,1065.3 788.7,1064.7 789.5,1065 790.3,1065.3 791.2,1062.5 792,1062.1 792.9,1064.5 793.7,1063.3 794.6,1064.2 795.4,1063.2 796.3,1066 797.1,1064.1 798,1062.7 798.8,1064.5 799.7,1064.1 800.5,1064.3 801.4,1066 802.2,1065.7 803,1064 803.9,1065.8 804.7,1064.3 805.6,1063.8 806.4,1063.2 807.3,1063.5 808.1,1063.9 809,1064.1 809.8,1064.5 810.7,1061.7 811.5,1066 812.4,1064.3 813.2,1064.4 814.1,1063.7 814.9,1063.3 815.8,1063.8 816.6,1065 817.4,1063.7 818.3,1064.8 819.1,1066.8 820,1064.3 820.8,1065.1 821.7,1064.3 822.5,1064.1 823.4,1064.1 824.2,1065.6 825.1,1064.7 825.9,1064.8 826.8,1062.9 827.6,1065 828.5,1063.6 829.3,1063 830.1,1062.2 831,1063.6 831.8,1066.8 832.7,1061.9 833.5,1065.5 834.4,1065.8 835.2,1065.3 836.1,1063.8 836.9,1064.5 837.8,1066 838.6,1064 839.5,1063.1 840.3,1063.5 841.2,1064.3 842,1063.7 842.8,1063.3 843.7,1063.8 844.5,1063.8 845.4,1065.4 846.2,1062.6 847.1,1063.3 847.9,1063.3 848.8,1063.4 849.6,1063.3 850.5,1065.9 851.3,1065.7 852.2,1063.5 853,1065.1 853.9,1062.7 854.7,1063.8 855.6,1063.8 856.4,1062.4 857.2,1065.2 858.1,1064 858.9,1064.6 859.8,1061.8 860.6,1063.6 861.5,1063.3 862.3,1063.8 863.2,1064 864,1062.6 864.9,1063.4 865.7,1063.9 866.6,1065 867.4,1065.2 868.3,1064.2 869.1,1064.9 869.9,1062.8 870.8,1062.1 871.6,1062.4 872.5,1064 873.3,1063.3 874.2,1061.9 875,1063.2 875.9,1063.2 876.7,1063.1 877.6,1062.4 878.4,1063.2 879.3,1063.8 880.1,1063.1 881,1059.9 881.8,1061.9 882.6,1061.7 883.5,1063.5 884.3,1063 885.2,1064.8 886,1063.8 886.9,1063.5 887.7,1065.6 888.6,1062.6 889.4,1061.5 890.3,1062.7 891.1,1062.7 892,1062.2 892.8,1061.2 893.7,1064 894.5,1060.5 895.3,1063.6 896.2,1061.5 897,1060.3 897.9,1063 898.7,1060.7 899.6,1060.7 900.4,1060.5 901.3,1061.7 902.1,1059.8 903,1060.6 903.8,1059.3 904.7,1058.2 905.5,1059 906.4,1057.5 907.2,1057.1 908.1,1058.9 908.9,1056 909.7,1056.1 910.6,1054 911.4,1053.4 912.3,1052 913.1,1052.9 914,1050.5 914.8,1049.9 915.7,1050 916.5,1046.1 917.4,1046.5 918.2,1045.1 919.1,1043.4 919.9,1040.6 920.8,1042 921.6,1039.6 922.4,1037.9 923.3,1033.3 924.1,1035 925,1030.5 925.8,1030.3 926.7,1027 927.5,1026.3 928.4,1023.6 929.2,1023.8 930.1,1023.3 930.9,1022.4 931.8,1023.1 932.6,1023.7 933.5,1026.1 934.3,1026.3 935.1,1029.5 936,1029.7 936.8,1032.3 937.7,1034.4 938.5,1036.5 939.4,1038.8 940.2,1038.3 941.1,1040.7 941.9,1041.9 942.8,1045.4 943.6,1043.3 944.5,1048.9 945.3,1047.5 946.2,1050.4 947,1050.4 947.9,1052.4 948.7,1052.6 949.5,1053.5 950.4,1053.9 951.2,1055.3 952.1,1056.1 952.9,1056.9 953.8,1059.9 954.6,1059.3 955.5,1057.8 956.3,1059.4 957.2,1059.8 958,1059 958.9,1059.6 959.7,1060.9 960.6,1061.4 961.4,1061.2 962.2,1061.6 963.1,1059.6 963.9,1061 964.8,1060.2 965.6,1060.3 966.5,1059.8 967.3,1058.5 968.2,1058.9 969,1059.1 969.9,1061 970.7,1062.4 971.6,1060.3 972.4,1059.3 973.3,1058.8 974.1,1061.7 974.9,1062.5 975.8,1062.8 976.6,1061.6 977.5,1059.4 978.3,1058.8 979.2,1061.4 980,1060.1 980.9,1061.6 981.7,1059.4 982.6,1061.4 983.4,1063 984.3,1062.2 985.1,1061.9 986,1060.9 986.8,1062.2 987.7,1061.7 988.5,1061.8 989.3,1060.4 990.2,1063.8 991,1060.2 991.9,1061.3 992.7,1061.3 993.6,1061.8 994.4,1062.4 995.3,1061.5 996.1,1061.9 997,1061 997.8,1060.7 998.7,1061.3 999.5,1059.8 1000.4,1060.6 1001.2,1061.2 1002,1060.6 1002.9,1061.1 1003.7,1058.8 1004.6,1059.9 1005.4,1061.2 1006.3,1061.3 1007.1,1059.6 1008,1059.4 1008.8,1059.4 1009.7,1059.9 1010.5,1059.2 1011.4,1060.5 1012.2,1061.2 1013.1,1060.2 1013.9,1058.9 1014.7,1060.6 1015.6,1061 1016.4,1060.2 1017.3,1059.4 1018.1,1058.9 1019,1058.4 1019.8,1059.6 1020.7,1061.7 1021.5,1057.8 1022.4,1060.6 1023.2,1058.2 1024.1,1060.2 1024.9,1058.9 1025.8,1059.7 1026.6,1057.7 1027.5,1059.2 1028.3,1060.4 1029.1,1058.7 1030,1059.8 1030.8,1059.6 1031.7,1060.4 1032.5,1056.9 1033.4,1058.9 1034.2,1057.9 1035.1,1057.5 1035.9,1057.3 1036.8,1056 1037.6,1055.5 1038.5,1055.1 1039.3,1056.7 1040.2,1056.4 1041,1056.1 1041.8,1057.5 1042.7,1055.9 1043.5,1057.2 1044.4,1057.3 1045.2,1055.4 1046.1,1055.8 1046.9,1054.8 1047.8,1054.2 1048.6,1053.8 1049.5,1054.5 1050.3,1053.6 1051.2,1054.6 1052,1052.5 1052.9,1053.7 1053.7,1052.8 1054.5,1051.5 1055.4,1053.5 1056.2,1051.5 1057.1,1053.6 1057.9,1050.8 1058.8,1049.4 1059.6,1051.5 1060.5,1050.3 1061.3,1051.3 1062.2,1049.9 1063,1046.3 1063.9,1048.8 1064.7,1047.3 1065.6,1048.1 1066.4,1046.1 1067.3,1045.9 1068.1,1045.3 1068.9,1045.2 1069.8,1044.5 1070.6,1042.7 1071.5,1041.8 1072.3,1039.9 1073.2,1041.1 1074,1039.3 1074.9,1038.9 1075.7,1036.7 1076.6,1037.6 1077.4,1036.2 1078.3,1034.2 1079.1,1032.7 1080,1032.3 1080.8,1030.1 1081.6,1029 1082.5,1027.7 1083.3,1024 1084.2,1024.8 1085,1023.8 1085.9,1021.3 1086.7,1017.6 1087.6,1018.2 1088.4,1016.4 1089.3,1013.6 1090.1,1013.1 1091,1008.9 1091.8,1006.7 1092.7,1003.5 1093.5,1002.1 1094.3,999.2 1095.2,998.3 1096,995.2 1096.9,992.5 1097.7,991.4 1098.6,988 1099.4,984.9 1100.3,982.3 1101.1,978.5 1102,977.8 1102.8,974.4 1103.7,971.7 1104.5,969.9 1105.4,966.4 1106.2,963.2 1107,964.6 1107.9,960.7 1108.7,958.1 1109.6,957.3 1110.4,956.3 1111.3,956 1112.1,954.5 1113,952.9 1113.8,952.6 1114.7,954.3 1115.5,955.4 1116.4,956.1 1117.2,955.2 1118.1,957.5 1118.9,957.7 1119.8,960.1 1120.6,961.7 1121.4,963 1122.3,964.7 1123.1,968.7 1124,968.1 1124.8,972.9 1125.7,976 1126.5,978.8 1127.4,980.1 1128.2,984.7 1129.1,986.3 1129.9,987.7 1130.8,988.7 1131.6,994.8 1132.5,995.6 1133.3,998.7 1134.1,1002.3 1135,1003.9 1135.8,1006.7 1136.7,1008.8 1137.5,1009.9 1138.4,1011.8 1139.2,1015.1 1140.1,1018.7 1140.9,1017.3 1141.8,1020.8 1142.6,1022 1143.5,1026.3 1144.3,1025.3 1145.2,1028 1146,1028 1146.8,1029.4 1147.7,1032.3 1148.5,1032.7 1149.4,1031.8 1150.2,1034.1 1151.1,1036.2 1151.9,1038.6 1152.8,1038.2 1153.6,1037.3 1154.5,1042.4 1155.3,1041.6 1156.2,1043.2 1157,1040.3 1157.9,1045.5 1158.7,1044.8 1159.6,1043.8 1160.4,1046.3 1161.2,1046.1 1162.1,1047.8 1162.9,1047.3 1163.8,1049.3 1164.6,1048.8 1165.5,1049.5 1166.3,1050.5 1167.2,1051.1 1168,1051.4 1168.9,1050.7 1169.7,1051.4 1170.6,1051 1171.4,1052.6 1172.3,1052.5 1173.1,1053.9 1173.9,1053.8 1174.8,1055.9 1175.6,1051.6 1176.5,1051.7 1177.3,1053.5 1178.2,1054.4 1179,1055 1179.9,1055.7 1180.7,1054.1 1181.6,1055.7 1182.4,1053.5 1183.3,1056.4 1184.1,1055.8 1185,1056.9 1185.8,1056.1 1186.6,1054 1187.5,1058.3 1188.3,1058.3 1189.2,1058.4 1190,1056.1 1190.9,1057.7 1191.7,1057.4 1192.6,1058.7 1193.4,1057.6 1194.3,1055.6 1195.1,1057.9 1196,1059.2 1196.8,1059.1 1197.7,1060 1198.5,1058.3 1199.4,1056.4 1200.2,1057.2 1201,1059.6 1201.9,1058 1202.7,1059.7 1203.6,1058.8 1204.4,1060 1205.3,1059.2 1206.1,1059.8 1207,1058.5 1207.8,1059.7 1208.7,1059.2 1209.5,1057.2 1210.4,1060.6 1211.2,1058.6 1212.1,1060 1212.9,1061.4 1213.7,1061.4 1214.6,1061.9 1215.4,1060.2 1216.3,1060.9 1217.1,1061.2 1218,1059.6 1218.8,1061.2 1219.7,1060.1 1220.5,1061.5 1221.4,1060.7 1222.2,1061.6 1223.1,1063 1223.9,1061.8 1224.8,1060 1225.6,1062.1 1226.4,1060.2 1227.3,1060.9 1228.1,1062.3 1229,1062.4 1229.8,1063.5 1230.7,1061.8 1231.5,1063.1 1232.4,1062.7 1233.2,1064.1 1234.1,1060.9 1234.9,1063.1 1235.8,1061.4 1236.6,1060.5 1237.5,1062.7 1238.3,1061.9 1239.2,1063.2 1240,1063.3 1240.8,1059.7 1241.7,1060.9 1242.5,1061.1 1243.4,1063.6 1244.2,1061.9 1245.1,1062.7 1245.9,1063.2 1246.8,1060.8 1247.6,1061 1248.5,1062.4 1249.3,1062.4 1250.2,1062.5 1251,1063.3 1251.9,1062.2 1252.7,1062.5 1253.5,1063.1 1254.4,1062.6 1255.2,1062.5 1256.1,1062.1 1256.9,1061 1257.8,1062.7 1258.6,1063.5 1259.5,1063.2 1260.3,1061.7 1261.2,1063.4 1262,1061.4 1262.9,1063.4 1263.7,1063.2 1264.6,1063.8 1265.4,1062.5 1266.2,1063.2 1267.1,1064.3 1267.9,1062.8 1268.8,1060.9 1269.6,1061.4 1270.5,1061.6 1271.3,1062.1 1272.2,1061.6 1273,1063.8 1273.9,1063.4 1274.7,1062.2 1275.6,1062.1 1276.4,1064.4 1277.3,1061.9 1278.1,1061.9 1279,1063.1 1279.8,1063.2 1280.6,1063.4 1281.5,1063.1 1282.3,1062.3 1283.2,1064.4 1284,1062.6 1284.9,1061.5 1285.7,1060.9 1286.6,1061.6 1287.4,1060.9 1288.3,1061.5 1289.1,1061.5 1290,1063.4 1290.8,1065 1291.7,1063.1 1292.5,1061.8 1293.3,1064.5 1294.2,1063.4 1295,1064.1 1295.9,1061.3 1296.7,1062.3 1297.6,1063.7 1298.4,1063.9 1299.3,1063 1300.1,1063.4 1301,1063.3 1301.8,1063.3 1302.7,1063 1303.5,1064.5 1304.4,1063.1 1305.2,1063.2 1306,1061.5 1306.9,1063.9 1307.7,1062.2 1308.6,1064.1 1309.4,1061.5 1310.3,1063.5 1311.1,1063.4 1312,1063.7 1312.8,1062.7 1313.7,1064.4 1314.5,1063.2 1315.4,1063.8 1316.2,1064.5 1317.1,1062.1 1317.9,1062.8 1318.7,1063.3 1319.6,1062.4 1320.4,1061.7 1321.3,1062.4 1322.1,1063.4 1323,1062.8 1323.8,1063.4 1324.7,1063.7 1325.5,1063.1 1326.4,1062.6 1327.2,1062.3 1328.1,1063.6 1328.9,1063.1 1329.8,1062.8 1330.6,1061 1331.5,1063 1332.3,1063.6 1333.1,1064 1334,1063.6 1334.8,1064.2 1335.7,1063.2 1336.5,1062.7 1337.4,1062.9 1338.2,1062.6 1339.1,1063.6 1339.9,1062.9 1340.8,1063.6 1341.6,1061.8 1342.5,1061.6 1343.3,1063.4 1344.2,1064.7 1345,1064 1345.8,1063.5 1346.7,1064 1347.5,1063.6 1348.4,1062.4 1349.2,1062.2 1350.1,1061 1350.9,1063.1 1351.8,1061.8 1352.6,1064.1 1353.5,1062.4 1354.3,1060.8 1355.2,1063.8 1356,1064 1356.9,1063.8 1357.7,1062.6 1358.5,1062.8 1359.4,1064.2 1360.2,1062.5 1361.1,1063.1 1361.9,1063.4 1362.8,1062.7 1363.6,1062.6 1364.5,1063.6 1365.3,1063.1 1366.2,1063.4 1367,1062.5 1367.9,1061.3 1368.7,1063.6 1369.6,1063.1 1370.4,1063.6 1371.3,1063.6 1372.1,1061.6 1372.9,1063.7 1373.8,1061.8 1374.6,1063.8 1375.5,1064 1376.3,1062.9 1377.2,1061.7 1378,1063.4 1378.9,1059.4 1379.7,1063.1 1380.6,1063.8 1381.4,1063.3 1382.3,1066.1 1383.1,1063.9 1384,1062.9 1384.8,1064.1 1385.6,1062.5 1386.5,1063.6 1387.3,1062 1388.2,1063.1 1389,1060.8 1389.9,1063.2 1390.7,1061.4 1391.6,1063.3 1392.4,1060.1 1393.3,1062.3 1394.1,1062.1 1395,1061 1395.8,1062.2 1396.7,1061 1397.5,1061.3 1398.3,1062.1 1399.2,1062 1400,1062.4 1400.9,1060.4 1401.7,1059.7 1402.6,1061.6 1403.4,1061.4 1404.3,1062 1405.1,1063.3 1406,1061.1 1406.8,1062.8 1407.7,1060.4 1408.5,1060.5 1409.4,1060.8 1410.2,1059.8 1411.1,1062.5 1411.9,1061.3 1412.7,1061.4 1413.6,1059.9 1414.4,1059.5 1415.3,1060.2 1416.1,1062.4 1417,1059.7 1417.8,1061.2 1418.7,1060.3 1419.5,1060.5 1420.4,1059.4 1421.2,1058.3 1422.1,1059 1422.9,1059.5 1423.8,1059.7 1424.6,1058.2 1425.4,1058.2 1426.3,1057 1427.1,1058.7 1428,1057.3 1428.8,1058.5 1429.7,1058.3 1430.5,1059.6 1431.4,1055.9 1432.2,1055.6 1433.1,1055.5 1433.9,1055.6 1434.8,1057.9 1435.6,1054.7 1436.5,1053.1 1437.3,1051.9 1438.1,1053.1 1439,1053.3 1439.8,1051.6 1440.7,1050.9 1441.5,1051.4 1442.4,1049.4 1443.2,1050.7 1444.1,1048 1444.9,1048.6 1445.8,1046.3 1446.6,1046.4 1447.5,1044.8 1448.3,1045.8 1449.2,1042.4 1450,1043.2 1450.9,1044.5 1451.7,1043.3 1452.5,1043.1 1453.4,1040.3 1454.2,1038.1 1455.1,1039.8 1455.9,1034.9 1456.8,1035.5 1457.6,1033.5 1458.5,1031.8 1459.3,1030.6 1460.2,1030.7 1461,1028 1461.9,1026.9 1462.7,1026.3 1463.6,1026.8 1464.4,1021.2 1465.2,1021.5 1466.1,1021.3 1466.9,1019.5 1467.8,1019.6 1468.6,1014.1 1469.5,1016.3 1470.3,1012 1471.2,1010.9 1472,1009.1 1472.9,1008.7 1473.7,1005.4 1474.6,1004.5 1475.4,1004.2 1476.3,1003.8 1477.1,1004.2 1477.9,1002.4 1478.8,1000.4 1479.6,1000.4 1480.5,997.8 1481.3,997.1 1482.2,994.1 1483,993.1 1483.9,993.3 1484.7,991.8 1485.6,990 1486.4,991.1 1487.3,989.9 1488.1,990.2 1489,990.1 1489.8,990.1 1490.7,989.3 1491.5,988.7 1492.3,989.6 1493.2,990.1 1494,992.8 1494.9,989.7 1495.7,991.5 1496.6,990.7 1497.4,992.4 1498.3,993.8 1499.1,996 1500,993.1 1500.8,995.6 1501.7,996.8 1502.5,998.5 1503.4,998.9 1504.2,1000.9 1505,1003.6 1505.9,1002.3 1506.7,1005.2 1507.6,1006.2 1508.4,1007.9 1509.3,1007.2 1510.1,1010.1 1511,1009.6 1511.8,1012.2 1512.7,1012 1513.5,1016.5 1514.4,1015.7 1515.2,1019.4 1516.1,1021.1 1516.9,1023 1517.7,1022.9 1518.6,1024.7 1519.4,1024.9 1520.3,1027.3 1521.1,1029.7 1522,1030.6 1522.8,1031.1 1523.7,1032.5 1524.5,1033.5 1525.4,1034.3 1526.2,1036.4 1527.1,1037.7 1527.9,1037.3 1528.8,1037.9 1529.6,1039.4 1530.4,1040.9 1531.3,1040.9 1532.1,1042.7 1533,1044.1 1533.8,1046 1534.7,1045.6 1535.5,1044.7 1536.4,1048.1 1537.2,1046 1538.1,1049.2 1538.9,1047.9 1539.8,1049.5 1540.6,1049.1 1541.5,1049.1 1542.3,1051.4 1543.2,1051.6 1544,1052.4 1544.8,1052.4 1545.7,1052.5 1546.5,1054.3 1547.4,1054.8 1548.2,1056.7 1549.1,1055.5 1549.9,1055.7 1550.8,1055.8 1551.6,1055.9 1552.5,1056.4 1553.3,1055.2 1554.2,1054 1555,1056.9 1555.9,1056.4 1556.7,1056.5 1557.5,1056.9 1558.4,1055.4 1559.2,1055.3 1560.1,1056.8 1560.9,1056.5 1561.8,1056.4 1562.6,1057.3 1563.5,1054.8 1564.3,1058 1565.2,1057.1 1566,1057.6 1566.9,1056.5 1567.7,1056.8 1568.6,1055.2 1569.4,1057.1 1570.2,1055.3 1571.1,1057.1 1571.9,1055.9 1572.8,1054.9 1573.6,1056 1574.5,1055.7 1575.3,1055.8 1576.2,1055.4 1577,1053.9 1577.9,1053.1 1578.7,1053.3 1579.6,1054.6 1580.4,1052.2 1581.3,1053 1582.1,1054.5 1583,1053.5 1583.8,1053 1584.6,1053 1585.5,1053.5 1586.3,1054.3 1587.2,1052.7 1588,1051.8 1588.9,1052.3 1589.7,1050.8 1590.6,1053.4 1591.4,1053.1 1592.3,1053.7 1593.1,1050.8 1594,1053 1594.8,1051.8 1595.7,1049.1 1596.5,1051 1597.3,1050.7 1598.2,1050.1 1599,1050.7 1599.9,1050.7 1600.7,1052 1601.6,1051.4 1602.4,1050.5 1603.3,1051.6 1604.1,1050.7 1605,1051.1 1605.8,1052.9 1606.7,1051.9 1607.5,1051.6 1608.4,1048.7 1609.2,1051 1610,1049.7 1610.9,1053.9 1611.7,1051.7 1612.6,1052.7 1613.4,1050.9 1614.3,1050.5 1615.1,1053 1616,1052.5 1616.8,1053.7 1617.7,1051.7 1618.5,1053.5 1619.4,1053.6 1620.2,1052.7 1621.1,1053.3 1621.9,1054 1622.8,1054.1 1623.6,1054.4 1624.4,1055.9 1625.3,1053.7 1626.1,1054.1 1627,1054.6 1627.8,1055.8 1628.7,1056.2 1629.5,1054.9 1630.4,1054.8 1631.2,1055.4 1632.1,1055.7 1632.9,1055.1 1633.8,1055.9 1634.6,1058.6 1635.5,1060.4 1636.3,1058 1637.1,1058.5 1638,1058 1638.8,1059.6 1639.7,1058.3 1640.5,1058.1 1641.4,1059.1 1642.2,1058.6 1643.1,1059 1643.9,1059.3 1644.8,1060.2 1645.6,1061.6 1646.5,1058 1647.3,1061.3 1648.2,1060.5 1649,1059.7 1649.8,1061.5 1650.7,1061.2 1651.5,1061.2 1652.4,1060.2 1653.2,1060.5 1654.1,1060.6 1654.9,1060.1 1655.8,1061.9 1656.6,1061.7 1657.5,1061.3 1658.3,1062.9 1659.2,1061.6 1660,1061.1 1660.9,1061.1 1661.7,1063 1662.6,1061.6 1663.4,1064.5 1664.2,1063.8 1665.1,1064.7 1665.9,1062.4 1666.8,1060.9 1667.6,1065.5 1668.5,1062.5 1669.3,1061 1670.2,1062.8 1671,1063.7 1671.9,1062.4 1672.7,1064.4 1673.6,1063 1674.4,1063.2 1675.3,1062.8 1676.1,1063.6 1676.9,1065.1 1677.8,1064.2 1678.6,1062.9 1679.5,1061.3 1680.3,1064.9 1681.2,1063.6 1682,1062.3 1682.9,1064.2 1683.7,1064.2 1684.6,1064.7 1685.4,1064.3 1686.3,1061.9 1687.1,1063.4 1688,1063.3 1688.8,1063.8 1689.6,1063.5 1690.5,1062.9 1691.3,1062 1692.2,1063.7 1693,1062.8 1693.9,1064.7 1694.7,1062.4 1695.6,1062.3 1696.4,1061.2 1697.3,1062.4 1698.1,1063.8 1699,1061.7 1699.8,1061.3 1700.7,1063.3 1701.5,1065.3 1702.4,1063.7 1703.2,1064 1704,1064 1704.9,1063.2 1705.7,1064.2 1706.6,1063.3 1707.4,1065.1 1708.3,1062.3 1709.1,1063.1 1710,1065.5 1710.8,1062.7 1711.7,1063.3 1712.5,1063.1 1713.4,1063.2 1714.2,1061.6 1715.1,1064.7 1715.9,1063.1 1716.7,1065 1717.6,1063 1718.4,1065.8 1719.3,1062.4 1720.1,1062.2 1721,1062.8 1721.8,1064 1722.7,1063 1723.5,1062.9 1724.4,1063.3 1725.2,1062.6 1726.1,1063.4 1726.9,1063.5 1727.8,1063.3 1728.6,1063.7 1729.4,1065 1730.3,1065 1731.1,1062.1 1732,1060.7 1732.8,1062.2 1733.7,1062.8 1734.5,1062.3 1735.4,1062.1 1736.2,1061.7 1737.1,1060.6 1737.9,1061.7 1738.8,1060.6 1739.6,1059.2 1740.5,1058.4 1741.3,1059.6 1742.1,1059.5 1743,1058.7 1743.8,1058.4 1744.7,1055 1745.5,1055.7 1746.4,1057.9 1747.2,1054.9 1748.1,1056.4 1748.9,1053.7 1749.8,1050.6 1750.6,1052.3 1751.5,1052.3 1752.3,1051.2 1753.2,1048.7 1754,1050.4 1754.9,1050.6 1755.7,1047.8 1756.5,1049 1757.4,1047.5 1758.2,1046.9 1759.1,1047.8 1759.9,1047.2 1760.8,1047.8 1761.6,1047.5 1762.5,1047.9 1763.3,1047.4 1764.2,1050.5 1765,1050.4 1765.9,1049.6 1766.7,1050.2 1767.6,1052.6 1768.4,1052 1769.2,1052.8 1770.1,1053.8 1770.9,1055.6 1771.8,1056.6 1772.6,1055.5 1773.5,1056.9 1774.3,1057.4 1775.2,1058.9 1776,1058.7 1776.9,1059.2 1777.7,1059 1778.6,1061.1 1779.4,1060.1 1780.3,1060.1 1781.1,1061.8 1781.9,1063.8 1782.8,1062.5 1783.6,1061.3 1784.5,1065 1785.3,1063.7 1786.2,1062.5 1787,1062.8 1787.9,1062.7 1788.7,1060.5 1789.6,1062.7 1790.4,1064.1 1791.3,1063.3 1792.1,1063.5 1793,1064.9 1793.8,1064 1794.7,1065.5 1795.5,1061 1796.3,1063.4 1797.2,1062.8 1798,1065.4 1798.9,1064.4 1799.7,1065.8 1800.6,1064.1 1801.4,1062 1802.3,1065.2 1803.1,1062.7 1804,1064.7 1804.8,1066.4 1805.7,1064 1806.5,1064.8 1807.4,1061.8 1808.2,1064.4 1809,1064.4 1809.9,1064.6 1810.7,1065.5 1811.6,1066 1812.4,1063.9 1813.3,1064.5 1814.1,1065.9 1815,1064.5 1815.8,1065 1816.7,1064.8 1817.5,1063.3 1818.4,1066.7 1819.2,1064 1820.1,1065.4 1820.9,1065.1 1821.7,1063.6 1822.6,1064.8 1823.4,1066.1 1824.3,1064.2 1825.1,1063.6 1826,1062.2 1826.8,1064.3 1827.7,1065.2 1828.5,1065.8 1829.4,1064.7 1830.2,1066 1831.1,1066.1 1831.9,1065.1 1832.8,1064.5 1833.6,1063.3 1834.5,1063.6 1835.3,1065.9 1836.1,1066.8 1837,1063.5 1837.8,1065.1 1838.7,1065.6 1839.5,1063.5 1840.4,1064.5 1841.2,1065.2 1842.1,1067.5 1842.9,1064.7 1843.8,1066.1 1844.6,1063.9 1845.5,1065.5 1846.3,1064.5 1847.2,1064 1848,1065.5"/>
<polyline fill="none" stroke="#008000" stroke-width="11.8" stroke-linejoin="round" stroke-linecap="butt" points="154.4,910.1 155.2,910 156.1,910.4 156.9,910.1 157.8,911.9 158.6,912.2 159.5,909.9 160.3,909.5 161.2,910.6 162,908.2 162.9,910.3 163.7,908.2 164.6,910.6 165.4,909.2 166.3,910.5 167.1,908.9 167.9,909.5 168.8,911.7 169.6,910.1 170.5,909.4 171.3,909.4 172.2,909.6 173,906.2 173.9,910 174.7,910.1 175.6,910.9 176.4,911 177.3,906.2 178.1,910.6 179,909.7 179.8,908.4 180.7,910 181.5,911 182.3,910.1 183.2,909.7 184,909.8 184.9,908.1 185.7,910.4 186.6,910.2 187.4,907.5 188.3,907.4 189.1,908.4 190,905.9 190.8,911 191.7,908 192.5,906.7 193.4,907.2 194.2,907.1 195,908.4 195.9,907.5 196.7,906.9 197.6,910.2 198.4,905.5 199.3,909.7 200.1,910.7 201,910.5 201.8,904.8 202.7,905.4 203.5,907.3 204.4,908.3 205.2,905.6 206.1,908.6 206.9,906.6 207.7,908.4 208.6,906.7 209.4,910 210.3,906.1 211.1,906.6 212,905.7 212.8,907 213.7,908.2 214.5,905.9 215.4,905.4 216.2,906.9 217.1,906.6 217.9,904.6 218.8,903.4 219.6,905.6 220.5,903.5 221.3,904 222.1,904.2 223,906 223.8,904.1 224.7,904.4 225.5,903.2 226.4,903.3 227.2,906.6 228.1,903.7 228.9,901.7 229.8,903.4 230.6,901.9 231.5,902.7 232.3,902.3 233.2,902.5 234,905.4 234.8,904.1 235.7,901.9 236.5,902.7 237.4,900.3 238.2,898.4 239.1,902.1 239.9,901.4 240.8,903.8 241.6,901.9 242.5,898 243.3,900.8 244.2,897.2 245,897.2 245.9,900 246.7,893.8 247.5,897.8 248.4,895.9 249.2,897.5 250.1,894.5 250.9,894.3 251.8,891.4 252.6,891.2 253.5,894.1 254.3,893 255.2,891.3 256,893.1 256.9,892.1 257.7,891.4 258.6,890.3 259.4,890.8 260.2,887.9 261.1,886.7 261.9,885.3 262.8,883.7 263.6,885.2 264.5,880.8 265.3,885.5 266.2,883.2 267,882.7 267.9,878.9 268.7,875 269.6,872.2 270.4,869.7 271.3,871.8 272.1,867.2 273,866.6 273.8,862.2 274.6,861.4 275.5,856.2 276.3,852.3 277.2,847.7 278,846.6 278.9,842.9 279.7,840.2 280.6,835.4 281.4,832.3 282.3,828.5 283.1,823.8 284,816.3 284.8,811.7 285.7,805.2 286.5,803.2 287.3,795.2 288.2,786.5 289,784.8 289.9,773.1 290.7,767 291.6,759.1 292.4,752.4 293.3,747.5 294.1,735.9 295,729.7 295.8,722 296.7,713.4 297.5,706.9 298.4,697.7 299.2,690.8 300,686.1 300.9,678 301.7,668.4 302.6,669.6 303.4,660.8 304.3,655.5 305.1,651 306,648.6 306.8,650.2 307.7,646.2 308.5,646.2 309.4,647.1 310.2,645.1 311.1,652.9 311.9,655.7 312.8,659.4 313.6,663.8 314.4,665.6 315.3,676 316.1,681.1 317,690.5 317.8,694.1 318.7,701.1 319.5,712.1 320.4,719.7 321.2,725.8 322.1,732.4 322.9,743.7 323.8,747.7 324.6,758.7 325.5,767.2 326.3,772.3 327.1,779.4 328,781.9 328.8,790.8 329.7,799.9 330.5,803.2 331.4,808.9 332.2,813.7 333.1,819.9 333.9,826.1 334.8,825.8 335.6,832.6 336.5,836.3 337.3,844.6 338.2,844.9 339,848.7 339.8,851.7 340.7,854.6 341.5,858.1 342.4,864.1 343.2,866.3 344.1,867.8 344.9,866 345.8,871.5 346.6,872.5 347.5,875.6 348.3,877.4 349.2,877.8 350,881.3 350.9,885.5 351.7,883.9 352.6,882.6 353.4,885.5 354.2,887.1 355.1,886.3 355.9,885.9 356.8,888.2 357.6,891.4 358.5,893.4 359.3,889.6 360.2,893.4 361,892 361.9,896.2 362.7,894.1 363.6,892.9 364.4,896.9 365.3,897 366.1,896.9 366.9,895.7 367.8,899.1 368.6,898.9 369.5,897.8 370.3,894.7 371.2,898.3 372,899.6 372.9,897.5 373.7,901.7 374.6,897.8 375.4,900.4 376.3,899.8 377.1,900.8 378,901.9 378.8,902.2 379.6,904.9 380.5,903.3 381.3,902.4 382.2,900.9 383,902.1 383.9,902.8 384.7,905.6 385.6,906.6 386.4,902.8 387.3,902.4 388.1,903.7 389,902 389.8,903.3 390.7,902.7 391.5,904.4 392.4,902.9 393.2,906.7 394,905.1 394.9,905 395.7,906.6 396.6,900.5 397.4,903.6 398.3,905.8 399.1,906 400,906.8 400.8,908.1 401.7,906.7 402.5,905.6 403.4,905.8 404.2,904.4 405.1,907.3 405.9,907 406.7,906.1 407.6,909.4 408.4,906.5 409.3,904.7 410.1,907.6 411,904.8 411.8,907.4 412.7,905 413.5,907.3 414.4,907.1 415.2,907.2 416.1,906.9 416.9,905.8 417.8,905.3 418.6,906.7 419.4,907.9 420.3,909.4 421.1,904.2 422,908.4 422.8,906.3 423.7,905.8 424.5,910 425.4,909.5 426.2,904.9 427.1,905.6 427.9,907.4 428.8,905.3 429.6,906.9 430.5,906.8 431.3,909.3 432.2,905.4 433,908.1 433.8,904.8 434.7,906.3 435.5,908 436.4,906.6 437.2,906.6 438.1,907.1 438.9,907.3 439.8,905.3 440.6,904.9 441.5,903.1 442.3,906.3 443.2,907.8 444,906.6 444.9,902.7 445.7,904.9 446.5,908.2 447.4,905.7 448.2,905.3 449.1,905.6 449.9,902.9 450.8,907 451.6,903.4 452.5,904 453.3,907.9 454.2,905.8 455,905.2 455.9,902.9 456.7,906.1 457.6,903.7 458.4,904.8 459.2,902.3 460.1,902.3 460.9,902.2 461.8,902.9 462.6,899.3 463.5,902.1 464.3,902.1 465.2,898.6 466,902.2 466.9,899.5 467.7,900.3 468.6,899.3 469.4,896.7 470.3,901 471.1,897.6 471.9,896 472.8,895.5 473.6,892.2 474.5,894 475.3,892.7 476.2,890 477,890.4 477.9,888.9 478.7,889.3 479.6,885 480.4,888.3 481.3,883.9 482.1,882.6 483,882.2 483.8,880.8 484.7,875.8 485.5,877.8 486.3,875.3 487.2,867.6 488,870.2 488.9,867.3 489.7,866 490.6,863.4 491.4,862.8 492.3,859.7 493.1,856.7 494,853.8 494.8,850.9 495.7,851 496.5,848.3 497.4,848.6 498.2,844.4 499,843.5 499.9,843.3 500.7,840.7 501.6,845.2 502.4,840.7 503.3,843.9 504.1,845.6 505,846.2 505.8,847.4 506.7,846.8 507.5,850.9 508.4,853.5 509.2,852.2 510.1,854.4 510.9,856.4 511.7,856.2 512.6,867.1 513.4,864 514.3,868.7 515.1,868.6 516,870.9 516.8,872.3 517.7,875.3 518.5,873.9 519.4,877.2 520.2,880.9 521.1,880.9 521.9,879.6 522.8,882 523.6,885.9 524.5,886.7 525.3,888.9 526.1,891.4 527,891.9 527.8,891.7 528.7,894.9 529.5,894.2 530.4,897.1 531.2,895.4 532.1,897.7 532.9,900.1 533.8,901.8 534.6,900.8 535.5,900.1 536.3,899 537.2,899.8 538,901.3 538.8,903.6 539.7,902.7 540.5,904.5 541.4,902.3 542.2,906.1 543.1,904.8 543.9,902.9 544.8,903 545.6,905.5 546.5,902.9 547.3,906.1 548.2,905.9 549,909 549.9,906 550.7,908.2 551.5,908.1 552.4,908 553.2,908.9 554.1,904.6 554.9,906.6 555.8,906.1 556.6,907.7 557.5,908.5 558.3,910.9 559.2,909.8 560,908.4 560.9,907.6 561.7,908.6 562.6,907.6 563.4,907.4 564.3,910.7 565.1,907.3 565.9,908.9 566.8,909.5 567.6,908.3 568.5,909.7 569.3,908.5 570.2,909 571,911.1 571.9,906.3 572.7,910.3 573.6,909 574.4,912.6 575.3,908 576.1,908.7 577,910 577.8,909.8 578.6,911.8 579.5,907.9 580.3,909.4 581.2,910.7 582,911 582.9,912.1 583.7,911.4 584.6,912.3 585.4,911.3 586.3,910.5 587.1,912.2 588,911.1 588.8,911.8 589.7,915.4 590.5,912.4 591.3,908.8 592.2,910.2 593,910 593.9,909.6 594.7,911.2 595.6,908.8 596.4,911.2 597.3,910.1 598.1,912 599,910.2 599.8,909.7 600.7,912.6 601.5,911.7 602.4,913.9 603.2,912.9 604.1,909.5 604.9,909.6 605.7,910.8 606.6,912 607.4,911.4 608.3,911.8 609.1,914.2 610,908.4 610.8,912.3 611.7,912.7 612.5,911 613.4,914.6 614.2,908.9 615.1,910.4 615.9,911.6 616.8,913.7 617.6,911.5 618.4,911.8 619.3,911.7 620.1,909.5 621,911.6 621.8,912.4 622.7,910.1 623.5,911.1 624.4,911.5 625.2,911.1 626.1,911.4 626.9,911.7 627.8,912.8 628.6,912.6 629.5,909.7 630.3,911.3 631.1,910.6 632,910.1 632.8,909.8 633.7,910.3 634.5,909.9 635.4,910 636.2,911.7 637.1,910.7 637.9,913 638.8,910.6 639.6,910 640.5,910.8 641.3,910.7 642.2,910.4 643,908.5 643.9,909.2 644.7,909.9 645.5,912 646.4,908.5 647.2,910.3 648.1,909.2 648.9,907.4 649.8,906.5 650.6,910.3 651.5,906.7 652.3,907.4 653.2,908.2 654,907.4 654.9,906.6 655.7,906.1 656.6,904.3 657.4,903.1 658.2,902.9 659.1,899.9 659.9,901.4 660.8,901.3 661.6,897.8 662.5,894.3 663.3,896.5 664.2,894.2 665,894.2 665.9,891.3 666.7,886.9 667.6,887.3 668.4,883.9 669.3,880.2 670.1,880.2 670.9,876.9 671.8,878.9 672.6,877 673.5,875.8 674.3,876 675.2,876.7 676,877.6 676.9,877.1 677.7,879.4 678.6,881 679.4,885.2 680.3,886.4 681.1,889 682,887.8 682.8,890 683.6,894.4 684.5,895.8 685.3,896.3 686.2,896.7 687,898.7 687.9,900.1 688.7,904.2 689.6,904.7 690.4,901.7 691.3,907.3 692.1,904.2 693,906.9 693.8,907.9 694.7,907.1 695.5,906 696.4,908.5 697.2,910.8 698,909 698.9,908.5 699.7,908.7 700.6,911 701.4,912.1 702.3,908.7 703.1,910.3 704,907.8 704.8,913.2 705.7,906.6 706.5,910.1 707.4,912.9 708.2,912.2 709.1,910.4 709.9,910.3 710.7,908.6 711.6,909.9 712.4,912.3 713.3,910.9 714.1,911.5 715,909.4 715.8,914.4 716.7,913.3 717.5,913.1 718.4,912.1 719.2,911 720.1,911.9 720.9,911.5 721.8,913.4 722.6,912.3 723.4,912.3 724.3,912 725.1,913.8 726,909.7 726.8,912.1 727.7,915.7 728.5,913.2 729.4,911.8 730.2,914 731.1,913.5 731.9,910.4 732.8,915.5 733.6,912 734.5,913 735.3,915 736.2,912.3 737,916.5 737.8,912.9 738.7,914 739.5,909 740.4,913.1 741.2,913.1 742.1,911.5 742.9,915.5 743.8,910.2 744.6,911.8 745.5,914.2 746.3,916.6 747.2,913.9 748,910.4 748.9,912.9 749.7,916 750.5,912.5 751.4,915.3 752.2,913 753.1,915.8 753.9,914.8 754.8,913.6 755.6,912.9 756.5,912.9 757.3,915.6 758.2,915.3 759,913.2 759.9,912.6 760.7,913.7 761.6,914.3 762.4,912.4 763.2,911 764.1,913.2 764.9,913.8 765.8,912.6 766.6,913.6 767.5,913 768.3,915.5 769.2,911.8 770,912.2 770.9,913.3 771.7,912.5 772.6,916.8 773.4,914.5 774.3,911.7 775.1,914.4 776,913.5 776.8,916.2 777.6,914.7 778.5,913.1 779.3,913.2 780.2,913.5 781,912.9 781.9,912.8 782.7,914.3 783.6,914 784.4,912.2 785.3,913.1 786.1,916.4 787,912 787.8,913.6 788.7,908.6 789.5,916.5 790.3,913.5 791.2,914.8 792,913.6 792.9,912 793.7,914.6 794.6,915.6 795.4,916.1 796.3,914.6 797.1,913.9 798,911.4 798.8,912.7 799.7,915.8 800.5,910.4 801.4,912.9 802.2,911.2 803,909.7 803.9,913.6 804.7,911.8 805.6,914.3 806.4,912.5 807.3,914.6 808.1,915.9 809,914.5 809.8,913.9 810.7,911.9 811.5,912.5 812.4,914.7 813.2,913.3 814.1,914 814.9,913.8 815.8,914.3 816.6,912.6 817.4,913.2 818.3,912.2 819.1,914.7 820,915.1 820.8,913.1 821.7,912.9 822.5,915.3 823.4,913.7 824.2,915.3 825.1,913.6 825.9,913.4 826.8,912.5 827.6,914.1 828.5,907.3 829.3,914.7 830.1,911.2 831,912.7 831.8,910.6 832.7,912.7 833.5,914.2 834.4,911.8 835.2,915.4 836.1,913.6 836.9,915.4 837.8,915.1 838.6,915.5 839.5,912.3 840.3,917.5 841.2,912.7 842,911.7 842.8,912.8 843.7,911.8 844.5,910.5 845.4,913.4 846.2,913.9 847.1,911.8 847.9,915.6 848.8,913.4 849.6,912.6 850.5,914.3 851.3,915.8 852.2,913.2 853,912.3 853.9,909.6 854.7,914 855.6,908.9 856.4,913.6 857.2,914.8 858.1,913.1 858.9,913.5 859.8,910.7 860.6,913.5 861.5,910.5 862.3,911.1 863.2,914.1 864,912.3 864.9,910.1 865.7,910.9 866.6,911.5 867.4,910.4 868.3,911 869.1,914.4 869.9,910.5 870.8,910.4 871.6,909.1 872.5,911.9 873.3,912.4 874.2,913.3 875,910.1 875.9,909.7 876.7,911.9 877.6,912.3 878.4,910 879.3,914.8 880.1,909.9 881,908.7 881.8,909.7 882.6,910.1 883.5,910.7 884.3,910.5 885.2,911.4 886,909.4 886.9,910.7 887.7,907 888.6,911.2 889.4,911.3 890.3,908.1 891.1,908.7 892,908.3 892.8,909.7 893.7,910.8 894.5,905.7 895.3,910.7 896.2,903.3 897,908.3 897.9,906.1 898.7,906 899.6,906.2 900.4,904.5 901.3,906.7 902.1,903.6 903,902.1 903.8,902.6 904.7,902.8 905.5,901.8 906.4,904.2 907.2,900.9 908.1,900.1 908.9,898.4 909.7,898 910.6,895.6 911.4,894.6 912.3,890.9 913.1,891.8 914,888.1 914.8,890.2 915.7,886.8 916.5,883.8 917.4,880.1 918.2,880.8 919.1,879.7 919.9,876.5 920.8,874.8 921.6,869.8 922.4,865.6 923.3,862.6 924.1,863.6 925,859.2 925.8,858.4 926.7,858.4 927.5,854.2 928.4,852.4 929.2,856.8 930.1,854.4 930.9,855.6 931.8,859.8 932.6,857.8 933.5,858 934.3,863.2 935.1,865.5 936,866.6 936.8,871.8 937.7,874.3 938.5,875.2 939.4,880.3 940.2,882.1 941.1,883.1 941.9,883.8 942.8,889.7 943.6,887.8 944.5,889.9 945.3,892.8 946.2,891.3 947,893.7 947.9,893.6 948.7,895.4 949.5,898.1 950.4,898 951.2,898.8 952.1,900.5 952.9,902 953.8,901.4 954.6,902.5 955.5,902.5 956.3,903.2 957.2,903.9 958,906.5 958.9,904.9 959.7,907 960.6,905.1 961.4,906.2 962.2,907.4 963.1,906.9 963.9,908.4 964.8,909 965.6,909 966.5,908 967.3,907.4 968.2,909.6 969,908.1 969.9,912.6 970.7,909.1 971.6,909.1 972.4,908.2 973.3,909.7 974.1,906.8 974.9,909.5 975.8,912.9 976.6,910.3 977.5,909.5 978.3,909.5 979.2,908.5 980,910.1 980.9,909.1 981.7,911.9 982.6,907.4 983.4,911.2 984.3,912.8 985.1,908.5 986,910.7 986.8,912.5 987.7,910 988.5,908.3 989.3,911.2 990.2,910 991,909.4 991.9,910.6 992.7,908 993.6,909 994.4,911 995.3,909.2 996.1,912.2 997,908.6 997.8,910.2 998.7,911.6 999.5,911.1 1000.4,909.7 1001.2,911.7 1002,909.9 1002.9,913.4 1003.7,905.7 1004.6,911.7 1005.4,910 1006.3,910.6 1007.1,910 1008,911.1 1008.8,909.4 1009.7,910.5 1010.5,911.7 1011.4,911.5 1012.2,907.8 1013.1,910.7 1013.9,910.9 1014.7,909.2 1015.6,908.6 1016.4,909.3 1017.3,908.4 1018.1,910.3 1019,913 1019.8,913.8 1020.7,909 1021.5,911.8 1022.4,910 1023.2,907.1 1024.1,910.7 1024.9,908.3 1025.8,907.3 1026.6,909.1 1027.5,907.3 1028.3,909.5 1029.1,910.2 1030,906.7 1030.8,904.7 1031.7,906.6 1032.5,904.8 1033.4,910.9 1034.2,906.9 1035.1,909.1 1035.9,908.5 1036.8,908.4 1037.6,908.7 1038.5,906.8 1039.3,907.9 1040.2,908.4 1041,905.8 1041.8,907.5 1042.7,906.9 1043.5,906.7 1044.4,905.5 1045.2,906.4 1046.1,908.6 1046.9,907.2 1047.8,902.6 1048.6,905.4 1049.5,907 1050.3,901.7 1051.2,905.7 1052,902.3 1052.9,901.3 1053.7,904.1 1054.5,903.4 1055.4,903 1056.2,903.7 1057.1,905.4 1057.9,904 1058.8,904.5 1059.6,902.9 1060.5,901.5 1061.3,903.2 1062.2,901.2 1063,897.9 1063.9,901.6 1064.7,898.7 1065.6,899.6 1066.4,898.9 1067.3,895.4 1068.1,898.9 1068.9,897.6 1069.8,898.4 1070.6,898.1 1071.5,893.3 1072.3,892.8 1073.2,893.6 1074,894.4 1074.9,890.3 1075.7,888.9 1076.6,887.1 1077.4,889.9 1078.3,886.3 1079.1,888.6 1080,883.2 1080.8,886.4 1081.6,886.1 1082.5,883.5 1083.3,882.8 1084.2,880.6 1085,880.2 1085.9,874 1086.7,873.3 1087.6,871.3 1088.4,871.4 1089.3,871.1 1090.1,868.4 1091,866.4 1091.8,863.4 1092.7,863.2 1093.5,861.5 1094.3,856.7 1095.2,854.1 1096,850.3 1096.9,848.2 1097.7,846.5 1098.6,845.7 1099.4,844.5 1100.3,839.4 1101.1,836.1 1102,836.4 1102.8,831.1 1103.7,830 1104.5,828.1 1105.4,826.5 1106.2,824.1 1107,820.5 1107.9,816.9 1108.7,817.4 1109.6,812.2 1110.4,812.5 1111.3,813.7 1112.1,807.2 1113,809.1 1113.8,809 1114.7,809.2 1115.5,806 1116.4,807.5 1117.2,810.8 1118.1,813.3 1118.9,813.5 1119.8,812.2 1120.6,813.8 1121.4,816.2 1122.3,820.3 1123.1,818.7 1124,823.6 1124.8,823.2 1125.7,825.4 1126.5,826.8 1127.4,830.1 1128.2,833.4 1129.1,834.3 1129.9,839.6 1130.8,842.7 1131.6,844.6 1132.5,845.5 1133.3,846.8 1134.1,850.9 1135,850.3 1135.8,858.6 1136.7,855.3 1137.5,859.6 1138.4,861.8 1139.2,865.3 1140.1,866.8 1140.9,868.5 1141.8,868.5 1142.6,871 1143.5,872.4 1144.3,874.1 1145.2,874.5 1146,876.8 1146.8,881.9 1147.7,882.2 1148.5,882.2 1149.4,883.3 1150.2,884.4 1151.1,887 1151.9,885.5 1152.8,887.1 1153.6,887.5 1154.5,892.4 1155.3,889.6 1156.2,891.3 1157,894.2 1157.9,895.7 1158.7,895.2 1159.6,893.7 1160.4,896.1 1161.2,895.5 1162.1,895.4 1162.9,896.9 1163.8,897 1164.6,899.9 1165.5,902.6 1166.3,897.3 1167.2,902.2 1168,899.6 1168.9,902.5 1169.7,902.8 1170.6,903.1 1171.4,903.6 1172.3,902.2 1173.1,900.9 1173.9,904.1 1174.8,902.5 1175.6,901.4 1176.5,904.2 1177.3,904.1 1178.2,906.3 1179,906.3 1179.9,904.3 1180.7,905.3 1181.6,905.9 1182.4,905 1183.3,905.2 1184.1,907.7 1185,907.1 1185.8,907.1 1186.6,907.6 1187.5,907.2 1188.3,907.8 1189.2,906.3 1190,906.7 1190.9,907.2 1191.7,906.8 1192.6,907.1 1193.4,906.4 1194.3,906.5 1195.1,906.2 1196,909 1196.8,912.3 1197.7,907.6 1198.5,911.8 1199.4,908.3 1200.2,909.2 1201,913.9 1201.9,906.8 1202.7,909.7 1203.6,910.7 1204.4,907.2 1205.3,909.4 1206.1,910.4 1207,909.5 1207.8,911.5 1208.7,911.1 1209.5,909.3 1210.4,909.5 1211.2,908.3 1212.1,911.3 1212.9,910 1213.7,910.2 1214.6,913.1 1215.4,913.5 1216.3,911 1217.1,909.8 1218,911.2 1218.8,910.2 1219.7,909.4 1220.5,912 1221.4,909.2 1222.2,912.4 1223.1,913.1 1223.9,913.9 1224.8,911 1225.6,910.8 1226.4,913.2 1227.3,912 1228.1,911.4 1229,912.9 1229.8,912.3 1230.7,908.3 1231.5,913.3 1232.4,911.6 1233.2,911.8 1234.1,913.1 1234.9,910.7 1235.8,914.5 1236.6,913.6 1237.5,913 1238.3,912.7 1239.2,913.5 1240,911.3 1240.8,913.5 1241.7,911.4 1242.5,912 1243.4,914.5 1244.2,910.3 1245.1,914.3 1245.9,914.2 1246.8,911.5 1247.6,912.5 1248.5,912.2 1249.3,911.3 1250.2,913.6 1251,913.1 1251.9,911.2 1252.7,911.9 1253.5,914.9 1254.4,915.5 1255.2,915.4 1256.1,912.9 1256.9,913.5 1257.8,912.8 1258.6,910.2 1259.5,912.9 1260.3,912.8 1261.2,914.1 1262,912.1 1262.9,915.2 1263.7,915.1 1264.6,911.1 1265.4,913.2 1266.2,913.6 1267.1,911.2 1267.9,912 1268.8,912.6 1269.6,915.4 1270.5,914.5 1271.3,915.1 1272.2,912.8 1273,913.6 1273.9,912.7 1274.7,910.5 1275.6,911.2 1276.4,914.9 1277.3,914.9 1278.1,911.1 1279,912 1279.8,912.1 1280.6,915.8 1281.5,916.2 1282.3,912.7 1283.2,915 1284,913.9 1284.9,914.2 1285.7,913.3 1286.6,913.8 1287.4,913.7 1288.3,912.5 1289.1,915.9 1290,911.8 1290.8,918.4 1291.7,915.6 1292.5,912.9 1293.3,911.5 1294.2,917.4 1295,913.1 1295.9,916.7 1296.7,916.5 1297.6,918.7 1298.4,914.7 1299.3,913.8 1300.1,913.1 1301,910.2 1301.8,913.5 1302.7,912.9 1303.5,915.2 1304.4,914 1305.2,911.9 1306,912.7 1306.9,915.5 1307.7,913.5 1308.6,912.2 1309.4,914 1310.3,911.1 1311.1,912.9 1312,913.5 1312.8,915.2 1313.7,916.7 1314.5,911.2 1315.4,911.6 1316.2,911.8 1317.1,915.1 1317.9,913.8 1318.7,916.2 1319.6,913.1 1320.4,911.1 1321.3,910.8 1322.1,913.1 1323,914.9 1323.8,916.6 1324.7,914.1 1325.5,913.6 1326.4,913.1 1327.2,915.8 1328.1,915.3 1328.9,914.3 1329.8,911.7 1330.6,913.4 1331.5,911.1 1332.3,911.4 1333.1,913.4 1334,914 1334.8,914.8 1335.7,912.8 1336.5,913.1 1337.4,915.8 1338.2,912.7 1339.1,911.4 1339.9,913.2 1340.8,912.3 1341.6,910.2 1342.5,912.6 1343.3,913.2 1344.2,912.9 1345,912 1345.8,914 1346.7,914.4 1347.5,911.6 1348.4,915.5 1349.2,913.3 1350.1,915.9 1350.9,915.9 1351.8,914.6 1352.6,916.6 1353.5,910.9 1354.3,915.4 1355.2,913.6 1356,910.3 1356.9,913.5 1357.7,913 1358.5,914.4 1359.4,915.8 1360.2,916.8 1361.1,913.3 1361.9,914.5 1362.8,913.6 1363.6,913.2 1364.5,914.6 1365.3,913.2 1366.2,911.5 1367,911.9 1367.9,913 1368.7,911.9 1369.6,913.2 1370.4,912.3 1371.3,911.3 1372.1,912.7 1372.9,912.9 1373.8,912.4 1374.6,913.6 1375.5,914.4 1376.3,915.2 1377.2,911 1378,914.1 1378.9,910.7 1379.7,912 1380.6,910.9 1381.4,915.8 1382.3,912.7 1383.1,909.5 1384,914 1384.8,912.1 1385.6,912.1 1386.5,913.6 1387.3,913.9 1388.2,912.5 1389,913.7 1389.9,911 1390.7,912.4 1391.6,910.1 1392.4,912.8 1393.3,909.7 1394.1,911.9 1395,912.7 1395.8,911.9 1396.7,911.4 1397.5,913.1 1398.3,910.9 1399.2,912.7 1400,911.2 1400.9,912.3 1401.7,912.3 1402.6,909.1 1403.4,913.1 1404.3,912.5 1405.1,911.5 1406,912.4 1406.8,908.7 1407.7,910.1 1408.5,911.9 1409.4,915 1410.2,911.3 1411.1,911 1411.9,908.2 1412.7,910.4 1413.6,908.7 1414.4,912 1415.3,908.5 1416.1,907.2 1417,914 1417.8,907.8 1418.7,910.2 1419.5,908.4 1420.4,911.1 1421.2,910.1 1422.1,908.5 1422.9,911.2 1423.8,909.1 1424.6,905.6 1425.4,908.6 1426.3,906.7 1427.1,906.2 1428,910.4 1428.8,907.7 1429.7,904.4 1430.5,907.5 1431.4,907.4 1432.2,906.2 1433.1,904.4 1433.9,906.4 1434.8,903 1435.6,902.6 1436.5,903.4 1437.3,902.5 1438.1,898.2 1439,903.8 1439.8,902 1440.7,900.1 1441.5,902.2 1442.4,898.1 1443.2,899.1 1444.1,900.5 1444.9,897.2 1445.8,896.9 1446.6,900.4 1447.5,893.5 1448.3,895.3 1449.2,891.5 1450,892.9 1450.9,893 1451.7,893.2 1452.5,890.8 1453.4,890.9 1454.2,889.3 1455.1,885.5 1455.9,884 1456.8,886.3 1457.6,885.3 1458.5,885 1459.3,880.4 1460.2,878.4 1461,875.7 1461.9,878.8 1462.7,874.1 1463.6,874.3 1464.4,872.1 1465.2,872.3 1466.1,869.8 1466.9,868.1 1467.8,865.5 1468.6,868.7 1469.5,866.4 1470.3,863.8 1471.2,861.8 1472,857.8 1472.9,858.4 1473.7,855.4 1474.6,855.4 1475.4,853 1476.3,852.4 1477.1,853.4 1477.9,854.5 1478.8,848.3 1479.6,848.1 1480.5,844.2 1481.3,843.9 1482.2,845.4 1483,845.5 1483.9,842.7 1484.7,843.2 1485.6,844.6 1486.4,839.5 1487.3,842.8 1488.1,843.3 1489,840.1 1489.8,843.9 1490.7,842.1 1491.5,845.5 1492.3,841.9 1493.2,847.8 1494,845.7 1494.9,850.1 1495.7,850 1496.6,849.8 1497.4,852.6 1498.3,850.7 1499.1,854.1 1500,854.4 1500.8,858.3 1501.7,853.8 1502.5,856.4 1503.4,858 1504.2,861.7 1505,860.6 1505.9,864.1 1506.7,867.2 1507.6,867.4 1508.4,870 1509.3,872.2 1510.1,874.2 1511,873.1 1511.8,875.6 1512.7,876.8 1513.5,877.1 1514.4,879.7 1515.2,881 1516.1,879.4 1516.9,883.3 1517.7,888.7 1518.6,887.7 1519.4,887.1 1520.3,888.2 1521.1,889 1522,889.3 1522.8,889.4 1523.7,889.8 1524.5,891 1525.4,894 1526.2,893.3 1527.1,894.1 1527.9,895.1 1528.8,897 1529.6,898.9 1530.4,898 1531.3,901 1532.1,900 1533,899.5 1533.8,898.5 1534.7,898.5 1535.5,899.1 1536.4,902.7 1537.2,900.6 1538.1,904.2 1538.9,904.9 1539.8,902.4 1540.6,904.6 1541.5,903.5 1542.3,905.3 1543.2,906.3 1544,906.5 1544.8,905.1 1545.7,904.5 1546.5,905.9 1547.4,905.2 1548.2,908.7 1549.1,906.8 1549.9,907.7 1550.8,908.2 1551.6,904.5 1552.5,906.2 1553.3,908.6 1554.2,908.2 1555,906.2 1555.9,907.4 1556.7,907.9 1557.5,906.4 1558.4,906 1559.2,906.8 1560.1,907.8 1560.9,908.1 1561.8,907.2 1562.6,906.9 1563.5,908.3 1564.3,906.3 1565.2,908.4 1566,906.2 1566.9,905 1567.7,908.2 1568.6,907.3 1569.4,907.3 1570.2,907.6 1571.1,909.1 1571.9,906 1572.8,904.4 1573.6,907 1574.5,906.8 1575.3,904.7 1576.2,905.3 1577,905.4 1577.9,904 1578.7,902.8 1579.6,906.3 1580.4,904.8 1581.3,905.5 1582.1,903.5 1583,902.8 1583.8,904.2 1584.6,903.3 1585.5,903.7 1586.3,903.2 1587.2,902.1 1588,903.8 1588.9,901.9 1589.7,899.6 1590.6,900.7 1591.4,901.8 1592.3,901.4 1593.1,902 1594,899.9 1594.8,900 1595.7,899.8 1596.5,900.6 1597.3,900.4 1598.2,901.3 1599,900.8 1599.9,902.4 1600.7,900 1601.6,900.3 1602.4,897.5 1603.3,896.8 1604.1,899.8 1605,898.4 1605.8,900.3 1606.7,900.1 1607.5,900.7 1608.4,899.2 1609.2,899.8 1610,899.9 1610.9,899.1 1611.7,903.4 1612.6,898.9 1613.4,902.1 1614.3,899.1 1615.1,900.9 1616,901.2 1616.8,902.2 1617.7,902 1618.5,898.5 1619.4,905.5 1620.2,897.6 1621.1,904.1 1621.9,902.6 1622.8,903.3 1623.6,902 1624.4,906.6 1625.3,903.4 1626.1,904.2 1627,905.3 1627.8,906.3 1628.7,902.9 1629.5,905.8 1630.4,903.7 1631.2,905.2 1632.1,904.1 1632.9,907.7 1633.8,904.1 1634.6,905.4 1635.5,908.1 1636.3,907.3 1637.1,907.2 1638,908.7 1638.8,907.2 1639.7,908.3 1640.5,906.6 1641.4,908.5 1642.2,905.7 1643.1,907.5 1643.9,908.2 1644.8,909.4 1645.6,907.5 1646.5,909.7 1647.3,907.8 1648.2,907.4 1649,909 1649.8,911.8 1650.7,911.6 1651.5,912.1 1652.4,909.9 1653.2,911.9 1654.1,910.5 1654.9,911.2 1655.8,914.9 1656.6,913.1 1657.5,913.2 1658.3,911.3 1659.2,913.2 1660,915.2 1660.9,914 1661.7,915 1662.6,912.2 1663.4,912.6 1664.2,915 1665.1,912.1 1665.9,915.4 1666.8,913.1 1667.6,913.6 1668.5,914.5 1669.3,915.6 1670.2,914.9 1671,915.1 1671.9,914.9 1672.7,912.2 1673.6,914.7 1674.4,912.6 1675.3,915.4 1676.1,913.6 1676.9,914.4 1677.8,913.7 1678.6,915.3 1679.5,914.6 1680.3,913.3 1681.2,911.4 1682,917.2 1682.9,911.3 1683.7,916.1 1684.6,916.7 1685.4,916.5 1686.3,912.6 1687.1,914.9 1688,912.3 1688.8,912.8 1689.6,913.9 1690.5,913 1691.3,916 1692.2,914 1693,915.4 1693.9,916.4 1694.7,917.9 1695.6,916.6 1696.4,915.4 1697.3,913.7 1698.1,912.5 1699,916 1699.8,912.2 1700.7,913.3 1701.5,916.4 1702.4,911.5 1703.2,913.2 1704,912.1 1704.9,915 1705.7,916 1706.6,914.2 1707.4,916.5 1708.3,915.1 1709.1,914.7 1710,916.6 1710.8,916.7 1711.7,915.2 1712.5,915 1713.4,913.7 1714.2,915 1715.1,914.4 1715.9,915.7 1716.7,911.5 1717.6,915.3 1718.4,914.1 1719.3,913.5 1720.1,914.6 1721,914.2 1721.8,914 1722.7,913.4 1723.5,914.5 1724.4,910.8 1725.2,913.6 1726.1,912.4 1726.9,913.1 1727.8,914.1 1728.6,912.6 1729.4,913.5 1730.3,914.7 1731.1,913.5 1732,916.3 1732.8,911.2 1733.7,913.7 1734.5,911.1 1735.4,914.8 1736.2,913.6 1737.1,910.9 1737.9,911.6 1738.8,908.2 1739.6,909.9 1740.5,911.9 1741.3,906.5 1742.1,907.8 1743,905.6 1743.8,909.7 1744.7,909.1 1745.5,908.3 1746.4,905 1747.2,903.9 1748.1,902.2 1748.9,901.8 1749.8,902.2 1750.6,901 1751.5,899.5 1752.3,899.7 1753.2,900 1754,898.7 1754.9,898.1 1755.7,896.6 1756.5,897.4 1757.4,895 1758.2,892.5 1759.1,895.5 1759.9,895.8 1760.8,896.6 1761.6,896.4 1762.5,893.5 1763.3,893.8 1764.2,899.4 1765,899.3 1765.9,898.7 1766.7,901.1 1767.6,899.3 1768.4,902.8 1769.2,905.9 1770.1,904.7 1770.9,905 1771.8,907.9 1772.6,905.8 1773.5,906.5 1774.3,908.7 1775.2,907.5 1776,908.9 1776.9,910.7 1777.7,911.6 1778.6,911.3 1779.4,911.1 1780.3,910.6 1781.1,909.4 1781.9,913.1 1782.8,910.3 1783.6,910.9 1784.5,911.7 1785.3,911.6 1786.2,914.1 1787,914.3 1787.9,912.7 1788.7,913.4 1789.6,913.5 1790.4,918.3 1791.3,917.1 1792.1,912.5 1793,912.1 1793.8,914.3 1794.7,913.3 1795.5,911.7 1796.3,914.5 1797.2,909.5 1798,912 1798.9,913.1 1799.7,913.3 1800.6,913.8 1801.4,913.9 1802.3,913.8 1803.1,914.7 1804,916.7 1804.8,911.4 1805.7,912.4 1806.5,914.5 1807.4,915.4 1808.2,915.4 1809,914.1 1809.9,915.2 1810.7,915.8 1811.6,914.6 1812.4,918.6 1813.3,914.2 1814.1,916.8 1815,916.5 1815.8,913.2 1816.7,915.8 1817.5,916.1 1818.4,915.5 1819.2,915 1820.1,914.2 1820.9,914.5 1821.7,914.7 1822.6,914.9 1823.4,915.6 1824.3,918.2 1825.1,917.2 1826,917.8 1826.8,914.7 1827.7,917.9 1828.5,916.4 1829.4,917.9 1830.2,916.6 1831.1,917.1 1831.9,916.6 1832.8,916.1 1833.6,913.3 1834.5,919.7 1835.3,913.8 1836.1,917.4 1837,912.8 1837.8,916 1838.7,915.3 1839.5,916.4 1840.4,915.6 1841.2,914.3 1842.1,915.4 1842.9,916.4 1843.8,918.9 1844.6,914.7 1845.5,916.9 1846.3,917.3 1847.2,914.9 1848,918.9"/>
<polyline fill="none" stroke="#000080" stroke-width="11.8" stroke-linejoin="round" stroke-linecap="butt" points="154.4,761.6 155.2,762.8 156.1,761.8 156.9,762.8 157.8,765.7 158.6,761.7 159.5,761.9 160.3,767.8 161.2,758.3 162,761.6 162.9,765.1 163.7,761.8 164.6,761.8 165.4,758.8 166.3,758.4 167.1,765.7 167.9,766.9 168.8,763.6 169.6,761.1 170.5,759.1 171.3,762.4 172.2,763.4 173,758.2 173.9,763.8 174.7,761.6 175.6,766 176.4,763.9 177.3,764.3 178.1,762.1 179,761.2 179.8,760.4 180.7,765.7 181.5,763.8 182.3,762.5 183.2,762 184,761.9 184.9,764.7 185.7,765.4 186.6,765.9 187.4,758 188.3,762.7 189.1,757.9 190,761.6 190.8,763.3 191.7,761.3 192.5,761.5 193.4,762.9 194.2,764.9 195,760.9 195.9,763.5 196.7,759 197.6,760 198.4,763.8 199.3,763.2 200.1,760.3 201,763.2 201.8,759.5 202.7,759.5 203.5,763.9 204.4,759.2 205.2,759.5 206.1,760.2 206.9,761.9 207.7,761.3 208.6,762.3 209.4,761.9 210.3,763.3 211.1,758.9 212,759.9 212.8,759.3 213.7,761.5 214.5,757.8 215.4,760.5 216.2,760.5 217.1,759.1 217.9,751.9 218.8,757.7 219.6,763.6 220.5,760.3 221.3,756.3 222.1,757.1 223,756.5 223.8,754.6 224.7,761.2 225.5,758.6 226.4,758.8 227.2,758.3 228.1,757.4 228.9,756.5 229.8,758.7 230.6,755.2 231.5,758.9 232.3,752.5 233.2,755.4 234,759.3 234.8,755.3 235.7,757.8 236.5,756 237.4,756.8 238.2,756.3 239.1,756.6 239.9,757.4 240.8,756.6 241.6,755.7 242.5,757.7 243.3,754.6 244.2,752.7 245,756.8 245.9,751.3 246.7,756.4 247.5,755.6 248.4,753.3 249.2,749.5 250.1,751 250.9,750.6 251.8,753.7 252.6,748.1 253.5,746.3 254.3,753.4 255.2,749.6 256,743 256.9,750.4 257.7,746 258.6,749.6 259.4,744.4 260.2,745.3 261.1,745.2 261.9,743.5 262.8,739.6 263.6,744.3 264.5,740.2 265.3,741.3 266.2,738.5 267,738.4 267.9,739.6 268.7,728.9 269.6,732.4 270.4,729 271.3,727.9 272.1,724.1 273,724.6 273.8,723.1 274.6,717 275.5,713.1 276.3,713 277.2,710.3 278,702.4 278.9,704.3 279.7,694.5 280.6,695.6 281.4,685.4 282.3,679.1 283.1,679.6 284,673.4 284.8,668.5 285.7,666.3 286.5,652.7 287.3,650.5 288.2,644.8 289,632.2 289.9,628.4 290.7,617.1 291.6,614 292.4,608.9 293.3,596.7 294.1,586.7 295,581.2 295.8,573.3 296.7,566 297.5,560.1 298.4,550.9 299.2,539 300,536.9 300.9,534.8 301.7,530 302.6,525.6 303.4,517.5 304.3,514.3 305.1,518.6 306,516 306.8,518.2 307.7,514.4 308.5,518.9 309.4,523.2 310.2,526.7 311.1,535.7 311.9,531.4 312.8,540.9 313.6,549.9 314.4,550.4 315.3,562.4 316.1,565.4 317,579.7 317.8,585.8 318.7,595 319.5,605.2 320.4,612.8 321.2,613.2 322.1,622.7 322.9,630.2 323.8,638.5 324.6,644.5 325.5,651.7 326.3,653.7 327.1,663.2 328,676 328.8,670.6 329.7,683.1 330.5,687.5 331.4,696.5 332.2,695.7 333.1,698.8 333.9,704.3 334.8,705.1 335.6,709 336.5,717 337.3,719.9 338.2,718.1 339,723.9 339.8,725 340.7,725.1 341.5,733 342.4,732.8 343.2,730.8 344.1,730.7 344.9,733.6 345.8,740.5 346.6,736.7 347.5,738.6 348.3,746.5 349.2,741.1 350,744.6 350.9,748.8 351.7,745.9 352.6,745.2 353.4,749.2 354.2,745.7 355.1,744.6 355.9,750.5 356.8,749.4 357.6,750.4 358.5,746.7 359.3,748.5 360.2,751.5 361,753 361.9,755.6 362.7,752 363.6,750.3 364.4,754.7 365.3,753.2 366.1,754.5 366.9,753.3 367.8,758.8 368.6,754.6 369.5,755.2 370.3,755.8 371.2,758.6 372,754.6 372.9,756 373.7,756.9 374.6,753.4 375.4,759.6 376.3,755.9 377.1,756.9 378,755.3 378.8,758.1 379.6,755.3 380.5,753.4 381.3,755.9 382.2,753.4 383,755 383.9,756.3 384.7,756.1 385.6,757.4 386.4,756.9 387.3,757.3 388.1,756.1 389,761.8 389.8,759.7 390.7,755.2 391.5,757.6 392.4,762.4 393.2,760.8 394,760.3 394.9,761.7 395.7,759.5 396.6,760.6 397.4,761 398.3,759.4 399.1,760.3 400,757.7 400.8,765.4 401.7,759 402.5,759.5 403.4,763.2 404.2,754.7 405.1,763.9 405.9,758.7 406.7,757.8 407.6,761.2 408.4,759.1 409.3,759.6 410.1,757.7 411,759.8 411.8,762.1 412.7,763 413.5,762.8 414.4,758.3 415.2,757.8 416.1,760.4 416.9,761.1 417.8,759.4 418.6,757.7 419.4,758.7 420.3,754.8 421.1,754.3 422,757.8 422.8,757.7 423.7,757.4 424.5,760.4 425.4,763.6 426.2,760 427.1,760.1 427.9,760.2 428.8,762.3 429.6,758.4 430.5,761.3 431.3,759.6 432.2,761.1 433,758.3 433.8,760.2 434.7,762.5 435.5,759.3 436.4,759.6 437.2,761.1 438.1,755.1 438.9,765.5 439.8,763.7 440.6,761.1 441.5,758.7 442.3,756 443.2,758.3 444,758.1 444.9,762 445.7,760.2 446.5,761 447.4,761.2 448.2,756.4 449.1,759.5 449.9,759.7 450.8,756.9 451.6,758 452.5,754.2 453.3,756.5 454.2,758.9 455,754.9 455.9,758.2 456.7,752.9 457.6,756.9 458.4,755.7 459.2,759.7 460.1,752.3 460.9,758.4 461.8,755.1 462.6,751.8 463.5,754.5 464.3,749.1 465.2,750.1 466,754 466.9,747.9 467.7,750.8 468.6,751.5 469.4,748.1 470.3,747.1 471.1,743.5 471.9,739.8 472.8,743.9 473.6,742.8 474.5,738 475.3,736.4 476.2,734.1 477,739.7 477.9,731.2 478.7,731.5 479.6,730.1 480.4,726 481.3,732 482.1,726.2 483,720.3 483.8,724.2 484.7,722.3 485.5,723.7 486.3,713.4 487.2,717.8 488,715 488.9,715.9 489.7,709.7 490.6,710.7 491.4,707.6 492.3,706.6 493.1,704.5 494,700.9 494.8,700.4 495.7,698 496.5,698.8 497.4,697.1 498.2,698 499,699.1 499.9,698.8 500.7,697.6 501.6,694.8 502.4,702.5 503.3,698.6 504.1,701.8 505,696.9 505.8,696.2 506.7,699.9 507.5,701.4 508.4,702 509.2,703.5 510.1,707.9 510.9,705.9 511.7,712.5 512.6,712 513.4,712.8 514.3,718.3 515.1,714.8 516,716.4 516.8,722.2 517.7,722.3 518.5,728.2 519.4,728.2 520.2,728.4 521.1,728.7 521.9,730.6 522.8,735.5 523.6,731.9 524.5,736.7 525.3,736.7 526.1,744 527,741.1 527.8,738.3 528.7,742.8 529.5,741.3 530.4,743.3 531.2,745.7 532.1,744.2 532.9,741 533.8,751.5 534.6,748.2 535.5,746.7 536.3,748.8 537.2,752.5 538,754.3 538.8,756.3 539.7,754.5 540.5,758.2 541.4,756.9 542.2,759.7 543.1,756.6 543.9,756.2 544.8,756.2 545.6,751.8 546.5,760.7 547.3,757.8 548.2,759.1 549,759.9 549.9,763 550.7,758 551.5,758.9 552.4,757.7 553.2,759.2 554.1,763.5 554.9,759.7 555.8,760.9 556.6,759.7 557.5,761.2 558.3,758.9 559.2,765.7 560,758.8 560.9,759.5 561.7,758.5 562.6,759.3 563.4,761.2 564.3,761 565.1,762.8 565.9,757.3 566.8,762.1 567.6,760.2 568.5,759.6 569.3,760.8 570.2,762.8 571,766.2 571.9,757.6 572.7,763.1 573.6,759.3 574.4,762.3 575.3,763.7 576.1,765.7 577,763.8 577.8,760.3 578.6,761.7 579.5,764.9 580.3,762.2 581.2,761.3 582,761.4 582.9,761.1 583.7,765.7 584.6,763.2 585.4,760.5 586.3,762.1 587.1,766.2 588,759.9 588.8,763 589.7,759.7 590.5,762 591.3,765.5 592.2,764.3 593,760.6 593.9,761.3 594.7,763.4 595.6,762.7 596.4,763.6 597.3,764.8 598.1,763 599,764.2 599.8,762.2 600.7,764.5 601.5,764.1 602.4,762.6 603.2,765.3 604.1,762.4 604.9,764.8 605.7,763 606.6,760.2 607.4,759.2 608.3,765.2 609.1,758.5 610,757.3 610.8,763.2 611.7,762.9 612.5,765.4 613.4,759.5 614.2,762.3 615.1,765.5 615.9,764.4 616.8,764.8 617.6,762.1 618.4,763.3 619.3,766 620.1,764.3 621,762.5 621.8,760.1 622.7,759.2 623.5,763.8 624.4,762.9 625.2,760.3 626.1,759.7 626.9,759.3 627.8,766 628.6,759.1 629.5,759.4 630.3,758.1 631.1,759.1 632,764.4 632.8,758.8 633.7,760.7 634.5,762.4 635.4,760.9 636.2,759.7 637.1,759 637.9,757.3 638.8,761.3 639.6,757 640.5,756.7 641.3,762.9 642.2,752.4 643,758.8 643.9,757.7 644.7,755.8 645.5,759.8 646.4,758 647.2,756.1 648.1,751.9 648.9,750 649.8,752.4 650.6,747.8 651.5,754.2 652.3,752.2 653.2,744.6 654,748 654.9,746.2 655.7,748.7 656.6,742.4 657.4,736.7 658.2,735.1 659.1,733.6 659.9,738.1 660.8,732.5 661.6,729.4 662.5,726.3 663.3,721.5 664.2,720 665,716.5 665.9,712.3 666.7,718.5 667.6,713.3 668.4,711.2 669.3,706.2 670.1,707 670.9,706.5 671.8,708.5 672.6,707.8 673.5,715.3 674.3,713.1 675.2,712.9 676,715.3 676.9,723.5 677.7,724.3 678.6,729.8 679.4,727.6 680.3,727.7 681.1,734.3 682,734.5 682.8,739.9 683.6,743.8 684.5,745.9 685.3,743.9 686.2,748.3 687,744.9 687.9,749.3 688.7,752 689.6,747.3 690.4,749.6 691.3,749.5 692.1,756 693,753.5 693.8,757.2 694.7,760.4 695.5,756.8 696.4,758.2 697.2,755.6 698,758.6 698.9,759.9 699.7,756.4 700.6,758.1 701.4,762.9 702.3,759.1 703.1,758.1 704,757.3 704.8,762 705.7,758 706.5,760.1 707.4,761.9 708.2,762.8 709.1,764.5 709.9,762.8 710.7,765.8 711.6,763.3 712.4,759.6 713.3,762.1 714.1,762.9 715,759.5 715.8,758.6 716.7,764.8 717.5,761.3 718.4,761.9 719.2,760.8 720.1,762.8 720.9,762.4 721.8,760.9 722.6,759.5 723.4,761.3 724.3,764.8 725.1,765.9 726,758.9 726.8,762.6 727.7,765.1 728.5,763.4 729.4,764.9 730.2,763.1 731.1,763.5 731.9,761.1 732.8,766.7 733.6,764.5 734.5,764.5 735.3,755.9 736.2,765.8 737,762.9 737.8,762.2 738.7,767.9 739.5,767 740.4,765.8 741.2,765.8 742.1,761.9 742.9,763.9 743.8,761.6 744.6,769.9 745.5,767.2 746.3,759.4 747.2,764.7 748,766.3 748.9,762.6 749.7,761.4 750.5,760.3 751.4,767.3 752.2,764.6 753.1,764.3 753.9,764 754.8,762.5 755.6,763.4 756.5,763.7 757.3,766.5 758.2,765 759,764.1 759.9,762.9 760.7,765 761.6,768.5 762.4,763.4 763.2,763.6 764.1,765.1 764.9,766.4 765.8,766.2 766.6,763 767.5,766.8 768.3,768.5 769.2,763.5 770,767.4 770.9,761.9 771.7,761.7 772.6,758.7 773.4,767.7 774.3,765.3 775.1,760.1 776,768.9 776.8,762 777.6,762.3 778.5,763.4 779.3,767.1 780.2,767.1 781,762.8 781.9,767.4 782.7,762 783.6,765.5 784.4,763 785.3,765.4 786.1,763 787,762.2 787.8,766.5 788.7,762.6 789.5,759.6 790.3,765.3 791.2,761.6 792,765 792.9,765.9 793.7,761 794.6,766.9 795.4,766.1 796.3,771.1 797.1,765.2 798,768.6 798.8,759.6 799.7,759.8 800.5,766 801.4,762.5 802.2,760.9 803,766.1 803.9,764.9 804.7,769.7 805.6,766 806.4,765.6 807.3,761.2 808.1,767 809,759.8 809.8,766.8 810.7,765.3 811.5,763.3 812.4,764.8 813.2,763.7 814.1,762.2 814.9,767.2 815.8,766.2 816.6,767.4 817.4,765.9 818.3,767.8 819.1,767.7 820,766.2 820.8,762.5 821.7,764.8 822.5,764.9 823.4,758.7 824.2,764.4 825.1,763 825.9,766.6 826.8,763.6 827.6,760.4 828.5,766.2 829.3,763.1 830.1,762.2 831,761.7 831.8,766.5 832.7,764.5 833.5,764.1 834.4,765 835.2,766.3 836.1,765.7 836.9,763.8 837.8,767.1 838.6,762.8 839.5,762.3 840.3,769.1 841.2,765.7 842,764.1 842.8,765.6 843.7,764.1 844.5,761.3 845.4,770.4 846.2,763.3 847.1,764 847.9,763.7 848.8,766.3 849.6,764.8 850.5,764.7 851.3,763.6 852.2,760.7 853,763.6 853.9,758.2 854.7,765.9 855.6,762.9 856.4,764.4 857.2,764.3 858.1,761.9 858.9,762.7 859.8,760.3 860.6,762 861.5,764.9 862.3,763.2 863.2,767.2 864,762.7 864.9,760.4 865.7,763 866.6,764.1 867.4,763 868.3,761.4 869.1,763.8 869.9,763.7 870.8,757.5 871.6,764.5 872.5,761.9 873.3,761.3 874.2,764.4 875,759.2 875.9,762.2 876.7,762.1 877.6,764.8 878.4,769.1 879.3,766.6 880.1,761 881,758.1 881.8,764.2 882.6,758.7 883.5,758.8 884.3,761.2 885.2,761.7 886,759.6 886.9,760.4 887.7,763 888.6,758.1 889.4,760.3 890.3,756.8 891.1,760 892,757.9 892.8,756.5 893.7,755.8 894.5,755.4 895.3,757.3 896.2,753.8 897,755.5 897.9,757.4 898.7,752.2 899.6,752.8 900.4,757.6 901.3,747.1 902.1,747.6 903,748 903.8,745.7 904.7,745.3 905.5,742.1 906.4,744 907.2,741.4 908.1,737.6 908.9,737 909.7,733 910.6,730.4 911.4,724.5 912.3,726.2 913.1,723.4 914,719.5 914.8,708.7 915.7,712.5 916.5,709.7 917.4,702.7 918.2,693.7 919.1,691.9 919.9,689.8 920.8,682.5 921.6,682.6 922.4,681.4 923.3,676.8 924.1,674.9 925,673.3 925.8,672 926.7,671.6 927.5,672.7 928.4,672.5 929.2,677.9 930.1,680.2 930.9,682.9 931.8,685.9 932.6,687 933.5,694.7 934.3,699.6 935.1,704.4 936,708.6 936.8,715.7 937.7,714.6 938.5,719.8 939.4,724 940.2,728 941.1,732.5 941.9,728.2 942.8,735.3 943.6,735.8 944.5,736.4 945.3,740.4 946.2,740.8 947,742 947.9,745.5 948.7,749 949.5,745.1 950.4,746.6 951.2,753.4 952.1,750.8 952.9,752.7 953.8,751 954.6,757.7 955.5,753.9 956.3,755.8 957.2,756.8 958,755.6 958.9,758.2 959.7,755.5 960.6,755.7 961.4,755.9 962.2,755 963.1,757 963.9,757.5 964.8,760.8 965.6,755.9 966.5,756.8 967.3,755.5 968.2,759.8 969,756 969.9,761 970.7,756.6 971.6,755 972.4,758.7 973.3,760.4 974.1,756.6 974.9,761 975.8,758.9 976.6,756.4 977.5,756.6 978.3,757.2 979.2,762.9 980,762.6 980.9,761.5 981.7,761.2 982.6,758.5 983.4,758.5 984.3,759.3 985.1,760.5 986,763 986.8,761 987.7,759.1 988.5,759.1 989.3,760.2 990.2,758.5 991,756.8 991.9,757.2 992.7,760.8 993.6,761.8 994.4,757.8 995.3,759.9 996.1,761.1 997,765.8 997.8,759.5 998.7,762 999.5,760.5 1000.4,760.5 1001.2,758.4 1002,755.7 1002.9,758.3 1003.7,759.5 1004.6,760 1005.4,760.6 1006.3,759.2 1007.1,763.7 1008,760.3 1008.8,758.9 1009.7,756.8 1010.5,760.5 1011.4,757.4 1012.2,761.7 1013.1,760.7 1013.9,759.2 1014.7,762 1015.6,758.6 1016.4,762.4 1017.3,759 1018.1,758.4 1019,759.1 1019.8,760.5 1020.7,760.6 1021.5,758.6 1022.4,761.8 1023.2,764.2 1024.1,758.3 1024.9,760.9 1025.8,760 1026.6,762.8 1027.5,757.2 1028.3,758.6 1029.1,755.5 1030,755.4 1030.8,755.4 1031.7,757.5 1032.5,761.2 1033.4,757.1 1034.2,756.1 1035.1,757.9 1035.9,757.7 1036.8,757.5 1037.6,755.9 1038.5,754.6 1039.3,754.9 1040.2,757.5 1041,756.2 1041.8,757.2 1042.7,758 1043.5,756.4 1044.4,751.1 1045.2,752.2 1046.1,751.1 1046.9,759 1047.8,752.4 1048.6,758.1 1049.5,758.2 1050.3,758.6 1051.2,753.7 1052,749.1 1052.9,753.1 1053.7,751.4 1054.5,749.6 1055.4,746.1 1056.2,752.6 1057.1,750.1 1057.9,749.1 1058.8,746.7 1059.6,748.7 1060.5,748.7 1061.3,750.5 1062.2,750 1063,748.5 1063.9,745.3 1064.7,748 1065.6,747.9 1066.4,747.5 1067.3,752 1068.1,743.8 1068.9,745.9 1069.8,742.1 1070.6,738.8 1071.5,738.8 1072.3,741.1 1073.2,737.7 1074,738.4 1074.9,741.8 1075.7,740.2 1076.6,736.6 1077.4,733.5 1078.3,730.7 1079.1,728.5 1080,733.1 1080.8,726.8 1081.6,723.6 1082.5,725.1 1083.3,721.8 1084.2,723.2 1085,717.5 1085.9,718.3 1086.7,714.8 1087.6,715.8 1088.4,712.2 1089.3,704.5 1090.1,707.6 1091,700.5 1091.8,702.9 1092.7,697.3 1093.5,698.6 1094.3,692.8 1095.2,689.4 1096,688 1096.9,685.9 1097.7,676.9 1098.6,678.3 1099.4,676.6 1100.3,672.5 1101.1,669.6 1102,666.4 1102.8,665.7 1103.7,658.9 1104.5,661.2 1105.4,656.8 1106.2,654.4 1107,651.6 1107.9,650.8 1108.7,651.8 1109.6,650.6 1110.4,649.8 1111.3,649.6 1112.1,649 1113,647.6 1113.8,647.1 1114.7,646.3 1115.5,651.9 1116.4,651.1 1117.2,654.3 1118.1,652.3 1118.9,657.4 1119.8,660 1120.6,661 1121.4,661.6 1122.3,672.1 1123.1,671.7 1124,668.2 1124.8,675.6 1125.7,681.4 1126.5,682.2 1127.4,684.1 1128.2,686.5 1129.1,686.7 1129.9,692.8 1130.8,697 1131.6,694.2 1132.5,700.3 1133.3,704.7 1134.1,700.6 1135,704.8 1135.8,709.8 1136.7,707.5 1137.5,714.5 1138.4,717.5 1139.2,716.8 1140.1,717.7 1140.9,721 1141.8,726.5 1142.6,723.4 1143.5,727.8 1144.3,729 1145.2,730.7 1146,734.5 1146.8,734.5 1147.7,731.6 1148.5,735.6 1149.4,731.6 1150.2,737.4 1151.1,742.5 1151.9,738.5 1152.8,735.7 1153.6,745.3 1154.5,739.9 1155.3,742.6 1156.2,741.4 1157,743 1157.9,744.7 1158.7,746.8 1159.6,745 1160.4,748.4 1161.2,751.7 1162.1,748 1162.9,749 1163.8,748.9 1164.6,750.8 1165.5,749.1 1166.3,752.3 1167.2,753.7 1168,751.3 1168.9,749.1 1169.7,750.7 1170.6,751.5 1171.4,753 1172.3,754.2 1173.1,753.2 1173.9,754.6 1174.8,751.7 1175.6,753.6 1176.5,753.5 1177.3,752.9 1178.2,754.1 1179,756.1 1179.9,752.9 1180.7,755.2 1181.6,754.8 1182.4,758.3 1183.3,758.8 1184.1,754.4 1185,758.6 1185.8,757.6 1186.6,754.7 1187.5,757.1 1188.3,755.1 1189.2,756 1190,755.7 1190.9,758.8 1191.7,757.1 1192.6,755.4 1193.4,758.7 1194.3,760 1195.1,755.7 1196,754.8 1196.8,756.7 1197.7,758.6 1198.5,761.4 1199.4,758.2 1200.2,754.2 1201,756.4 1201.9,759.5 1202.7,763 1203.6,760.1 1204.4,758 1205.3,755.6 1206.1,760 1207,760.5 1207.8,759.1 1208.7,758.8 1209.5,761.5 1210.4,759.5 1211.2,762.6 1212.1,760.4 1212.9,760.2 1213.7,760.1 1214.6,758.7 1215.4,764.7 1216.3,757.4 1217.1,760.3 1218,759 1218.8,760.5 1219.7,761.6 1220.5,762.4 1221.4,758 1222.2,759.8 1223.1,762.6 1223.9,760.3 1224.8,762.4 1225.6,761.4 1226.4,755.1 1227.3,763.4 1228.1,762.1 1229,758.3 1229.8,757.1 1230.7,765.8 1231.5,764.9 1232.4,762.5 1233.2,758.3 1234.1,760.4 1234.9,759.8 1235.8,760.6 1236.6,762.1 1237.5,762.2 1238.3,762.4 1239.2,755.9 1240,762.8 1240.8,759.2 1241.7,762.3 1242.5,763.7 1243.4,764 1244.2,760.9 1245.1,762.7 1245.9,758.1 1246.8,761.8 1247.6,759.2 1248.5,758.3 1249.3,764.5 1250.2,761.3 1251,761.7 1251.9,762.3 1252.7,757.9 1253.5,763.9 1254.4,759.8 1255.2,763.6 1256.1,758.3 1256.9,759.5 1257.8,763 1258.6,764.7 1259.5,765.5 1260.3,763.2 1261.2,762.6 1262,762.5 1262.9,761.2 1263.7,759 1264.6,764.1 1265.4,762.9 1266.2,763.6 1267.1,762.3 1267.9,766.7 1268.8,761.4 1269.6,764.4 1270.5,761.7 1271.3,758.3 1272.2,763.8 1273,762.5 1273.9,759.5 1274.7,757.9 1275.6,764.3 1276.4,762.4 1277.3,764.3 1278.1,759 1279,767.6 1279.8,764.5 1280.6,760.1 1281.5,763.3 1282.3,761.5 1283.2,764.9 1284,763.8 1284.9,759.3 1285.7,762.3 1286.6,762.5 1287.4,760.5 1288.3,759.8 1289.1,763.7 1290,762.4 1290.8,763.9 1291.7,763.9 1292.5,762.6 1293.3,759.9 1294.2,763.9 1295,762.7 1295.9,764.4 1296.7,759.9 1297.6,759.7 1298.4,765.7 1299.3,765.6 1300.1,757.9 1301,764.4 1301.8,765.7 1302.7,762.8 1303.5,760.4 1304.4,760.9 1305.2,762.1 1306,762 1306.9,763.8 1307.7,757.1 1308.6,764.5 1309.4,760.6 1310.3,760.9 1311.1,765.6 1312,758.9 1312.8,762.7 1313.7,763 1314.5,761.3 1315.4,759.1 1316.2,763.8 1317.1,766.4 1317.9,762.5 1318.7,762.3 1319.6,760.6 1320.4,761.9 1321.3,763.1 1322.1,764.6 1323,759.6 1323.8,764.5 1324.7,762.1 1325.5,764.3 1326.4,764.9 1327.2,763.3 1328.1,763.6 1328.9,763 1329.8,757.3 1330.6,767.7 1331.5,761.4 1332.3,762.5 1333.1,761.5 1334,764.6 1334.8,765.6 1335.7,762.1 1336.5,760.5 1337.4,762.8 1338.2,762.7 1339.1,765.2 1339.9,761.2 1340.8,763.2 1341.6,764.1 1342.5,759.8 1343.3,759.2 1344.2,761.8 1345,763.4 1345.8,759.7 1346.7,763.6 1347.5,760.8 1348.4,761.2 1349.2,762.1 1350.1,762.4 1350.9,762.9 1351.8,758.8 1352.6,759.5 1353.5,760.7 1354.3,759.2 1355.2,762.8 1356,760.9 1356.9,761.4 1357.7,761.4 1358.5,756.2 1359.4,761.8 1360.2,765.8 1361.1,758.8 1361.9,764.9 1362.8,759 1363.6,761.3 1364.5,758.5 1365.3,761.4 1366.2,761.4 1367,755.8 1367.9,760.5 1368.7,764.2 1369.6,758.1 1370.4,758.4 1371.3,760.9 1372.1,760 1372.9,760.4 1373.8,761.3 1374.6,763.3 1375.5,763.1 1376.3,759.6 1377.2,763.1 1378,760.5 1378.9,758.9 1379.7,759.9 1380.6,756.7 1381.4,759.8 1382.3,756.3 1383.1,763 1384,764 1384.8,761 1385.6,762.7 1386.5,760.6 1387.3,761.1 1388.2,761.2 1389,762.2 1389.9,761.5 1390.7,758.3 1391.6,756.7 1392.4,761.2 1393.3,757.9 1394.1,762.9 1395,756.3 1395.8,757.5 1396.7,759.5 1397.5,756.7 1398.3,759.3 1399.2,755.2 1400,759.9 1400.9,757 1401.7,758.4 1402.6,759.3 1403.4,759.3 1404.3,758 1405.1,761.3 1406,756.5 1406.8,761.6 1407.7,753.6 1408.5,755.3 1409.4,754.9 1410.2,756.7 1411.1,758.6 1411.9,758.5 1412.7,757.3 1413.6,755.9 1414.4,752.1 1415.3,754.9 1416.1,756.9 1417,757.7 1417.8,756.8 1418.7,759.5 1419.5,759.5 1420.4,759.6 1421.2,755.5 1422.1,753.7 1422.9,753.6 1423.8,760.1 1424.6,754.4 1425.4,752.1 1426.3,750.3 1427.1,755.2 1428,749.6 1428.8,751.6 1429.7,754.2 1430.5,747.8 1431.4,749.2 1432.2,748.2 1433.1,752.1 1433.9,753.4 1434.8,751.6 1435.6,744.7 1436.5,750.9 1437.3,747.8 1438.1,746.1 1439,748.2 1439.8,745.8 1440.7,743.3 1441.5,747.7 1442.4,743.9 1443.2,743.2 1444.1,740 1444.9,743.3 1445.8,742.6 1446.6,738.8 1447.5,737.7 1448.3,739.2 1449.2,739.6 1450,731.3 1450.9,736.7 1451.7,729.8 1452.5,734.8 1453.4,732.4 1454.2,731.1 1455.1,725 1455.9,727.7 1456.8,725 1457.6,719.2 1458.5,724.5 1459.3,722.1 1460.2,718.8 1461,715.9 1461.9,714.8 1462.7,713.1 1463.6,716.1 1464.4,713.2 1465.2,710.2 1466.1,705.9 1466.9,709.5 1467.8,709.6 1468.6,702.1 1469.5,700.3 1470.3,698.3 1471.2,693.8 1472,692.4 1472.9,687.9 1473.7,690.2 1474.6,686.4 1475.4,681.4 1476.3,687 1477.1,682.9 1477.9,683.5 1478.8,679.7 1479.6,680.6 1480.5,676.7 1481.3,676.5 1482.2,673.2 1483,670 1483.9,669 1484.7,671.8 1485.6,670.8 1486.4,672.9 1487.3,675.1 1488.1,670.1 1489,668.8 1489.8,675 1490.7,675.2 1491.5,676.6 1492.3,674.8 1493.2,673 1494,676.8 1494.9,675.8 1495.7,679.3 1496.6,677.4 1497.4,683.8 1498.3,681.3 1499.1,686.1 1500,685.1 1500.8,692 1501.7,688.6 1502.5,691.3 1503.4,693.3 1504.2,698.5 1505,695.8 1505.9,700.7 1506.7,702.1 1507.6,705 1508.4,703.9 1509.3,707 1510.1,710.7 1511,711.2 1511.8,712.6 1512.7,712.7 1513.5,716.5 1514.4,716.7 1515.2,718.1 1516.1,717.5 1516.9,721.7 1517.7,727.2 1518.6,721.8 1519.4,724.2 1520.3,727.6 1521.1,728.6 1522,728.6 1522.8,729.7 1523.7,731.9 1524.5,732 1525.4,729.7 1526.2,736.5 1527.1,735.6 1527.9,733.9 1528.8,735.8 1529.6,735 1530.4,743.1 1531.3,739.6 1532.1,741.7 1533,742.2 1533.8,740.9 1534.7,743.7 1535.5,744.6 1536.4,747.8 1537.2,747 1538.1,745.9 1538.9,744.4 1539.8,745 1540.6,747.2 1541.5,746.6 1542.3,749.8 1543.2,748.8 1544,751.3 1544.8,748 1545.7,751.8 1546.5,744.9 1547.4,748.6 1548.2,749.8 1549.1,749.5 1549.9,751.3 1550.8,749.9 1551.6,748.9 1552.5,745.9 1553.3,746.9 1554.2,748.3 1555,746.9 1555.9,751 1556.7,750.3 1557.5,754.2 1558.4,746.9 1559.2,748.6 1560.1,749.3 1560.9,750.5 1561.8,753.5 1562.6,754 1563.5,749.2 1564.3,749 1565.2,749.9 1566,749.8 1566.9,749.5 1567.7,749.4 1568.6,749.2 1569.4,746.7 1570.2,748.9 1571.1,753.8 1571.9,745.2 1572.8,748.2 1573.6,749.4 1574.5,752.2 1575.3,743.8 1576.2,748.6 1577,747 1577.9,750.5 1578.7,746.1 1579.6,749.1 1580.4,748 1581.3,747.1 1582.1,745.5 1583,744.3 1583.8,747 1584.6,748.8 1585.5,745.4 1586.3,751 1587.2,742.9 1588,747.8 1588.9,741.9 1589.7,746.4 1590.6,747 1591.4,740 1592.3,747.5 1593.1,747.3 1594,745.6 1594.8,745 1595.7,744.4 1596.5,740.8 1597.3,744.7 1598.2,741.9 1599,743.4 1599.9,741.8 1600.7,739 1601.6,741 1602.4,740.9 1603.3,744.4 1604.1,740.3 1605,737.9 1605.8,740.8 1606.7,741.6 1607.5,742.1 1608.4,745.3 1609.2,740.2 1610,741.8 1610.9,742.4 1611.7,740.1 1612.6,739.8 1613.4,742.5 1614.3,744.2 1615.1,738.9 1616,747.2 1616.8,740.4 1617.7,747.5 1618.5,742.1 1619.4,741.3 1620.2,746.7 1621.1,746.5 1621.9,744.5 1622.8,745.7 1623.6,743.1 1624.4,740.7 1625.3,747.9 1626.1,742.2 1627,749 1627.8,749.4 1628.7,746.2 1629.5,751.7 1630.4,746.1 1631.2,748.1 1632.1,749 1632.9,747.3 1633.8,748.1 1634.6,750.8 1635.5,749.7 1636.3,749.9 1637.1,747.6 1638,752.6 1638.8,750.3 1639.7,751.5 1640.5,754.4 1641.4,750 1642.2,752 1643.1,752 1643.9,750.9 1644.8,756 1645.6,753.9 1646.5,756.7 1647.3,754.7 1648.2,751.6 1649,757.6 1649.8,757.7 1650.7,753.6 1651.5,757.2 1652.4,755.7 1653.2,750.1 1654.1,753.4 1654.9,756.2 1655.8,757.1 1656.6,757.5 1657.5,756 1658.3,757 1659.2,756.5 1660,755.9 1660.9,758.6 1661.7,756.6 1662.6,757.2 1663.4,756.1 1664.2,753.1 1665.1,754.9 1665.9,758.3 1666.8,756.6 1667.6,762.3 1668.5,753.1 1669.3,756.8 1670.2,758.2 1671,757.2 1671.9,754.9 1672.7,757.1 1673.6,758.5 1674.4,755.6 1675.3,755.8 1676.1,755.7 1676.9,753.6 1677.8,756.8 1678.6,757.1 1679.5,756.5 1680.3,758.7 1681.2,760.3 1682,760.8 1682.9,757.3 1683.7,760.7 1684.6,754.6 1685.4,760.9 1686.3,751.9 1687.1,761.3 1688,761 1688.8,754.2 1689.6,757.3 1690.5,760.1 1691.3,760.4 1692.2,754.5 1693,759.7 1693.9,760.4 1694.7,758.9 1695.6,753.9 1696.4,757.3 1697.3,757.3 1698.1,757.5 1699,756.2 1699.8,756.9 1700.7,754.3 1701.5,754.1 1702.4,760.8 1703.2,758.4 1704,754.4 1704.9,756.8 1705.7,758.2 1706.6,760.8 1707.4,755.7 1708.3,758.8 1709.1,759.4 1710,758.3 1710.8,759.3 1711.7,755.1 1712.5,757.6 1713.4,753.3 1714.2,755.7 1715.1,757.5 1715.9,756.6 1716.7,754.6 1717.6,761.3 1718.4,755.8 1719.3,756.5 1720.1,749.8 1721,755.1 1721.8,754.4 1722.7,752 1723.5,753.3 1724.4,753 1725.2,754.2 1726.1,752.3 1726.9,754.6 1727.8,751.8 1728.6,752.1 1729.4,747.7 1730.3,754.1 1731.1,751.7 1732,749.3 1732.8,746.2 1733.7,746.1 1734.5,749.1 1735.4,746.3 1736.2,746.7 1737.1,744.1 1737.9,740.7 1738.8,744 1739.6,737 1740.5,744.2 1741.3,741.8 1742.1,735.6 1743,737.8 1743.8,733.8 1744.7,727.4 1745.5,728 1746.4,727.8 1747.2,725 1748.1,719.4 1748.9,719.8 1749.8,721.5 1750.6,720.2 1751.5,719.1 1752.3,714.6 1753.2,712.9 1754,714.7 1754.9,712.6 1755.7,714.2 1756.5,716.2 1757.4,716 1758.2,717 1759.1,713.5 1759.9,715.8 1760.8,719 1761.6,719.6 1762.5,727.3 1763.3,721.9 1764.2,730.6 1765,727.2 1765.9,734 1766.7,731.3 1767.6,738.7 1768.4,737.5 1769.2,739.2 1770.1,733.9 1770.9,747.6 1771.8,739.4 1772.6,736.8 1773.5,746.2 1774.3,742.2 1775.2,750.5 1776,745.2 1776.9,748.8 1777.7,746.4 1778.6,750.2 1779.4,748.7 1780.3,748.8 1781.1,746.9 1781.9,749.1 1782.8,749 1783.6,756.4 1784.5,753.4 1785.3,753.3 1786.2,755.9 1787,756.9 1787.9,751.4 1788.7,752.8 1789.6,751.7 1790.4,756.5 1791.3,755.6 1792.1,752.6 1793,753.9 1793.8,757.9 1794.7,757.8 1795.5,756.5 1796.3,754 1797.2,759 1798,757.9 1798.9,756.5 1799.7,755.9 1800.6,753.8 1801.4,758.4 1802.3,760.5 1803.1,756.7 1804,757.4 1804.8,756.1 1805.7,756.8 1806.5,760 1807.4,756.3 1808.2,761.9 1809,762 1809.9,756.7 1810.7,763 1811.6,755.5 1812.4,762.7 1813.3,758.3 1814.1,753.5 1815,759.1 1815.8,760.6 1816.7,756.2 1817.5,759.3 1818.4,755.8 1819.2,759.8 1820.1,759.7 1820.9,762.3 1821.7,754.4 1822.6,757.5 1823.4,756.2 1824.3,761.5 1825.1,757.1 1826,764.2 1826.8,757.7 1827.7,761 1828.5,759.6 1829.4,759.2 1830.2,755.3 1831.1,762 1831.9,759 1832.8,760.8 1833.6,760.9 1834.5,762.5 1835.3,758.1 1836.1,761 1837,753.9 1837.8,761 1838.7,759.1 1839.5,761.3 1840.4,760.5 1841.2,758 1842.1,758.2 1842.9,759.4 1843.8,758.6 1844.6,758 1845.5,758.5 1846.3,763.8 1847.2,761.4 1848,766.2"/>
<polyline fill="none" stroke="#800080" stroke-width="11.8" stroke-linejoin="round" stroke-linecap="butt" points="154.4,624.4 155.2,614.2 156.1,623.4 156.9,626.3 157.8,622.5 158.6,625.1 159.5,619 160.3,614.6 161.2,619.1 162,624.8 162.9,624.7 163.7,619.1 164.6,615.1 165.4,623.9 166.3,617.8 167.1,620.7 167.9,618.7 168.8,620.2 169.6,622 170.5,618 171.3,619.3 172.2,618.4 173,623.9 173.9,612.4 174.7,619.5 175.6,619.3 176.4,618.7 177.3,621.2 178.1,617.1 179,617.6 179.8,616.8 180.7,616.2 181.5,617.8 182.3,618.4 183.2,621.7 184,616 184.9,618 185.7,618.8 186.6,615.5 187.4,618.3 188.3,618.3 189.1,619.2 190,618.6 190.8,620.2 191.7,617.5 192.5,619.1 193.4,621 194.2,617 195,620.1 195.9,614 196.7,617.2 197.6,616 198.4,618.5 199.3,613.5 200.1,616.6 201,622.1 201.8,622.9 202.7,620.9 203.5,616.2 204.4,615.3 205.2,622.9 206.1,615.3 206.9,615.3 207.7,615.6 208.6,618.4 209.4,619.7 210.3,614.6 211.1,617 212,618.1 212.8,619.5 213.7,617.1 214.5,614.8 215.4,613.6 216.2,613.2 217.1,619.3 217.9,610.7 218.8,611.9 219.6,612.6 220.5,614.5 221.3,606.6 222.1,612.4 223,616.8 223.8,616.5 224.7,614.6 225.5,610.6 226.4,610.3 227.2,608.4 228.1,605 228.9,609.6 229.8,610 230.6,606.8 231.5,608.1 232.3,607.4 233.2,611.3 234,607.1 234.8,609.1 235.7,607.5 236.5,609.4 237.4,605.3 238.2,607.7 239.1,612.7 239.9,605.7 240.8,605 241.6,612.8 242.5,607.1 243.3,601.4 244.2,604 245,598.5 245.9,611 246.7,599.5 247.5,604.1 248.4,601.2 249.2,604.9 250.1,602.4 250.9,603.6 251.8,600.4 252.6,597.4 253.5,597.3 254.3,601.4 255.2,602.7 256,600.5 256.9,592.2 257.7,594.9 258.6,593.7 259.4,596.5 260.2,587.4 261.1,593.3 261.9,592.1 262.8,588.6 263.6,585.4 264.5,582.4 265.3,581.4 266.2,582.1 267,582.2 267.9,581.3 268.7,579.7 269.6,582.7 270.4,577.9 271.3,567.2 272.1,567.9 273,560.5 273.8,563.4 274.6,560.8 275.5,552.8 276.3,554.2 277.2,543.4 278,541.4 278.9,539.2 279.7,533.3 280.6,537.8 281.4,528.6 282.3,522.5 283.1,517 284,511.8 284.8,512.8 285.7,503.1 286.5,497.5 287.3,496.9 288.2,480.7 289,476.8 289.9,472 290.7,463.7 291.6,460.1 292.4,452.1 293.3,446 294.1,436.7 295,431.5 295.8,431.7 296.7,410.1 297.5,401.4 298.4,398.1 299.2,391.5 300,386.5 300.9,387 301.7,376 302.6,373.2 303.4,372.1 304.3,363.7 305.1,358.5 306,361.5 306.8,357.4 307.7,357 308.5,363.9 309.4,361.4 310.2,356.9 311.1,351.4 311.9,365.3 312.8,364.8 313.6,368.4 314.4,374.6 315.3,376.4 316.1,383.8 317,388.8 317.8,396.1 318.7,399.6 319.5,400.8 320.4,416.6 321.2,429 322.1,430.5 322.9,434.1 323.8,443 324.6,450.2 325.5,453 326.3,462.5 327.1,471 328,480.4 328.8,481 329.7,494.6 330.5,494.8 331.4,499 332.2,506.2 333.1,514 333.9,518.9 334.8,517.4 335.6,528.3 336.5,529 337.3,537.1 338.2,537.9 339,540.9 339.8,550.1 340.7,551.8 341.5,554.8 342.4,559.7 343.2,563.8 344.1,562.3 344.9,567.2 345.8,567.4 346.6,572.1 347.5,568.1 348.3,576.4 349.2,577.1 350,577.5 350.9,582.4 351.7,583.2 352.6,589.4 353.4,593.5 354.2,582.8 355.1,589.7 355.9,586.6 356.8,591.7 357.6,589.3 358.5,595.2 359.3,597.8 360.2,594.9 361,598.2 361.9,600.1 362.7,594.8 363.6,597.2 364.4,602.3 365.3,602.8 366.1,606.7 366.9,599.3 367.8,605.4 368.6,603.5 369.5,600.6 370.3,608.1 371.2,603.1 372,610.9 372.9,607.9 373.7,604.3 374.6,610 375.4,608.9 376.3,604.7 377.1,602.6 378,605.3 378.8,607.6 379.6,604.1 380.5,608.9 381.3,605.2 382.2,620.6 383,611.5 383.9,603.5 384.7,606.5 385.6,607.2 386.4,607 387.3,603.5 388.1,610.6 389,606.1 389.8,605.9 390.7,613.7 391.5,608.9 392.4,614.9 393.2,610.6 394,610.6 394.9,614.9 395.7,610.9 396.6,610.7 397.4,607.5 398.3,612.5 399.1,612.4 400,613.1 400.8,609 401.7,608.9 402.5,613.3 403.4,613.7 404.2,614.3 405.1,613.9 405.9,613.2 406.7,616.3 407.6,609.7 408.4,610.1 409.3,610.9 410.1,616.6 411,614.8 411.8,612.3 412.7,615.1 413.5,606.7 414.4,612.9 415.2,611.9 416.1,615.1 416.9,614.7 417.8,619.4 418.6,614.7 419.4,613.6 420.3,611.6 421.1,618.6 422,617 422.8,614.2 423.7,612.9 424.5,612.1 425.4,613 426.2,609.5 427.1,614.7 427.9,611.5 428.8,610.3 429.6,607.7 430.5,608.3 431.3,611.1 432.2,614.8 433,619.6 433.8,614.3 434.7,611.4 435.5,609.5 436.4,611.4 437.2,615.4 438.1,609.2 438.9,614.7 439.8,613.9 440.6,615.2 441.5,613.9 442.3,608.2 443.2,613.6 444,617.5 444.9,609.9 445.7,616.2 446.5,615.7 447.4,610 448.2,605.9 449.1,606.3 449.9,612 450.8,607.8 451.6,606.6 452.5,601.7 453.3,607.4 454.2,610.3 455,609.5 455.9,603.3 456.7,608.5 457.6,607.9 458.4,602.9 459.2,608.9 460.1,605.5 460.9,612.4 461.8,604.9 462.6,602.7 463.5,604.6 464.3,606.9 465.2,606.5 466,599.9 466.9,609 467.7,601.3 468.6,599.4 469.4,603 470.3,598.4 471.1,595.5 471.9,594.8 472.8,593.3 473.6,595.8 474.5,591.8 475.3,589.1 476.2,592.9 477,581.4 477.9,584.4 478.7,583.4 479.6,582.2 480.4,581 481.3,581.6 482.1,578 483,580.4 483.8,578.8 484.7,575.5 485.5,569.4 486.3,574.6 487.2,571.9 488,561.7 488.9,566.9 489.7,562.7 490.6,564.2 491.4,553.2 492.3,555.7 493.1,549.8 494,555.5 494.8,549.2 495.7,546.3 496.5,541.6 497.4,540.7 498.2,544.7 499,549 499.9,542.5 500.7,541.2 501.6,544.5 502.4,547 503.3,544.5 504.1,547.2 505,549.7 505.8,546.6 506.7,546.2 507.5,554.4 508.4,554.8 509.2,554 510.1,557.3 510.9,558.4 511.7,562.1 512.6,560.7 513.4,571.5 514.3,569.3 515.1,569.5 516,576.5 516.8,570.5 517.7,579.6 518.5,583.2 519.4,583.2 520.2,582.6 521.1,581.9 521.9,583.3 522.8,587.4 523.6,592.4 524.5,590.7 525.3,590.3 526.1,592.6 527,594.9 527.8,598.2 528.7,600 529.5,593.4 530.4,599.3 531.2,600 532.1,602.4 532.9,598.8 533.8,604.6 534.6,600.9 535.5,603.9 536.3,608.5 537.2,601.9 538,604.3 538.8,603.9 539.7,604.8 540.5,602.5 541.4,601.4 542.2,606.1 543.1,609.6 543.9,608.2 544.8,612.8 545.6,614.4 546.5,613.5 547.3,611.4 548.2,608.8 549,610.7 549.9,614.3 550.7,608.3 551.5,605 552.4,611.2 553.2,607.8 554.1,608.5 554.9,614.5 555.8,613.4 556.6,616.3 557.5,610.1 558.3,615.3 559.2,609.8 560,613.4 560.9,610.8 561.7,614.4 562.6,613.4 563.4,616 564.3,617 565.1,610.6 565.9,622.5 566.8,615.7 567.6,609 568.5,619.7 569.3,612 570.2,622.5 571,612.6 571.9,614.1 572.7,621.8 573.6,612.9 574.4,614.5 575.3,613.7 576.1,616.9 577,618.4 577.8,620.2 578.6,612.5 579.5,611.1 580.3,614.1 581.2,616.9 582,616.1 582.9,618.5 583.7,610.7 584.6,616.9 585.4,612.3 586.3,615.2 587.1,619.2 588,615.6 588.8,612.9 589.7,621 590.5,620.8 591.3,613.6 592.2,619.2 593,615.5 593.9,616.4 594.7,619.8 595.6,613.2 596.4,616 597.3,619.5 598.1,620.3 599,618.7 599.8,619.2 600.7,618.2 601.5,618.4 602.4,614.3 603.2,618.1 604.1,621 604.9,611.8 605.7,615.8 606.6,616.1 607.4,619.5 608.3,616.7 609.1,615.7 610,615.7 610.8,615.2 611.7,617.9 612.5,620.7 613.4,610.1 614.2,618 615.1,616.1 615.9,621 616.8,615.8 617.6,611.5 618.4,614.5 619.3,615.8 620.1,614.9 621,611.7 621.8,614.4 622.7,621.6 623.5,619.6 624.4,614 625.2,618.3 626.1,615.5 626.9,612.8 627.8,616.9 628.6,606.9 629.5,616.6 630.3,608 631.1,612.4 632,614.2 632.8,614.8 633.7,617.1 634.5,620.3 635.4,609.1 636.2,605.1 637.1,610.4 637.9,608.1 638.8,608.8 639.6,616.2 640.5,606.8 641.3,602.4 642.2,608 643,602.3 643.9,605.7 644.7,610.7 645.5,606.9 646.4,599.6 647.2,602.1 648.1,605.9 648.9,596.8 649.8,602.6 650.6,599.6 651.5,594.8 652.3,596.8 653.2,589.3 654,593.3 654.9,589.7 655.7,590.9 656.6,580.1 657.4,579.9 658.2,578.3 659.1,571.4 659.9,574 660.8,564.6 661.6,559.6 662.5,562.2 663.3,553.4 664.2,551.4 665,538.2 665.9,536.1 666.7,532.4 667.6,521.4 668.4,517.7 669.3,517.3 670.1,518.1 670.9,514 671.8,509.1 672.6,512.3 673.5,514.9 674.3,513.9 675.2,515.9 676,524.5 676.9,533.3 677.7,539.3 678.6,539.7 679.4,546.2 680.3,550.5 681.1,552.9 682,558.8 682.8,565 683.6,565.3 684.5,575.6 685.3,570.7 686.2,573.9 687,586.9 687.9,582.1 688.7,594.2 689.6,595.5 690.4,590.2 691.3,600.8 692.1,596.8 693,602.4 693.8,597.7 694.7,598.5 695.5,605.5 696.4,601.3 697.2,599 698,605.7 698.9,603.4 699.7,605.1 700.6,606.2 701.4,606.8 702.3,608.8 703.1,606 704,608.6 704.8,608 705.7,612.7 706.5,610.1 707.4,616 708.2,614.1 709.1,617.5 709.9,613.5 710.7,607.2 711.6,619 712.4,611.9 713.3,609.1 714.1,617.1 715,613 715.8,616.8 716.7,616 717.5,617.4 718.4,609.2 719.2,613.4 720.1,611.6 720.9,613.9 721.8,618.9 722.6,611.1 723.4,618.4 724.3,617.1 725.1,616 726,622.4 726.8,617.1 727.7,620 728.5,614 729.4,615.1 730.2,614 731.1,617.2 731.9,614 732.8,613.7 733.6,619 734.5,618.6 735.3,614.1 736.2,617.4 737,617.5 737.8,614.5 738.7,623.1 739.5,618.7 740.4,617.4 741.2,614 742.1,624.7 742.9,613.5 743.8,618.8 744.6,623.1 745.5,618.7 746.3,615.2 747.2,619.8 748,612.7 748.9,618.9 749.7,617.8 750.5,618.7 751.4,614.5 752.2,618.4 753.1,618.5 753.9,620.5 754.8,623.3 755.6,622.9 756.5,612.7 757.3,619 758.2,620.6 759,619 759.9,618.8 760.7,619.9 761.6,618.6 762.4,619.8 763.2,619.7 764.1,619.4 764.9,621.6 765.8,618.1 766.6,624 767.5,617.1 768.3,618.9 769.2,612.6 770,614.2 770.9,615.1 771.7,618.8 772.6,622.1 773.4,620.5 774.3,618.1 775.1,619.9 776,615.9 776.8,616.5 777.6,620 778.5,620 779.3,619.5 780.2,618.1 781,622.7 781.9,619.8 782.7,619.4 783.6,621.4 784.4,615.1 785.3,620.2 786.1,623.8 787,619 787.8,620.4 788.7,621 789.5,616.4 790.3,619.5 791.2,617.9 792,622.9 792.9,619.9 793.7,618.6 794.6,620.9 795.4,626.4 796.3,620 797.1,619.6 798,618.8 798.8,622 799.7,617.6 800.5,617.4 801.4,620.7 802.2,622 803,621.2 803.9,616.1 804.7,621.2 805.6,620.8 806.4,628.6 807.3,620.1 808.1,621.5 809,619.9 809.8,618.9 810.7,619.6 811.5,619.5 812.4,620.4 813.2,614.3 814.1,620.1 814.9,623 815.8,618.1 816.6,617 817.4,623.3 818.3,617.5 819.1,614.7 820,617.8 820.8,622.1 821.7,622.4 822.5,617.2 823.4,618.5 824.2,619.2 825.1,620.2 825.9,617.8 826.8,613.6 827.6,623.4 828.5,615.6 829.3,622.2 830.1,616.4 831,617.8 831.8,625.6 832.7,620.8 833.5,615.7 834.4,619.6 835.2,624.1 836.1,614.6 836.9,616.2 837.8,623 838.6,624.8 839.5,615.2 840.3,616.2 841.2,618.5 842,621.9 842.8,615.1 843.7,622.5 844.5,621 845.4,618.6 846.2,615.3 847.1,616.4 847.9,617.6 848.8,623.2 849.6,618.4 850.5,621.9 851.3,618.9 852.2,620.4 853,615.9 853.9,622.2 854.7,615.4 855.6,621.7 856.4,616.4 857.2,613.8 858.1,623.1 858.9,617.6 859.8,618.3 860.6,621.7 861.5,615.6 862.3,622.4 863.2,615.6 864,617.3 864.9,619.6 865.7,613.7 866.6,617.9 867.4,616 868.3,617.8 869.1,613.6 869.9,615.8 870.8,614.3 871.6,615.6 872.5,613.9 873.3,611.8 874.2,614.8 875,610 875.9,618.2 876.7,615.9 877.6,615.3 878.4,618.1 879.3,612.9 880.1,612.7 881,612.2 881.8,612.1 882.6,611.3 883.5,616.5 884.3,614 885.2,607.1 886,606.4 886.9,612.1 887.7,611.5 888.6,608.2 889.4,606.2 890.3,609.6 891.1,612.5 892,603.3 892.8,605.8 893.7,606.2 894.5,608.3 895.3,608.6 896.2,601.9 897,603.6 897.9,600.8 898.7,604 899.6,607.4 900.4,602 901.3,594.5 902.1,599.4 903,595.5 903.8,589.1 904.7,588 905.5,586.1 906.4,588.3 907.2,589 908.1,577.6 908.9,580.7 909.7,576.5 910.6,578.3 911.4,567.4 912.3,562.8 913.1,562 914,552.5 914.8,541.9 915.7,541.6 916.5,533.8 917.4,522.4 918.2,520.1 919.1,506 919.9,501.1 920.8,491 921.6,481.4 922.4,474.8 923.3,471.9 924.1,456.2 925,449.9 925.8,444.4 926.7,443.1 927.5,441.7 928.4,436.5 929.2,432.4 930.1,433.9 930.9,438.9 931.8,454.3 932.6,455.5 933.5,462.4 934.3,477.7 935.1,486.3 936,490.9 936.8,497 937.7,511.9 938.5,515.2 939.4,526.3 940.2,529.9 941.1,542.5 941.9,545.8 942.8,550 943.6,558.8 944.5,568.4 945.3,561.2 946.2,568.4 947,567.8 947.9,576.2 948.7,581.2 949.5,580.6 950.4,586.4 951.2,585.5 952.1,594.7 952.9,595.4 953.8,597.1 954.6,595.4 955.5,595.8 956.3,601.3 957.2,599.7 958,601.9 958.9,603.1 959.7,599.6 960.6,600.9 961.4,607.2 962.2,602.7 963.1,606.1 963.9,605.6 964.8,605.4 965.6,603.1 966.5,606.2 967.3,607.7 968.2,604.4 969,610.3 969.9,605.7 970.7,603.4 971.6,605.3 972.4,608 973.3,606.3 974.1,607.7 974.9,610.5 975.8,612.7 976.6,617.9 977.5,614 978.3,613.2 979.2,615.5 980,609.2 980.9,616.3 981.7,611 982.6,605.9 983.4,613.3 984.3,608.7 985.1,614.7 986,605.6 986.8,609.7 987.7,610.7 988.5,610.6 989.3,613.2 990.2,616.8 991,614.3 991.9,612.2 992.7,617.4 993.6,614.6 994.4,613 995.3,606.9 996.1,619.7 997,609.6 997.8,611.6 998.7,613.2 999.5,619 1000.4,613.4 1001.2,610.7 1002,620.5 1002.9,611.7 1003.7,614.1 1004.6,611.9 1005.4,608 1006.3,617 1007.1,613.3 1008,612.9 1008.8,614.3 1009.7,621.1 1010.5,611.1 1011.4,618 1012.2,616.7 1013.1,614.4 1013.9,613.3 1014.7,614.4 1015.6,611.2 1016.4,610.5 1017.3,612.9 1018.1,617.4 1019,615.3 1019.8,612 1020.7,613 1021.5,612.3 1022.4,619.9 1023.2,615.7 1024.1,621.2 1024.9,616 1025.8,607.8 1026.6,618.9 1027.5,613.4 1028.3,611 1029.1,614.8 1030,617.5 1030.8,611.1 1031.7,610.5 1032.5,614.1 1033.4,611.5 1034.2,607.2 1035.1,610.1 1035.9,610.7 1036.8,607.2 1037.6,609.1 1038.5,605.1 1039.3,604.8 1040.2,612.4 1041,612.3 1041.8,604.2 1042.7,608.5 1043.5,607.5 1044.4,612.3 1045.2,608.6 1046.1,609.1 1046.9,614.2 1047.8,614.2 1048.6,605.4 1049.5,602.1 1050.3,611.7 1051.2,606.4 1052,606.8 1052.9,602.4 1053.7,609.8 1054.5,608.8 1055.4,605.4 1056.2,607.6 1057.1,605 1057.9,605 1058.8,598.4 1059.6,602 1060.5,607.6 1061.3,603.8 1062.2,604.6 1063,601.7 1063.9,601.2 1064.7,598.5 1065.6,597.3 1066.4,599.3 1067.3,599.1 1068.1,589.6 1068.9,594.6 1069.8,590.3 1070.6,589.1 1071.5,589.6 1072.3,591.7 1073.2,584.3 1074,583.6 1074.9,594 1075.7,584.5 1076.6,584 1077.4,584 1078.3,583.9 1079.1,578.5 1080,575.7 1080.8,572.9 1081.6,574.6 1082.5,574.9 1083.3,567.3 1084.2,568 1085,569.9 1085.9,557.6 1086.7,556 1087.6,556.7 1088.4,557.6 1089.3,555 1090.1,555.6 1091,551.1 1091.8,548.6 1092.7,536.3 1093.5,538.8 1094.3,537.3 1095.2,533.6 1096,535.9 1096.9,528.4 1097.7,524.2 1098.6,522 1099.4,521 1100.3,516.7 1101.1,516.4 1102,512.4 1102.8,514.3 1103.7,514.4 1104.5,502.4 1105.4,503.4 1106.2,503.3 1107,502.5 1107.9,504.3 1108.7,501.3 1109.6,506.1 1110.4,501.2 1111.3,502.6 1112.1,503 1113,498.3 1113.8,497.5 1114.7,500.1 1115.5,500.4 1116.4,501.3 1117.2,502.8 1118.1,513.1 1118.9,510.9 1119.8,507.5 1120.6,512.7 1121.4,511.6 1122.3,511.8 1123.1,515.5 1124,526.2 1124.8,524.5 1125.7,527.9 1126.5,530.6 1127.4,528.8 1128.2,529 1129.1,535 1129.9,541.2 1130.8,542.8 1131.6,547.1 1132.5,550.8 1133.3,551.9 1134.1,549.8 1135,560.6 1135.8,561.6 1136.7,561.5 1137.5,562.7 1138.4,568.2 1139.2,564.7 1140.1,567.1 1140.9,568.5 1141.8,574.2 1142.6,574 1143.5,576.7 1144.3,581.6 1145.2,581.8 1146,584.1 1146.8,587.2 1147.7,584.7 1148.5,584.7 1149.4,587.4 1150.2,589.4 1151.1,591.5 1151.9,589.1 1152.8,592.6 1153.6,590.9 1154.5,595.1 1155.3,600 1156.2,595 1157,596.1 1157.9,596.1 1158.7,599.2 1159.6,602.6 1160.4,601.6 1161.2,604.6 1162.1,602.6 1162.9,598.1 1163.8,605.3 1164.6,605 1165.5,604 1166.3,604.9 1167.2,604 1168,603.4 1168.9,611.7 1169.7,605.4 1170.6,603.7 1171.4,607.6 1172.3,615.1 1173.1,611.5 1173.9,612.1 1174.8,615.6 1175.6,614.3 1176.5,612 1177.3,614.8 1178.2,617 1179,610.2 1179.9,606.8 1180.7,614.7 1181.6,613.4 1182.4,613.2 1183.3,611.5 1184.1,613.7 1185,611.7 1185.8,612.9 1186.6,613.9 1187.5,616.6 1188.3,617.1 1189.2,615.4 1190,614.7 1190.9,612.1 1191.7,620.8 1192.6,609.2 1193.4,618.4 1194.3,620.6 1195.1,611.9 1196,615.1 1196.8,615.2 1197.7,619.5 1198.5,615 1199.4,608.4 1200.2,614.3 1201,615.1 1201.9,613.7 1202.7,615.9 1203.6,611.8 1204.4,618 1205.3,610.7 1206.1,615.1 1207,616.6 1207.8,610.7 1208.7,620.6 1209.5,619.6 1210.4,616.4 1211.2,612.8 1212.1,615.9 1212.9,612.7 1213.7,610.8 1214.6,618.2 1215.4,618.4 1216.3,618.3 1217.1,610.8 1218,614.2 1218.8,622.7 1219.7,616.6 1220.5,616.6 1221.4,623.3 1222.2,619.6 1223.1,615.2 1223.9,616.2 1224.8,620 1225.6,618.1 1226.4,613.8 1227.3,623.9 1228.1,620.3 1229,614.6 1229.8,614.5 1230.7,621.9 1231.5,612.6 1232.4,621.7 1233.2,622.1 1234.1,620.6 1234.9,624.4 1235.8,620.8 1236.6,620.7 1237.5,619.4 1238.3,615.5 1239.2,616.8 1240,617.8 1240.8,617.9 1241.7,617.5 1242.5,618.2 1243.4,618.7 1244.2,620.6 1245.1,618.1 1245.9,625.7 1246.8,618.1 1247.6,620.6 1248.5,614.9 1249.3,616.3 1250.2,618.2 1251,615.1 1251.9,621 1252.7,620.6 1253.5,621.9 1254.4,615.6 1255.2,621.6 1256.1,621.1 1256.9,614.8 1257.8,621.2 1258.6,623.9 1259.5,617 1260.3,620.1 1261.2,620.3 1262,619.5 1262.9,617 1263.7,619.7 1264.6,623.7 1265.4,619.8 1266.2,614.1 1267.1,616.2 1267.9,622.1 1268.8,619.5 1269.6,620.3 1270.5,614.3 1271.3,624.1 1272.2,625.7 1273,615.7 1273.9,622.5 1274.7,618 1275.6,623.4 1276.4,617.7 1277.3,621.9 1278.1,621.4 1279,620.2 1279.8,621.7 1280.6,621.4 1281.5,621.3 1282.3,617.3 1283.2,624.1 1284,619 1284.9,617.5 1285.7,618.9 1286.6,623.3 1287.4,621.5 1288.3,615.8 1289.1,616 1290,618 1290.8,616.2 1291.7,621.5 1292.5,622.8 1293.3,620.4 1294.2,619.1 1295,616.2 1295.9,622.8 1296.7,622.3 1297.6,614.6 1298.4,621.5 1299.3,618.3 1300.1,613.8 1301,622.3 1301.8,620.9 1302.7,625.8 1303.5,625.3 1304.4,623.2 1305.2,621.7 1306,617.5 1306.9,618.4 1307.7,619.6 1308.6,620.8 1309.4,618 1310.3,622.8 1311.1,617.4 1312,618.2 1312.8,623.1 1313.7,616.1 1314.5,618.6 1315.4,621.5 1316.2,618.7 1317.1,618.6 1317.9,622.4 1318.7,624.5 1319.6,620.7 1320.4,621.3 1321.3,616.5 1322.1,616.1 1323,617.5 1323.8,623.6 1324.7,622.5 1325.5,625.6 1326.4,622.9 1327.2,618.8 1328.1,618.4 1328.9,616.8 1329.8,623.9 1330.6,621 1331.5,623.2 1332.3,615.4 1333.1,617.3 1334,621.7 1334.8,619.3 1335.7,623.4 1336.5,617.1 1337.4,621.2 1338.2,622.9 1339.1,616.2 1339.9,623.9 1340.8,618.1 1341.6,621.7 1342.5,614.4 1343.3,613.4 1344.2,618.2 1345,618 1345.8,616.2 1346.7,616.6 1347.5,616.5 1348.4,613.1 1349.2,618.2 1350.1,621.1 1350.9,626.7 1351.8,624.5 1352.6,624.7 1353.5,619.3 1354.3,622.9 1355.2,623.8 1356,621.9 1356.9,615.7 1357.7,619.1 1358.5,622.4 1359.4,621.4 1360.2,623.8 1361.1,619.8 1361.9,625.2 1362.8,619.5 1363.6,614.7 1364.5,616 1365.3,618.4 1366.2,619.2 1367,621.6 1367.9,620.7 1368.7,620.2 1369.6,616.6 1370.4,619.5 1371.3,614.5 1372.1,619.2 1372.9,621.8 1373.8,623.2 1374.6,615.5 1375.5,616.6 1376.3,618.4 1377.2,624.4 1378,625 1378.9,616.8 1379.7,626 1380.6,617 1381.4,618.2 1382.3,619.2 1383.1,619.9 1384,627 1384.8,615 1385.6,621.7 1386.5,619.5 1387.3,619.1 1388.2,615.9 1389,620 1389.9,620.2 1390.7,615.6 1391.6,624.2 1392.4,618.1 1393.3,620.7 1394.1,618.9 1395,619 1395.8,623.5 1396.7,619.6 1397.5,620.6 1398.3,618.7 1399.2,616.1 1400,619.1 1400.9,615 1401.7,619.6 1402.6,617.2 1403.4,610.5 1404.3,618.1 1405.1,619.2 1406,615.9 1406.8,617 1407.7,615.7 1408.5,612.5 1409.4,620.3 1410.2,622.2 1411.1,613.3 1411.9,621.7 1412.7,619.1 1413.6,614.7 1414.4,613.6 1415.3,617.9 1416.1,619.3 1417,616.8 1417.8,618.8 1418.7,610.9 1419.5,618.9 1420.4,615.4 1421.2,617.7 1422.1,619.8 1422.9,610.5 1423.8,613.1 1424.6,617.1 1425.4,614.8 1426.3,614.7 1427.1,610.2 1428,610.6 1428.8,608.2 1429.7,616.7 1430.5,609.8 1431.4,610.4 1432.2,612 1433.1,609.4 1433.9,605.2 1434.8,617.6 1435.6,609.3 1436.5,606.4 1437.3,608.1 1438.1,607.5 1439,607.5 1439.8,606.4 1440.7,611.8 1441.5,599.7 1442.4,598.9 1443.2,603.8 1444.1,602.4 1444.9,602.9 1445.8,593.4 1446.6,603.1 1447.5,594.3 1448.3,593 1449.2,600.3 1450,591.4 1450.9,591.1 1451.7,596.7 1452.5,598 1453.4,589.2 1454.2,589.3 1455.1,584.3 1455.9,585 1456.8,585.5 1457.6,582.4 1458.5,577.8 1459.3,570.3 1460.2,579.2 1461,576.7 1461.9,579.6 1462.7,567.1 1463.6,571.6 1464.4,573.9 1465.2,566.4 1466.1,563.4 1466.9,566.1 1467.8,562.3 1468.6,555.3 1469.5,561.4 1470.3,560.9 1471.2,555.6 1472,552.6 1472.9,550.8 1473.7,550.1 1474.6,544.6 1475.4,550.4 1476.3,546.1 1477.1,540.8 1477.9,537.5 1478.8,538.9 1479.6,534.6 1480.5,532.9 1481.3,534.7 1482.2,533.8 1483,530.6 1483.9,534.4 1484.7,526.9 1485.6,530.6 1486.4,530 1487.3,532.9 1488.1,527.5 1489,533.1 1489.8,529.4 1490.7,532.1 1491.5,531.7 1492.3,530.9 1493.2,529.6 1494,535.5 1494.9,533.9 1495.7,534.7 1496.6,538.2 1497.4,541.6 1498.3,542.8 1499.1,547 1500,545.2 1500.8,548.4 1501.7,551 1502.5,551.9 1503.4,549.6 1504.2,554 1505,556.3 1505.9,553.2 1506.7,559.5 1507.6,558.6 1508.4,563.5 1509.3,562.3 1510.1,563.3 1511,568.3 1511.8,568.6 1512.7,573.7 1513.5,571.8 1514.4,578.6 1515.2,580.7 1516.1,583.3 1516.9,578.1 1517.7,582.9 1518.6,581.9 1519.4,583.4 1520.3,591.8 1521.1,590 1522,587.6 1522.8,591.8 1523.7,588.1 1524.5,594.1 1525.4,589.1 1526.2,592.9 1527.1,592.6 1527.9,592.6 1528.8,590.8 1529.6,605.3 1530.4,601 1531.3,601.4 1532.1,597.9 1533,602.4 1533.8,604.6 1534.7,602.9 1535.5,609.5 1536.4,604.5 1537.2,603.2 1538.1,607.9 1538.9,609.2 1539.8,607.6 1540.6,613.5 1541.5,606.4 1542.3,606.8 1543.2,608.7 1544,614.4 1544.8,607 1545.7,613.8 1546.5,614.6 1547.4,612.4 1548.2,612.3 1549.1,610.5 1549.9,610.5 1550.8,612 1551.6,608.7 1552.5,618.1 1553.3,612.4 1554.2,607.8 1555,615.4 1555.9,615.9 1556.7,610 1557.5,610.4 1558.4,613.5 1559.2,609 1560.1,613.2 1560.9,613.7 1561.8,608.7 1562.6,614.6 1563.5,613.8 1564.3,611.1 1565.2,608.8 1566,613 1566.9,611.3 1567.7,608.4 1568.6,608.6 1569.4,610.9 1570.2,611.3 1571.1,608.8 1571.9,613 1572.8,609.2 1573.6,607.9 1574.5,613.5 1575.3,606.6 1576.2,605.3 1577,617.5 1577.9,612 1578.7,609.1 1579.6,617.9 1580.4,610.9 1581.3,610.6 1582.1,611.7 1583,611.1 1583.8,607.4 1584.6,610.9 1585.5,609.8 1586.3,605.1 1587.2,604.7 1588,611.1 1588.9,603.2 1589.7,607.9 1590.6,608.4 1591.4,601.7 1592.3,606.3 1593.1,604.7 1594,608.9 1594.8,609.1 1595.7,605.7 1596.5,611.6 1597.3,606 1598.2,611.6 1599,603.4 1599.9,605.6 1600.7,608 1601.6,607.1 1602.4,610.2 1603.3,604.5 1604.1,600.6 1605,608 1605.8,609 1606.7,603.7 1607.5,609.2 1608.4,612.7 1609.2,609.8 1610,609 1610.9,607 1611.7,607.5 1612.6,608.2 1613.4,605.1 1614.3,609.1 1615.1,614.3 1616,608.3 1616.8,614.8 1617.7,613.5 1618.5,605.7 1619.4,610.3 1620.2,610.9 1621.1,613.2 1621.9,615.4 1622.8,608.6 1623.6,610.5 1624.4,613.1 1625.3,609.3 1626.1,611.6 1627,614.7 1627.8,613.1 1628.7,617.7 1629.5,615.1 1630.4,610.6 1631.2,616.6 1632.1,616.6 1632.9,609.5 1633.8,614.2 1634.6,613.5 1635.5,612.9 1636.3,616.2 1637.1,615.5 1638,610.6 1638.8,620.1 1639.7,616.8 1640.5,616.1 1641.4,621.2 1642.2,613.1 1643.1,612.8 1643.9,616.6 1644.8,619.4 1645.6,617.4 1646.5,618.2 1647.3,615.3 1648.2,617.1 1649,619.7 1649.8,617.8 1650.7,617.9 1651.5,618.2 1652.4,615.8 1653.2,621 1654.1,622.1 1654.9,619.3 1655.8,614.9 1656.6,609.7 1657.5,615.3 1658.3,618 1659.2,617.6 1660,623.6 1660.9,617.5 1661.7,624.9 1662.6,618.2 1663.4,620.6 1664.2,619.9 1665.1,615.7 1665.9,617 1666.8,616.7 1667.6,621.8 1668.5,614.8 1669.3,624.9 1670.2,620.2 1671,619.4 1671.9,622.6 1672.7,622.1 1673.6,620.4 1674.4,620 1675.3,622.7 1676.1,614.4 1676.9,620.5 1677.8,619.9 1678.6,620.9 1679.5,622.3 1680.3,619.3 1681.2,619.4 1682,619.9 1682.9,622.9 1683.7,618 1684.6,622.8 1685.4,621.1 1686.3,622.2 1687.1,621.5 1688,616.3 1688.8,615.2 1689.6,620.5 1690.5,620 1691.3,622.2 1692.2,618 1693,620.2 1693.9,622 1694.7,613.4 1695.6,614.5 1696.4,616.9 1697.3,620.5 1698.1,621.3 1699,615.5 1699.8,624.3 1700.7,620.2 1701.5,619.3 1702.4,617.6 1703.2,619.5 1704,620.9 1704.9,622.8 1705.7,618.3 1706.6,617.8 1707.4,618.7 1708.3,616.5 1709.1,622.9 1710,615.1 1710.8,618.9 1711.7,618.1 1712.5,616.5 1713.4,618 1714.2,621.3 1715.1,616 1715.9,617.6 1716.7,614.1 1717.6,617.2 1718.4,620.1 1719.3,616.2 1720.1,618.1 1721,611.7 1721.8,615 1722.7,614.2 1723.5,620.8 1724.4,609.2 1725.2,610.1 1726.1,614.9 1726.9,609.7 1727.8,619.7 1728.6,609.3 1729.4,609 1730.3,605.6 1731.1,611.1 1732,610.2 1732.8,613.1 1733.7,603.9 1734.5,601.4 1735.4,613.3 1736.2,613.7 1737.1,599.1 1737.9,602.7 1738.8,601.1 1739.6,602.3 1740.5,600.4 1741.3,592 1742.1,591.5 1743,592.5 1743.8,590.7 1744.7,589.5 1745.5,586.6 1746.4,584.1 1747.2,587.7 1748.1,581.4 1748.9,573.3 1749.8,570 1750.6,571.5 1751.5,565.2 1752.3,567.6 1753.2,556.2 1754,556.9 1754.9,550 1755.7,547.1 1756.5,548.4 1757.4,545.2 1758.2,552.7 1759.1,549.3 1759.9,551.7 1760.8,550.7 1761.6,551.7 1762.5,553.6 1763.3,559.2 1764.2,557.9 1765,563 1765.9,563 1766.7,571.4 1767.6,568.8 1768.4,573.8 1769.2,576.9 1770.1,578.4 1770.9,585 1771.8,589.9 1772.6,588.4 1773.5,589.4 1774.3,597.2 1775.2,595.7 1776,592.6 1776.9,598.7 1777.7,603.1 1778.6,605.2 1779.4,601.5 1780.3,611.4 1781.1,607.1 1781.9,608.5 1782.8,610.2 1783.6,614.3 1784.5,610.7 1785.3,613.5 1786.2,615.7 1787,612.8 1787.9,614 1788.7,616.5 1789.6,611 1790.4,610.5 1791.3,615.9 1792.1,611.7 1793,616.2 1793.8,619.5 1794.7,618 1795.5,617.9 1796.3,620.4 1797.2,618.7 1798,618 1798.9,616.1 1799.7,614.5 1800.6,618.6 1801.4,618.2 1802.3,616.3 1803.1,622.6 1804,612.8 1804.8,617.9 1805.7,620.7 1806.5,621.7 1807.4,614.3 1808.2,618.6 1809,619.1 1809.9,619.8 1810.7,614.8 1811.6,610.2 1812.4,622 1813.3,621 1814.1,621.7 1815,617.4 1815.8,623.3 1816.7,617.4 1817.5,620 1818.4,615.8 1819.2,621.6 1820.1,617.2 1820.9,618.1 1821.7,620.9 1822.6,618.5 1823.4,618.1 1824.3,623.3 1825.1,617.3 1826,614.3 1826.8,621.3 1827.7,619.9 1828.5,623.3 1829.4,619.5 1830.2,627.1 1831.1,626.9 1831.9,620.4 1832.8,621.2 1833.6,628.4 1834.5,614.6 1835.3,625.4 1836.1,619.8 1837,625.5 1837.8,624.2 1838.7,629.5 1839.5,623.4 1840.4,623.8 1841.2,615 1842.1,620 1842.9,622.9 1843.8,621.4 1844.6,621.8 1845.5,623.4 1846.3,618.5 1847.2,623.7 1848,625.7"/>
<line x1="305.4" y1="299.7" x2="305.4" y2="1585.4" stroke="#000" stroke-width="11" stroke-linecap="round" stroke-dasharray="7 46.93"/>
<line x1="497.7" y1="498.2" x2="497.7" y2="1585.4" stroke="#000" stroke-width="11" stroke-linecap="round" stroke-dasharray="7 46.93"/>
<line x1="1107.0" y1="456.5" x2="1107.0" y2="1585.4" stroke="#000" stroke-width="11" stroke-linecap="round" stroke-dasharray="7 46.93"/>
<line x1="1481.6" y1="494.2" x2="1481.6" y2="1585.4" stroke="#000" stroke-width="11" stroke-linecap="round" stroke-dasharray="7 46.93"/>
<rect x="291.8" y="264.6" width="35.0" height="35.0" fill="#000"/>
<rect x="483.9" y="462.7" width="35.0" height="35.0" fill="#000"/>
<rect x="1093.0" y="421.7" width="35.0" height="35.0" fill="#000"/>
<rect x="1464.9" y="456.9" width="35.0" height="35.0" fill="#000"/>
<rect x="975.8" y="131.4" width="35.5" height="35.5" fill="#000"/>
<circle cx="676.1" cy="472.5" r="20.8" fill="#000"/>
<circle cx="931.9" cy="399.5" r="20.8" fill="#000"/>
<circle cx="1762.1" cy="514.5" r="20.8" fill="#000"/>
<circle cx="1442.8" cy="151.3" r="20.8" fill="#000"/>
<text transform="translate(154.80,1698.50) scale(0.969,1.000)" x="0" y="0" font-family="Liberation Serif, Times New Roman, serif" font-size="90.5" text-anchor="middle" >25</text>
<text transform="translate(366.50,1698.50) scale(0.969,1.000)" x="0" y="0" font-family="Liberation Serif, Times New Roman, serif" font-size="90.5" text-anchor="middle" >30</text>
<text transform="translate(578.20,1698.50) scale(0.969,1.000)" x="0" y="0" font-family="Liberation Serif, Times New Roman, serif" font-size="90.5" text-anchor="middle" >35</text>
<text transform="translate(789.90,1698.50) scale(0.969,1.000)" x="0" y="0" font-family="Liberation Serif, Times New Roman, serif" font-size="90.5" text-anchor="middle" >40</text>
<text transform="translate(1001.60,1698.50) scale(0.969,1.000)" x="0" y="0" font-family="Liberation Serif, Times New Roman, serif" font-size="90.5" text-anchor="middle" >45</text>
<text transform="translate(1213.30,1698.50) scale(0.969,1.000)" x="0" y="0" font-family="Liberation Serif, Times New Roman, serif" font-size="90.5" text-anchor="middle" >50</text>
<text transform="translate(1425.00,1698.50) scale(0.969,1.000)" x="0" y="0" font-family="Liberation Serif, Times New Roman, serif" font-size="90.5" text-anchor="middle" >55</text>
<text transform="translate(1636.70,1698.50) scale(0.969,1.000)" x="0" y="0" font-family="Liberation Serif, Times New Roman, serif" font-size="90.5" text-anchor="middle" >60</text>
<text transform="translate(1848.40,1698.50) scale(0.969,1.000)" x="0" y="0" font-family="Liberation Serif, Times New Roman, serif" font-size="90.5" text-anchor="middle" >65</text>
<text transform="translate(1067.18,175.80) scale(0.956,1.000)" x="0" y="0" font-family="Liberation Serif, Times New Roman, serif" font-size="90.5" text-anchor="start" >CeO</text>
<text transform="translate(1220.72,210.00) scale(1.139,1.000)" x="0" y="0" font-family="Liberation Serif, Times New Roman, serif" font-size="50.4" text-anchor="start" >2</text>
<text transform="translate(1494.76,178.70) scale(0.981,1.000)" x="0" y="0" font-family="Liberation Serif, Times New Roman, serif" font-size="90.5" text-anchor="start" >NiO</text>
<text transform="translate(91,1143.94) rotate(-90) scale(0.981,1)" x="0" y="0" font-family="Liberation Serif, Times New Roman, serif" font-size="90.5">Intensity (a.u.)</text>
<text transform="translate(790.54,1806.00) scale(1.089,1.000)" x="0" y="0" font-family="Liberation Serif, Times New Roman, serif" font-size="90.5" text-anchor="start" >2</text>
<text transform="translate(840.35,1806.80) scale(1.087,0.860)" x="0" y="0" font-family="Liberation Serif, Times New Roman, serif" font-size="90.5" text-anchor="start" font-style="italic">&#952;</text>
<text transform="translate(895.89,1807.50) scale(0.878,0.841)" x="0" y="0" font-family="Liberation Serif, Times New Roman, serif" font-size="90.5" text-anchor="start" >(</text>
<text transform="translate(922.07,1806.00) scale(0.945,1.000)" x="0" y="0" font-family="Liberation Serif, Times New Roman, serif" font-size="90.5" text-anchor="start" >degree</text>
<text transform="translate(1146.66,1807.50) scale(0.848,0.841)" x="0" y="0" font-family="Liberation Serif, Times New Roman, serif" font-size="90.5" text-anchor="start" >)</text>
<text transform="translate(1793.76,575.00) scale(1.036,1.000)" x="0" y="0" font-family="Liberation Serif, Times New Roman, serif" font-size="90.5" text-anchor="start" >g</text>
<text transform="translate(1795.67,723.00) scale(1.311,1.000)" x="0" y="0" font-family="Liberation Serif, Times New Roman, serif" font-size="90.5" text-anchor="start" >f</text>
<text transform="translate(1791.87,874.50) scale(1.082,1.000)" x="0" y="0" font-family="Liberation Serif, Times New Roman, serif" font-size="90.5" text-anchor="start" >e</text>
<text transform="translate(1795.28,1043.50) scale(1.039,1.000)" x="0" y="0" font-family="Liberation Serif, Times New Roman, serif" font-size="90.5" text-anchor="start" >d</text>
<text transform="translate(1795.33,1191.50) scale(1.024,1.000)" x="0" y="0" font-family="Liberation Serif, Times New Roman, serif" font-size="90.5" text-anchor="start" >c</text>
<text transform="translate(1796.70,1335.00) scale(0.960,1.000)" x="0" y="0" font-family="Liberation Serif, Times New Roman, serif" font-size="90.5" text-anchor="start" >b</text>
<text transform="translate(1795.28,1488.30) scale(1.042,1.000)" x="0" y="0" font-family="Liberation Serif, Times New Roman, serif" font-size="90.5" text-anchor="start" >a</text>
</svg></body></html>
